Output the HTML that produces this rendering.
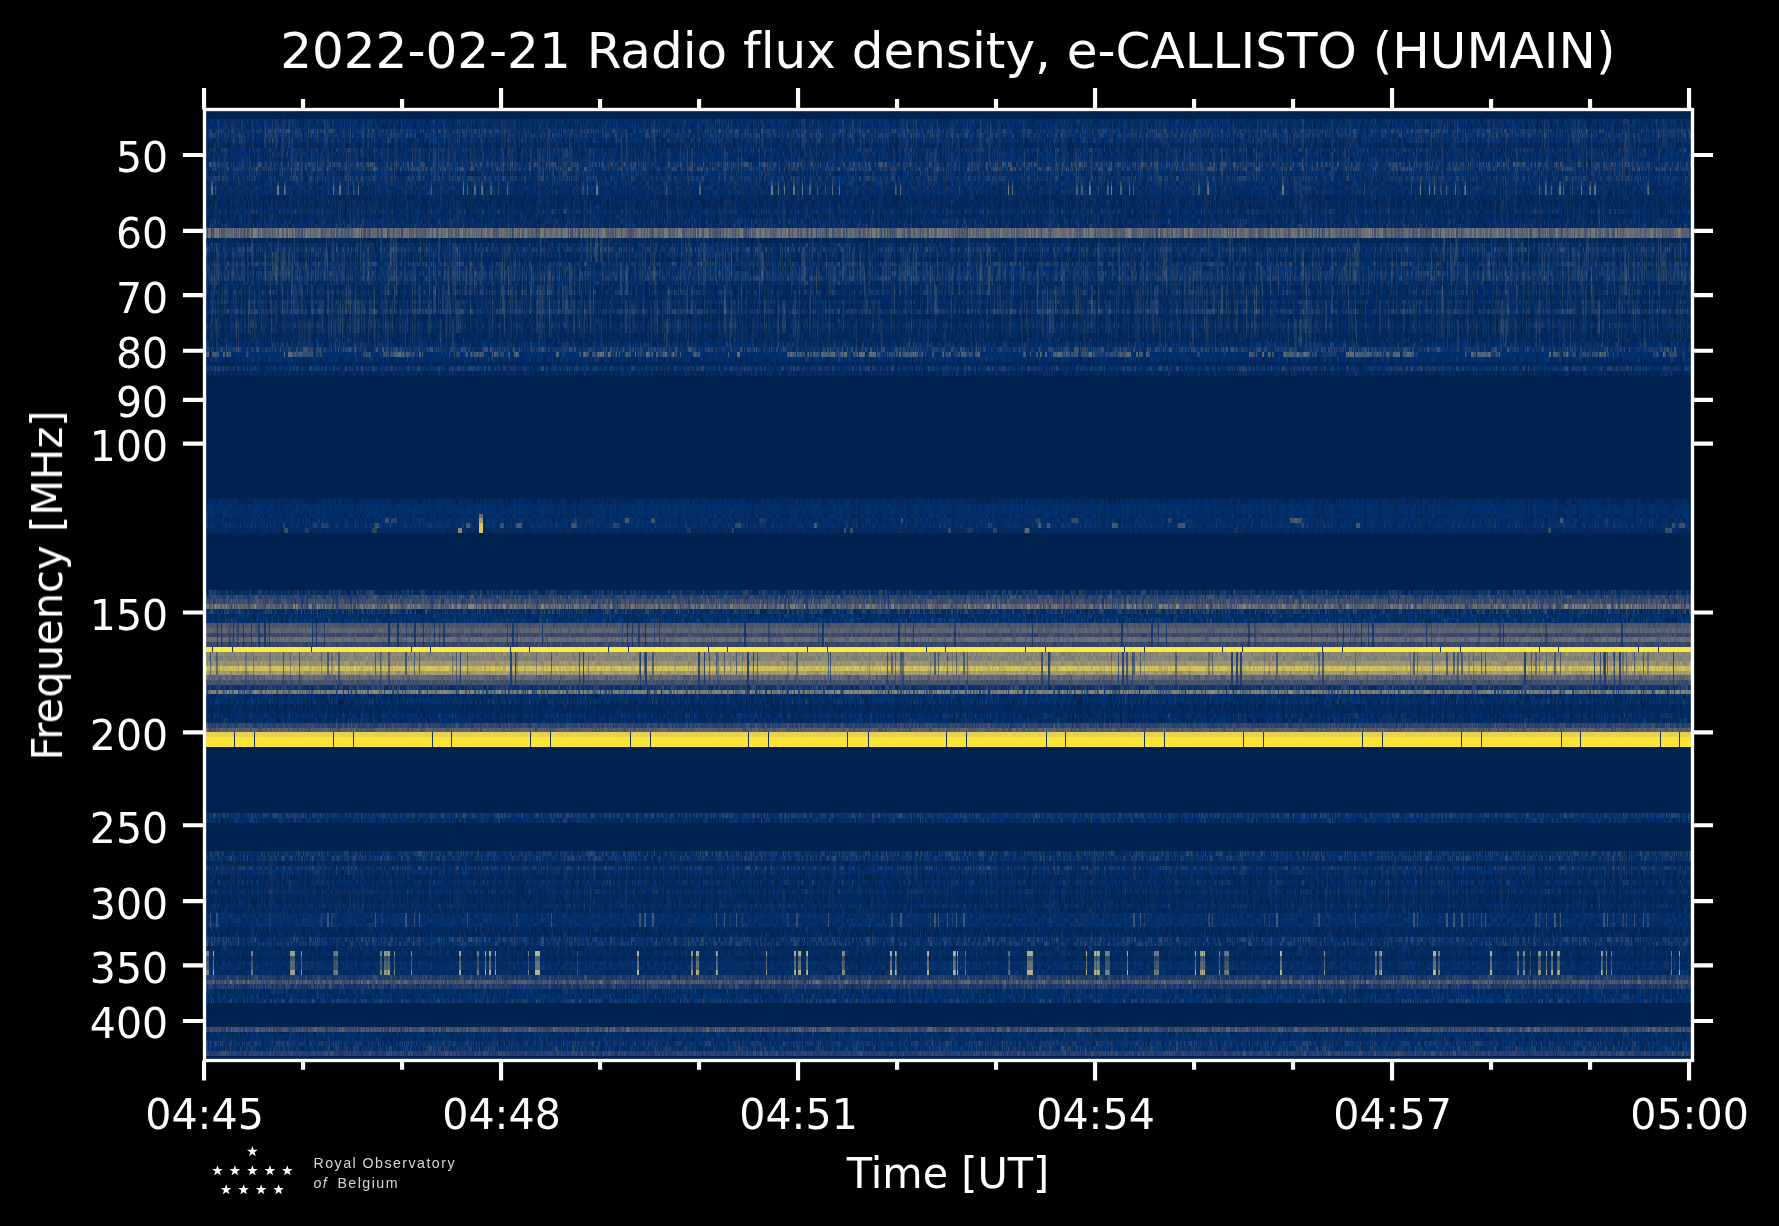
<!DOCTYPE html>
<html lang="en"><head><meta charset="utf-8"><title>2022-02-21 Radio flux density, e-CALLISTO (HUMAIN)</title><style>html,body{margin:0;padding:0;background:#000;overflow:hidden}svg{display:block}</style></head><body>
<svg width="1779" height="1226" viewBox="0 0 1779 1226">
<defs><clipPath id="ax"><rect x="204.5" y="109.5" width="1488.0" height="951.0"/></clipPath>
<filter id="gs" x="0" y="0" width="100%" height="100%" filterUnits="userSpaceOnUse" color-interpolation-filters="sRGB"><feColorMatrix type="saturate" values="0"/></filter>
<g id="n0" stroke="currentColor" transform="translate(.5)"><path opacity="0.22" d="M0 0v1m3-1v1m6-1v1m1-1v1m1-1v1m2-1v1m13-1v1m5-1v1m5-1v1m1-1v1m3-1v1m5-1v1m4-1v1m4-1v1m8-1v1m1-1v1m1-1v1m5-1v1m3-1v1m1-1v1m1-1v1m2-1v1m4-1v1m7-1v1m6-1v1m1-1v1m8-1v1m1-1v1m2-1v1m3-1v1m1-1v1m1-1v1m4-1v1m3-1v1m1-1v1m1-1v1m3-1v1m10-1v1m16-1v1m4-1v1m1-1v1m2-1v1m14-1v1m1-1v1m1-1v1m7-1v1m2-1v1m1-1v1m1-1v1m1-1v1m8-1v1m4-1v1m1-1v1m1-1v1m6-1v1m10-1v1m4-1v1m11-1v1m7-1v1m2-1v1m18-1v1m3-1v1m1-1v1m1-1v1m4-1v1m3-1v1m4-1v1m1-1v1m6-1v1m6-1v1m3-1v1m18-1v1m6-1v1m3-1v1m1-1v1m5-1v1m1-1v1m1-1v1m13-1v1m4-1v1m22-1v1m1-1v1m6-1v1m9-1v1m1-1v1m10-1v1m38-1v1m2-1v1m1-1v1m1-1v1m3-1v1m15-1v1m3-1v1m3-1v1m12-1v1m2-1v1m2-1v1m7-1v1m3-1v1m1-1v1m16-1v1m1-1v1m12-1v1m1-1v1m6-1v1m5-1v1m1-1v1m1-1v1m4-1v1m2-1v1m26-1v1m1-1v1m3-1v1m10-1v1m1-1v1m1-1v1m8-1v1m1-1v1m5-1v1m7-1v1m5-1v1m1-1v1m1-1v1m4-1v1m1-1v1m1-1v1m2-1v1m8-1v1m5-1v1m1-1v1m2-1v1m3-1v1m1-1v1m2-1v1m3-1v1m7-1v1m5-1v1m3-1v1m13-1v1m2-1v1m3-1v1m4-1v1m1-1v1m4-1v1m4-1v1m5-1v1m5-1v1m4-1v1m2-1v1m3-1v1m9-1v1m3-1v1m16-1v1m14-1v1m2-1v1m20-1v1m6-1v1m3-1v1m10-1v1m16-1v1m2-1v1m1-1v1m1-1v1m1-1v1m1-1v1m14-1v1m23-1v1m4-1v1m1-1v1m1-1v1m1-1v1m1-1v1m1-1v1m7-1v1m1-1v1m8-1v1m8-1v1m2-1v1m9-1v1m1-1v1m10-1v1m1-1v1m16-1v1m11-1v1m2-1v1m4-1v1m14-1v1m1-1v1m1-1v1m2-1v1m2-1v1m4-1v1m4-1v1m1-1v1m2-1v1m14-1v1m11-1v1m8-1v1m13-1v1m1-1v1m9-1v1m1-1v1m4-1v1m7-1v1m6-1v1m1-1v1m34-1v1m9-1v1m4-1v1m1-1v1m3-1v1m5-1v1m1-1v1m25-1v1m1-1v1m14-1v1m12-1v1m1-1v1m5-1v1m12-1v1m4-1v1m1-1v1m8-1v1m1-1v1m2-1v1m28-1v1m1-1v1m1-1v1m1-1v1m1-1v1m1-1v1m1-1v1m5-1v1m7-1v1m3-1v1m1-1v1m40-1v1m2-1v1m1-1v1m1-1v1m4-1v1m12-1v1m1-1v1m2-1v1m11-1v1m3-1v1m12-1v1m1-1v1m1-1v1m1-1v1m9-1v1m1-1v1m10-1v1m7-1v1m3-1v1m5-1v1m2-1v1m1-1v1m7-1v1m1-1v1m10-1v1m9-1v1m10-1v1m21-1v1m29-1v1m1-1v1m1-1v1m1-1v1m8-1v1m1-1v1m1-1v1m1-1v1m1-1v1m2-1v1"/><path opacity="0.42" d="M1 0v1m24-1v1m17-1v1m4-1v1m2-1v1m4-1v1m2-1v1m3-1v1m2-1v1m10-1v1m5-1v1m3-1v1m1-1v1m2-1v1m2-1v1m1-1v1m2-1v1m3-1v1m1-1v1m1-1v1m5-1v1m8-1v1m7-1v1m5-1v1m28-1v1m3-1v1m7-1v1m2-1v1m1-1v1m6-1v1m2-1v1m7-1v1m5-1v1m2-1v1m35-1v1m9-1v1m3-1v1m16-1v1m19-1v1m2-1v1m5-1v1m8-1v1m5-1v1m8-1v1m11-1v1m1-1v1m23-1v1m5-1v1m5-1v1m9-1v1m11-1v1m12-1v1m1-1v1m5-1v1m15-1v1m6-1v1m17-1v1m21-1v1m5-1v1m4-1v1m1-1v1m1-1v1m4-1v1m9-1v1m1-1v1m22-1v1m9-1v1m1-1v1m8-1v1m11-1v1m2-1v1m3-1v1m4-1v1m10-1v1m14-1v1m47-1v1m1-1v1m1-1v1m2-1v1m3-1v1m1-1v1m6-1v1m1-1v1m5-1v1m6-1v1m1-1v1m5-1v1m1-1v1m3-1v1m6-1v1m6-1v1m1-1v1m5-1v1m3-1v1m2-1v1m1-1v1m4-1v1m1-1v1m8-1v1m4-1v1m10-1v1m4-1v1m3-1v1m9-1v1m38-1v1m3-1v1m10-1v1m8-1v1m3-1v1m2-1v1m1-1v1m6-1v1m3-1v1m12-1v1m4-1v1m4-1v1m2-1v1m2-1v1m20-1v1m23-1v1m8-1v1m13-1v1m16-1v1m6-1v1m19-1v1m1-1v1m3-1v1m4-1v1m34-1v1m2-1v1m5-1v1m6-1v1m2-1v1m11-1v1m3-1v1m6-1v1m5-1v1m5-1v1m7-1v1m1-1v1m9-1v1m7-1v1m8-1v1m3-1v1m17-1v1m15-1v1m9-1v1m3-1v1m2-1v1m3-1v1m1-1v1m10-1v1m13-1v1m2-1v1m4-1v1m5-1v1m1-1v1m1-1v1m7-1v1m2-1v1m1-1v1m2-1v1m20-1v1m6-1v1m7-1v1m3-1v1m3-1v1m8-1v1m17-1v1m22-1v1m19-1v1m3-1v1m13-1v1m3-1v1m4-1v1m17-1v1m3-1v1m1-1v1m1-1v1m2-1v1m19-1v1m9-1v1m1-1v1m4-1v1m1-1v1m2-1v1m3-1v1m3-1v1m2-1v1m4-1v1m3-1v1m17-1v1m3-1v1m1-1v1m2-1v1m10-1v1m4-1v1m6-1v1m2-1v1m6-1v1m12-1v1m3-1v1m11-1v1m1-1v1m6-1v1m2-1v1m1-1v1m1-1v1m11-1v1m11-1v1m3-1v1m26-1v1m11-1v1m1-1v1m1-1v1m5-1v1m3-1v1m3-1v1m5-1v1m1-1v1m3-1v1"/><path opacity="0.62" d="M2 0v1m2-1v1m1-1v1m9-1v1m2-1v1m2-1v1m12-1v1m2-1v1m2-1v1m7-1v1m6-1v1m3-1v1m1-1v1m7-1v1m8-1v1m45-1v1m12-1v1m1-1v1m6-1v1m3-1v1m17-1v1m15-1v1m18-1v1m1-1v1m13-1v1m3-1v1m9-1v1m17-1v1m14-1v1m12-1v1m9-1v1m15-1v1m20-1v1m1-1v1m1-1v1m17-1v1m31-1v1m22-1v1m1-1v1m1-1v1m2-1v1m10-1v1m24-1v1m4-1v1m12-1v1m34-1v1m14-1v1m8-1v1m10-1v1m3-1v1m3-1v1m26-1v1m4-1v1m14-1v1m5-1v1m1-1v1m2-1v1m4-1v1m4-1v1m8-1v1m1-1v1m1-1v1m3-1v1m5-1v1m12-1v1m7-1v1m26-1v1m25-1v1m24-1v1m10-1v1m42-1v1m6-1v1m4-1v1m4-1v1m3-1v1m1-1v1m8-1v1m18-1v1m3-1v1m9-1v1m15-1v1m8-1v1m12-1v1m10-1v1m1-1v1m7-1v1m9-1v1m24-1v1m9-1v1m1-1v1m1-1v1m30-1v1m1-1v1m5-1v1m2-1v1m3-1v1m2-1v1m21-1v1m4-1v1m6-1v1m5-1v1m11-1v1m1-1v1m5-1v1m11-1v1m10-1v1m3-1v1m3-1v1m6-1v1m7-1v1m1-1v1m13-1v1m1-1v1m1-1v1m7-1v1m2-1v1m3-1v1m1-1v1m11-1v1m9-1v1m19-1v1m5-1v1m8-1v1m26-1v1m1-1v1m3-1v1m21-1v1m13-1v1m3-1v1m28-1v1m1-1v1m2-1v1m6-1v1m1-1v1m1-1v1m2-1v1m1-1v1m2-1v1m20-1v1m19-1v1m6-1v1m3-1v1m12-1v1m4-1v1m17-1v1m1-1v1m4-1v1m24-1v1m1-1v1m1-1v1m2-1v1m7-1v1m41-1v1m9-1v1m2-1v1m5-1v1m20-1v1m3-1v1m5-1v1m1-1v1m14-1v1m1-1v1m5-1v1m1-1v1m2-1v1m9-1v1m4-1v1"/><path opacity="0.82" d="M17 0v1m2-1v1m1-1v1m47-1v1m3-1v1m17-1v1m10-1v1m23-1v1m2-1v1m6-1v1m57-1v1m1-1v1m6-1v1m6-1v1m7-1v1m1-1v1m2-1v1m15-1v1m15-1v1m4-1v1m1-1v1m4-1v1m1-1v1m34-1v1m2-1v1m11-1v1m6-1v1m4-1v1m39-1v1m3-1v1m11-1v1m57-1v1m1-1v1m3-1v1m2-1v1m31-1v1m7-1v1m4-1v1m11-1v1m1-1v1m15-1v1m2-1v1m9-1v1m50-1v1m22-1v1m1-1v1m28-1v1m6-1v1m48-1v1m31-1v1m27-1v1m2-1v1m1-1v1m4-1v1m8-1v1m4-1v1m5-1v1m18-1v1m15-1v1m2-1v1m3-1v1m6-1v1m12-1v1m10-1v1m10-1v1m20-1v1m27-1v1m1-1v1m28-1v1m7-1v1m2-1v1m9-1v1m5-1v1m13-1v1m38-1v1m4-1v1m2-1v1m1-1v1m9-1v1m2-1v1m15-1v1m60-1v1m8-1v1m11-1v1m7-1v1m1-1v1m37-1v1m12-1v1m2-1v1m21-1v1m1-1v1m1-1v1m13-1v1m17-1v1m1-1v1m23-1v1m19-1v1m48-1v1m7-1v1m45-1v1m42-1v1m17-1v1m1-1v1m7-1v1m9-1v1m6-1v1m3-1v1m1-1v1m1-1v1m12-1v1m11-1v1m29-1v1"/><path opacity="1.00" d="M21 0v1m1-1v1m2-1v1m3-1v1m100-1v1m2-1v1m37-1v1m1-1v1m21-1v1m43-1v1m13-1v1m7-1v1m4-1v1m17-1v1m9-1v1m41-1v1m33-1v1m18-1v1m5-1v1m1-1v1m10-1v1m1-1v1m10-1v1m5-1v1m2-1v1m75-1v1m51-1v1m19-1v1m5-1v1m1-1v1m96-1v1m3-1v1m1-1v1m42-1v1m91-1v1m1-1v1m1-1v1m2-1v1m20-1v1m6-1v1m12-1v1m7-1v1m1-1v1m41-1v1m6-1v1m1-1v1m16-1v1m24-1v1m11-1v1m26-1v1m74-1v1m1-1v1m1-1v1m6-1v1m18-1v1m35-1v1m1-1v1m21-1v1m2-1v1m1-1v1m1-1v1m9-1v1m6-1v1m30-1v1m19-1v1m4-1v1m26-1v1m7-1v1m1-1v1m1-1v1m7-1v1m13-1v1m1-1v1m1-1v1m21-1v1m70-1v1m37-1v1m8-1v1m31-1v1m50-1v1m10-1v1m1-1v1"/></g>
<g id="n1" stroke="currentColor" transform="translate(.5)"><path opacity="0.22" d="M4 0v1m25-1v1m4-1v1m1-1v1m3-1v1m13-1v1m3-1v1m1-1v1m2-1v1m17-1v1m2-1v1m1-1v1m10-1v1m4-1v1m9-1v1m1-1v1m1-1v1m10-1v1m5-1v1m1-1v1m1-1v1m4-1v1m7-1v1m2-1v1m4-1v1m14-1v1m52-1v1m10-1v1m8-1v1m3-1v1m5-1v1m4-1v1m3-1v1m11-1v1m8-1v1m18-1v1m1-1v1m1-1v1m16-1v1m13-1v1m3-1v1m1-1v1m2-1v1m1-1v1m1-1v1m14-1v1m2-1v1m20-1v1m1-1v1m5-1v1m10-1v1m11-1v1m11-1v1m2-1v1m1-1v1m3-1v1m6-1v1m6-1v1m12-1v1m3-1v1m1-1v1m4-1v1m2-1v1m9-1v1m14-1v1m1-1v1m4-1v1m4-1v1m1-1v1m6-1v1m3-1v1m11-1v1m7-1v1m1-1v1m3-1v1m1-1v1m1-1v1m4-1v1m2-1v1m1-1v1m5-1v1m3-1v1m2-1v1m3-1v1m4-1v1m1-1v1m5-1v1m11-1v1m4-1v1m6-1v1m4-1v1m11-1v1m10-1v1m3-1v1m1-1v1m1-1v1m18-1v1m4-1v1m1-1v1m4-1v1m1-1v1m9-1v1m2-1v1m5-1v1m5-1v1m6-1v1m3-1v1m7-1v1m8-1v1m12-1v1m5-1v1m2-1v1m2-1v1m2-1v1m22-1v1m6-1v1m6-1v1m11-1v1m1-1v1m4-1v1m2-1v1m6-1v1m5-1v1m9-1v1m1-1v1m3-1v1m29-1v1m1-1v1m6-1v1m26-1v1m17-1v1m9-1v1m6-1v1m1-1v1m4-1v1m6-1v1m3-1v1m2-1v1m10-1v1m1-1v1m3-1v1m16-1v1m2-1v1m5-1v1m8-1v1m3-1v1m13-1v1m8-1v1m2-1v1m4-1v1m15-1v1m12-1v1m1-1v1m8-1v1m1-1v1m2-1v1m6-1v1m1-1v1m2-1v1m1-1v1m2-1v1m2-1v1m7-1v1m6-1v1m4-1v1m6-1v1m1-1v1m1-1v1m1-1v1m3-1v1m6-1v1m1-1v1m4-1v1m7-1v1m8-1v1m2-1v1m1-1v1m3-1v1m3-1v1m6-1v1m16-1v1m8-1v1m1-1v1m1-1v1m20-1v1m6-1v1m14-1v1m16-1v1m2-1v1m14-1v1m6-1v1m10-1v1m8-1v1m1-1v1m5-1v1m7-1v1m17-1v1m12-1v1m16-1v1m1-1v1m2-1v1m3-1v1m10-1v1m5-1v1m1-1v1m2-1v1m3-1v1m15-1v1m15-1v1m3-1v1m1-1v1m6-1v1m1-1v1m4-1v1m1-1v1m3-1v1m9-1v1m13-1v1m12-1v1m6-1v1m2-1v1m1-1v1m8-1v1m7-1v1m9-1v1m6-1v1m17-1v1m1-1v1m3-1v1m15-1v1m1-1v1m1-1v1m2-1v1m3-1v1m8-1v1m13-1v1m2-1v1m3-1v1m1-1v1m2-1v1m1-1v1m1-1v1m11-1v1m1-1v1m4-1v1m11-1v1m4-1v1"/><path opacity="0.42" d="M1 0v1m17-1v1m3-1v1m5-1v1m2-1v1m3-1v1m8-1v1m6-1v1m7-1v1m3-1v1m5-1v1m1-1v1m1-1v1m4-1v1m3-1v1m10-1v1m1-1v1m3-1v1m2-1v1m2-1v1m8-1v1m3-1v1m4-1v1m28-1v1m8-1v1m4-1v1m8-1v1m2-1v1m4-1v1m3-1v1m9-1v1m4-1v1m1-1v1m12-1v1m1-1v1m12-1v1m14-1v1m1-1v1m10-1v1m6-1v1m4-1v1m8-1v1m13-1v1m3-1v1m7-1v1m10-1v1m2-1v1m1-1v1m13-1v1m2-1v1m4-1v1m20-1v1m2-1v1m4-1v1m12-1v1m1-1v1m1-1v1m1-1v1m1-1v1m3-1v1m8-1v1m1-1v1m10-1v1m3-1v1m18-1v1m11-1v1m3-1v1m8-1v1m4-1v1m3-1v1m1-1v1m8-1v1m7-1v1m5-1v1m1-1v1m8-1v1m5-1v1m1-1v1m5-1v1m13-1v1m3-1v1m13-1v1m6-1v1m7-1v1m2-1v1m5-1v1m4-1v1m14-1v1m1-1v1m2-1v1m5-1v1m6-1v1m6-1v1m16-1v1m5-1v1m1-1v1m8-1v1m15-1v1m20-1v1m31-1v1m1-1v1m10-1v1m21-1v1m5-1v1m5-1v1m20-1v1m1-1v1m3-1v1m15-1v1m1-1v1m2-1v1m2-1v1m1-1v1m1-1v1m22-1v1m1-1v1m33-1v1m3-1v1m1-1v1m7-1v1m1-1v1m6-1v1m4-1v1m9-1v1m16-1v1m18-1v1m17-1v1m1-1v1m11-1v1m3-1v1m3-1v1m1-1v1m10-1v1m13-1v1m5-1v1m8-1v1m8-1v1m3-1v1m6-1v1m19-1v1m3-1v1m4-1v1m4-1v1m16-1v1m40-1v1m1-1v1m1-1v1m30-1v1m2-1v1m2-1v1m1-1v1m13-1v1m10-1v1m8-1v1m4-1v1m25-1v1m5-1v1m2-1v1m1-1v1m5-1v1m1-1v1m10-1v1m5-1v1m1-1v1m15-1v1m1-1v1m17-1v1m7-1v1m7-1v1m1-1v1m5-1v1m7-1v1m13-1v1m1-1v1m6-1v1m29-1v1m28-1v1m13-1v1m7-1v1m18-1v1m8-1v1m3-1v1m1-1v1m8-1v1m8-1v1m9-1v1m4-1v1m12-1v1m5-1v1m1-1v1m2-1v1m2-1v1m4-1v1m5-1v1m7-1v1m20-1v1m3-1v1m14-1v1m15-1v1m9-1v1m2-1v1m10-1v1m2-1v1m1-1v1"/><path opacity="0.62" d="M6 0v1m1-1v1m6-1v1m2-1v1m12-1v1m30-1v1m7-1v1m1-1v1m2-1v1m4-1v1m1-1v1m22-1v1m3-1v1m9-1v1m1-1v1m7-1v1m22-1v1m11-1v1m1-1v1m5-1v1m18-1v1m4-1v1m3-1v1m9-1v1m5-1v1m24-1v1m14-1v1m2-1v1m8-1v1m4-1v1m49-1v1m1-1v1m3-1v1m1-1v1m2-1v1m1-1v1m16-1v1m13-1v1m25-1v1m9-1v1m4-1v1m9-1v1m11-1v1m5-1v1m1-1v1m27-1v1m18-1v1m4-1v1m7-1v1m3-1v1m2-1v1m18-1v1m26-1v1m2-1v1m35-1v1m6-1v1m1-1v1m4-1v1m1-1v1m13-1v1m26-1v1m4-1v1m1-1v1m4-1v1m1-1v1m10-1v1m4-1v1m1-1v1m6-1v1m3-1v1m9-1v1m7-1v1m14-1v1m7-1v1m12-1v1m7-1v1m5-1v1m2-1v1m19-1v1m1-1v1m30-1v1m4-1v1m8-1v1m9-1v1m7-1v1m1-1v1m24-1v1m7-1v1m1-1v1m2-1v1m7-1v1m14-1v1m16-1v1m10-1v1m60-1v1m1-1v1m12-1v1m1-1v1m1-1v1m1-1v1m7-1v1m4-1v1m11-1v1m10-1v1m16-1v1m2-1v1m13-1v1m16-1v1m4-1v1m9-1v1m3-1v1m10-1v1m16-1v1m7-1v1m11-1v1m1-1v1m2-1v1m1-1v1m19-1v1m1-1v1m2-1v1m7-1v1m9-1v1m17-1v1m1-1v1m2-1v1m22-1v1m13-1v1m1-1v1m2-1v1m4-1v1m1-1v1m19-1v1m13-1v1m5-1v1m1-1v1m20-1v1m14-1v1m9-1v1m1-1v1m23-1v1m1-1v1m36-1v1m13-1v1m8-1v1m6-1v1m3-1v1m1-1v1m5-1v1m11-1v1m2-1v1m1-1v1m3-1v1m1-1v1m4-1v1m7-1v1m5-1v1m8-1v1m12-1v1m31-1v1m1-1v1m4-1v1m1-1v1m2-1v1m41-1v1m2-1v1m1-1v1"/><path opacity="0.82" d="M3 0v1m13-1v1m28-1v1m2-1v1m22-1v1m14-1v1m7-1v1m7-1v1m17-1v1m19-1v1m5-1v1m2-1v1m7-1v1m8-1v1m1-1v1m3-1v1m12-1v1m4-1v1m15-1v1m5-1v1m1-1v1m1-1v1m18-1v1m11-1v1m12-1v1m24-1v1m5-1v1m2-1v1m11-1v1m20-1v1m4-1v1m1-1v1m38-1v1m24-1v1m5-1v1m1-1v1m4-1v1m44-1v1m7-1v1m7-1v1m24-1v1m10-1v1m1-1v1m3-1v1m7-1v1m13-1v1m11-1v1m13-1v1m8-1v1m3-1v1m10-1v1m2-1v1m19-1v1m15-1v1m1-1v1m1-1v1m1-1v1m2-1v1m6-1v1m25-1v1m10-1v1m12-1v1m26-1v1m7-1v1m24-1v1m10-1v1m8-1v1m18-1v1m40-1v1m19-1v1m24-1v1m7-1v1m1-1v1m13-1v1m4-1v1m3-1v1m4-1v1m10-1v1m1-1v1m23-1v1m8-1v1m11-1v1m1-1v1m41-1v1m11-1v1m1-1v1m3-1v1m1-1v1m108-1v1m13-1v1m10-1v1m13-1v1m19-1v1m3-1v1m24-1v1m1-1v1m1-1v1m16-1v1m18-1v1m5-1v1m1-1v1m7-1v1m1-1v1m16-1v1m11-1v1m4-1v1m21-1v1m18-1v1m11-1v1m1-1v1m13-1v1m1-1v1m4-1v1m34-1v1m1-1v1m1-1v1m9-1v1m19-1v1m9-1v1m25-1v1m7-1v1m10-1v1m7-1v1m22-1v1m46-1v1m2-1v1m2-1v1m4-1v1m2-1v1"/><path opacity="1.00" d="M78 0v1m3-1v1m34-1v1m18-1v1m29-1v1m7-1v1m7-1v1m3-1v1m1-1v1m10-1v1m14-1v1m1-1v1m2-1v1m3-1v1m74-1v1m72-1v1m11-1v1m24-1v1m9-1v1m42-1v1m17-1v1m1-1v1m10-1v1m13-1v1m28-1v1m38-1v1m1-1v1m1-1v1m1-1v1m30-1v1m31-1v1m1-1v1m8-1v1m37-1v1m3-1v1m7-1v1m14-1v1m2-1v1m5-1v1m1-1v1m16-1v1m77-1v1m24-1v1m3-1v1m1-1v1m1-1v1m11-1v1m16-1v1m26-1v1m16-1v1m13-1v1m1-1v1m3-1v1m1-1v1m29-1v1m1-1v1m17-1v1m1-1v1m12-1v1m6-1v1m9-1v1m15-1v1m11-1v1m12-1v1m11-1v1m45-1v1m22-1v1m7-1v1m40-1v1m9-1v1m65-1v1m1-1v1m68-1v1m16-1v1m24-1v1m1-1v1m1-1v1m62-1v1m58-1v1m24-1v1m16-1v1"/></g>
<g id="n2" stroke="currentColor" transform="translate(.5)"><path opacity="0.22" d="M21 0v1m1-1v1m2-1v1m2-1v1m1-1v1m7-1v1m13-1v1m8-1v1m9-1v1m1-1v1m15-1v1m1-1v1m2-1v1m12-1v1m5-1v1m10-1v1m5-1v1m3-1v1m8-1v1m8-1v1m1-1v1m2-1v1m2-1v1m2-1v1m15-1v1m4-1v1m1-1v1m14-1v1m1-1v1m6-1v1m4-1v1m7-1v1m1-1v1m1-1v1m1-1v1m1-1v1m2-1v1m14-1v1m8-1v1m1-1v1m8-1v1m1-1v1m2-1v1m7-1v1m20-1v1m15-1v1m3-1v1m9-1v1m1-1v1m5-1v1m1-1v1m1-1v1m2-1v1m8-1v1m9-1v1m4-1v1m1-1v1m5-1v1m1-1v1m10-1v1m1-1v1m1-1v1m15-1v1m1-1v1m1-1v1m16-1v1m4-1v1m3-1v1m1-1v1m1-1v1m6-1v1m1-1v1m2-1v1m1-1v1m8-1v1m12-1v1m4-1v1m6-1v1m14-1v1m3-1v1m4-1v1m3-1v1m1-1v1m8-1v1m9-1v1m1-1v1m1-1v1m3-1v1m1-1v1m8-1v1m1-1v1m8-1v1m2-1v1m1-1v1m4-1v1m16-1v1m8-1v1m2-1v1m3-1v1m4-1v1m8-1v1m3-1v1m13-1v1m1-1v1m1-1v1m1-1v1m5-1v1m2-1v1m11-1v1m6-1v1m1-1v1m6-1v1m22-1v1m8-1v1m27-1v1m1-1v1m4-1v1m1-1v1m2-1v1m1-1v1m32-1v1m1-1v1m5-1v1m10-1v1m4-1v1m1-1v1m13-1v1m6-1v1m3-1v1m10-1v1m1-1v1m3-1v1m7-1v1m6-1v1m1-1v1m1-1v1m6-1v1m16-1v1m1-1v1m4-1v1m1-1v1m2-1v1m1-1v1m8-1v1m6-1v1m8-1v1m2-1v1m4-1v1m4-1v1m1-1v1m1-1v1m6-1v1m5-1v1m4-1v1m1-1v1m3-1v1m1-1v1m1-1v1m14-1v1m7-1v1m4-1v1m20-1v1m3-1v1m8-1v1m4-1v1m2-1v1m5-1v1m3-1v1m1-1v1m1-1v1m4-1v1m1-1v1m2-1v1m19-1v1m2-1v1m1-1v1m11-1v1m4-1v1m1-1v1m4-1v1m19-1v1m1-1v1m6-1v1m3-1v1m3-1v1m14-1v1m25-1v1m1-1v1m1-1v1m11-1v1m1-1v1m1-1v1m3-1v1m8-1v1m5-1v1m3-1v1m1-1v1m1-1v1m12-1v1m6-1v1m1-1v1m2-1v1m1-1v1m1-1v1m1-1v1m2-1v1m1-1v1m14-1v1m1-1v1m2-1v1m1-1v1m6-1v1m1-1v1m6-1v1m1-1v1m1-1v1m12-1v1m2-1v1m6-1v1m6-1v1m2-1v1m8-1v1m5-1v1m1-1v1m13-1v1m1-1v1m1-1v1m1-1v1m2-1v1m6-1v1m15-1v1m3-1v1m10-1v1m1-1v1m1-1v1m1-1v1m2-1v1m17-1v1m2-1v1m1-1v1m4-1v1m1-1v1m11-1v1m1-1v1m3-1v1m6-1v1m1-1v1m6-1v1m1-1v1m1-1v1m2-1v1m2-1v1m1-1v1m2-1v1m27-1v1m27-1v1m3-1v1m8-1v1m2-1v1m35-1v1m2-1v1m2-1v1m3-1v1m7-1v1m7-1v1m1-1v1m1-1v1m14-1v1m5-1v1m14-1v1m1-1v1m1-1v1m11-1v1m8-1v1m1-1v1m2-1v1m7-1v1"/><path opacity="0.42" d="M9 0v1m4-1v1m1-1v1m5-1v1m13-1v1m7-1v1m7-1v1m20-1v1m2-1v1m9-1v1m5-1v1m5-1v1m11-1v1m1-1v1m29-1v1m5-1v1m3-1v1m9-1v1m12-1v1m6-1v1m2-1v1m2-1v1m5-1v1m1-1v1m8-1v1m22-1v1m5-1v1m6-1v1m2-1v1m8-1v1m4-1v1m6-1v1m7-1v1m6-1v1m5-1v1m10-1v1m9-1v1m14-1v1m14-1v1m13-1v1m1-1v1m3-1v1m13-1v1m14-1v1m5-1v1m1-1v1m14-1v1m9-1v1m4-1v1m4-1v1m21-1v1m1-1v1m8-1v1m1-1v1m9-1v1m5-1v1m14-1v1m3-1v1m3-1v1m2-1v1m1-1v1m6-1v1m4-1v1m25-1v1m5-1v1m1-1v1m13-1v1m4-1v1m4-1v1m1-1v1m10-1v1m12-1v1m9-1v1m1-1v1m2-1v1m25-1v1m13-1v1m6-1v1m4-1v1m2-1v1m1-1v1m3-1v1m7-1v1m4-1v1m6-1v1m5-1v1m1-1v1m2-1v1m1-1v1m38-1v1m3-1v1m1-1v1m5-1v1m12-1v1m18-1v1m1-1v1m3-1v1m2-1v1m5-1v1m2-1v1m1-1v1m10-1v1m2-1v1m2-1v1m1-1v1m11-1v1m3-1v1m10-1v1m1-1v1m6-1v1m9-1v1m19-1v1m9-1v1m3-1v1m4-1v1m4-1v1m8-1v1m11-1v1m19-1v1m7-1v1m9-1v1m3-1v1m6-1v1m1-1v1m3-1v1m2-1v1m2-1v1m6-1v1m5-1v1m4-1v1m3-1v1m7-1v1m14-1v1m17-1v1m9-1v1m21-1v1m1-1v1m18-1v1m1-1v1m2-1v1m6-1v1m16-1v1m14-1v1m1-1v1m3-1v1m18-1v1m4-1v1m2-1v1m1-1v1m15-1v1m13-1v1m20-1v1m20-1v1m1-1v1m6-1v1m1-1v1m4-1v1m14-1v1m11-1v1m10-1v1m1-1v1m3-1v1m12-1v1m6-1v1m4-1v1m4-1v1m12-1v1m13-1v1m2-1v1m7-1v1m2-1v1m2-1v1m1-1v1m8-1v1m1-1v1m11-1v1m1-1v1m7-1v1m17-1v1m15-1v1m13-1v1m1-1v1m1-1v1m6-1v1m9-1v1m2-1v1m3-1v1m1-1v1m6-1v1m3-1v1m10-1v1m6-1v1m1-1v1m5-1v1m10-1v1m19-1v1m23-1v1m5-1v1m13-1v1m17-1v1m12-1v1m9-1v1m1-1v1m1-1v1m2-1v1m6-1v1m2-1v1m2-1v1"/><path opacity="0.62" d="M5 0v1m3-1v1m7-1v1m5-1v1m5-1v1m5-1v1m11-1v1m3-1v1m5-1v1m2-1v1m57-1v1m8-1v1m3-1v1m11-1v1m1-1v1m12-1v1m6-1v1m4-1v1m9-1v1m4-1v1m5-1v1m7-1v1m26-1v1m13-1v1m3-1v1m15-1v1m3-1v1m8-1v1m2-1v1m9-1v1m15-1v1m1-1v1m3-1v1m1-1v1m15-1v1m15-1v1m2-1v1m35-1v1m12-1v1m1-1v1m3-1v1m8-1v1m7-1v1m8-1v1m1-1v1m6-1v1m8-1v1m20-1v1m12-1v1m1-1v1m18-1v1m10-1v1m13-1v1m1-1v1m8-1v1m9-1v1m3-1v1m1-1v1m1-1v1m27-1v1m7-1v1m2-1v1m6-1v1m7-1v1m2-1v1m7-1v1m4-1v1m5-1v1m12-1v1m5-1v1m8-1v1m28-1v1m2-1v1m12-1v1m1-1v1m1-1v1m5-1v1m6-1v1m8-1v1m3-1v1m17-1v1m1-1v1m3-1v1m3-1v1m6-1v1m44-1v1m13-1v1m1-1v1m2-1v1m3-1v1m8-1v1m9-1v1m9-1v1m4-1v1m5-1v1m11-1v1m8-1v1m24-1v1m7-1v1m4-1v1m4-1v1m10-1v1m5-1v1m34-1v1m1-1v1m23-1v1m7-1v1m2-1v1m4-1v1m20-1v1m16-1v1m1-1v1m1-1v1m20-1v1m27-1v1m14-1v1m3-1v1m10-1v1m1-1v1m12-1v1m21-1v1m3-1v1m2-1v1m5-1v1m14-1v1m8-1v1m6-1v1m19-1v1m15-1v1m7-1v1m15-1v1m11-1v1m11-1v1m2-1v1m4-1v1m4-1v1m1-1v1m5-1v1m11-1v1m1-1v1m12-1v1m2-1v1m1-1v1m6-1v1m12-1v1m12-1v1m26-1v1m5-1v1m8-1v1m8-1v1m3-1v1m5-1v1m16-1v1m5-1v1m15-1v1m27-1v1m19-1v1m17-1v1m1-1v1m3-1v1m37-1v1m6-1v1m1-1v1m8-1v1m14-1v1m4-1v1"/><path opacity="0.82" d="M4 0v1m7-1v1m5-1v1m55-1v1m19-1v1m3-1v1m1-1v1m12-1v1m6-1v1m10-1v1m32-1v1m4-1v1m11-1v1m14-1v1m4-1v1m5-1v1m13-1v1m5-1v1m26-1v1m19-1v1m14-1v1m5-1v1m22-1v1m4-1v1m1-1v1m7-1v1m3-1v1m10-1v1m1-1v1m29-1v1m22-1v1m19-1v1m1-1v1m14-1v1m22-1v1m24-1v1m12-1v1m35-1v1m27-1v1m12-1v1m2-1v1m20-1v1m17-1v1m2-1v1m8-1v1m2-1v1m4-1v1m14-1v1m3-1v1m7-1v1m5-1v1m11-1v1m15-1v1m7-1v1m6-1v1m2-1v1m5-1v1m19-1v1m7-1v1m14-1v1m52-1v1m4-1v1m1-1v1m30-1v1m5-1v1m18-1v1m6-1v1m18-1v1m8-1v1m24-1v1m26-1v1m23-1v1m2-1v1m38-1v1m39-1v1m31-1v1m5-1v1m2-1v1m1-1v1m38-1v1m11-1v1m15-1v1m6-1v1m1-1v1m32-1v1m43-1v1m8-1v1m6-1v1m2-1v1m27-1v1m22-1v1m1-1v1m1-1v1m15-1v1m3-1v1m20-1v1m7-1v1m20-1v1m41-1v1m8-1v1m1-1v1m2-1v1m1-1v1m3-1v1m4-1v1m18-1v1m8-1v1m1-1v1m1-1v1m11-1v1m4-1v1m1-1v1m1-1v1m9-1v1m3-1v1m3-1v1m20-1v1m5-1v1m7-1v1m18-1v1"/><path opacity="1.00" d="M12 0v1m11-1v1m12-1v1m17-1v1m39-1v1m16-1v1m7-1v1m28-1v1m5-1v1m12-1v1m11-1v1m18-1v1m1-1v1m17-1v1m9-1v1m34-1v1m1-1v1m4-1v1m2-1v1m3-1v1m6-1v1m1-1v1m1-1v1m1-1v1m2-1v1m11-1v1m1-1v1m4-1v1m16-1v1m36-1v1m1-1v1m1-1v1m24-1v1m2-1v1m5-1v1m37-1v1m20-1v1m43-1v1m14-1v1m13-1v1m1-1v1m17-1v1m12-1v1m63-1v1m10-1v1m56-1v1m8-1v1m24-1v1m1-1v1m35-1v1m59-1v1m1-1v1m1-1v1m3-1v1m9-1v1m28-1v1m8-1v1m19-1v1m44-1v1m31-1v1m3-1v1m1-1v1m16-1v1m8-1v1m1-1v1m1-1v1m15-1v1m1-1v1m1-1v1m29-1v1m11-1v1m21-1v1m4-1v1m6-1v1m13-1v1m9-1v1m11-1v1m18-1v1m3-1v1m5-1v1m16-1v1m23-1v1m64-1v1m1-1v1m8-1v1m1-1v1m1-1v1m21-1v1m62-1v1m19-1v1m4-1v1m25-1v1m12-1v1m1-1v1m1-1v1m17-1v1m1-1v1m3-1v1m19-1v1m1-1v1m8-1v1m15-1v1m4-1v1m11-1v1m39-1v1m7-1v1"/></g>
<g id="n3" stroke="currentColor" transform="translate(.5)"><path opacity="0.22" d="M11 0v1m11-1v1m4-1v1m21-1v1m10-1v1m1-1v1m1-1v1m14-1v1m1-1v1m1-1v1m1-1v1m1-1v1m1-1v1m24-1v1m1-1v1m4-1v1m1-1v1m9-1v1m2-1v1m2-1v1m2-1v1m5-1v1m3-1v1m18-1v1m6-1v1m1-1v1m12-1v1m2-1v1m13-1v1m4-1v1m14-1v1m1-1v1m5-1v1m6-1v1m1-1v1m1-1v1m1-1v1m8-1v1m1-1v1m1-1v1m1-1v1m2-1v1m16-1v1m7-1v1m9-1v1m3-1v1m3-1v1m1-1v1m3-1v1m1-1v1m15-1v1m8-1v1m1-1v1m2-1v1m14-1v1m1-1v1m2-1v1m1-1v1m2-1v1m2-1v1m4-1v1m3-1v1m17-1v1m13-1v1m1-1v1m1-1v1m1-1v1m15-1v1m4-1v1m3-1v1m8-1v1m1-1v1m13-1v1m1-1v1m3-1v1m8-1v1m1-1v1m12-1v1m2-1v1m17-1v1m7-1v1m2-1v1m6-1v1m5-1v1m5-1v1m6-1v1m8-1v1m9-1v1m7-1v1m2-1v1m1-1v1m4-1v1m1-1v1m1-1v1m8-1v1m5-1v1m1-1v1m1-1v1m1-1v1m3-1v1m2-1v1m2-1v1m1-1v1m1-1v1m2-1v1m10-1v1m1-1v1m2-1v1m2-1v1m1-1v1m4-1v1m4-1v1m4-1v1m1-1v1m2-1v1m2-1v1m5-1v1m2-1v1m30-1v1m12-1v1m1-1v1m5-1v1m6-1v1m5-1v1m1-1v1m2-1v1m5-1v1m17-1v1m3-1v1m1-1v1m2-1v1m3-1v1m1-1v1m3-1v1m20-1v1m1-1v1m1-1v1m2-1v1m2-1v1m14-1v1m5-1v1m9-1v1m6-1v1m5-1v1m2-1v1m1-1v1m2-1v1m1-1v1m14-1v1m2-1v1m9-1v1m1-1v1m3-1v1m21-1v1m3-1v1m1-1v1m11-1v1m4-1v1m5-1v1m2-1v1m1-1v1m3-1v1m4-1v1m1-1v1m11-1v1m7-1v1m5-1v1m3-1v1m7-1v1m5-1v1m2-1v1m1-1v1m1-1v1m4-1v1m1-1v1m4-1v1m3-1v1m3-1v1m1-1v1m4-1v1m5-1v1m1-1v1m2-1v1m1-1v1m3-1v1m3-1v1m5-1v1m23-1v1m7-1v1m4-1v1m8-1v1m6-1v1m9-1v1m17-1v1m1-1v1m1-1v1m6-1v1m2-1v1m2-1v1m6-1v1m5-1v1m3-1v1m1-1v1m10-1v1m5-1v1m2-1v1m3-1v1m2-1v1m3-1v1m8-1v1m3-1v1m2-1v1m1-1v1m1-1v1m5-1v1m1-1v1m2-1v1m7-1v1m10-1v1m1-1v1m1-1v1m1-1v1m19-1v1m28-1v1m4-1v1m1-1v1m4-1v1m8-1v1m1-1v1m8-1v1m7-1v1m4-1v1m6-1v1m1-1v1m2-1v1m2-1v1m7-1v1m2-1v1m9-1v1m8-1v1m5-1v1m4-1v1m8-1v1m15-1v1m3-1v1m1-1v1m16-1v1m1-1v1m23-1v1m9-1v1m1-1v1m7-1v1m1-1v1m1-1v1m1-1v1m8-1v1m3-1v1m1-1v1m5-1v1m1-1v1m1-1v1m11-1v1m20-1v1m1-1v1m1-1v1m14-1v1m2-1v1m1-1v1m12-1v1m1-1v1m1-1v1m1-1v1m2-1v1m3-1v1m12-1v1m19-1v1m2-1v1m6-1v1m1-1v1m2-1v1m1-1v1m7-1v1m22-1v1m5-1v1m6-1v1m5-1v1m1-1v1m1-1v1m4-1v1"/><path opacity="0.42" d="M4 0v1m2-1v1m9-1v1m1-1v1m2-1v1m6-1v1m1-1v1m8-1v1m1-1v1m6-1v1m20-1v1m2-1v1m19-1v1m6-1v1m2-1v1m3-1v1m19-1v1m7-1v1m2-1v1m2-1v1m14-1v1m1-1v1m4-1v1m2-1v1m1-1v1m4-1v1m12-1v1m3-1v1m3-1v1m1-1v1m4-1v1m4-1v1m10-1v1m1-1v1m4-1v1m13-1v1m2-1v1m1-1v1m11-1v1m2-1v1m2-1v1m1-1v1m1-1v1m5-1v1m13-1v1m7-1v1m1-1v1m4-1v1m5-1v1m17-1v1m1-1v1m14-1v1m4-1v1m8-1v1m1-1v1m1-1v1m6-1v1m4-1v1m5-1v1m3-1v1m8-1v1m10-1v1m7-1v1m2-1v1m12-1v1m1-1v1m4-1v1m19-1v1m4-1v1m9-1v1m8-1v1m1-1v1m2-1v1m1-1v1m3-1v1m5-1v1m12-1v1m32-1v1m5-1v1m2-1v1m1-1v1m10-1v1m1-1v1m3-1v1m2-1v1m6-1v1m2-1v1m1-1v1m2-1v1m4-1v1m1-1v1m5-1v1m2-1v1m12-1v1m11-1v1m6-1v1m9-1v1m4-1v1m11-1v1m9-1v1m7-1v1m2-1v1m8-1v1m4-1v1m2-1v1m2-1v1m2-1v1m12-1v1m6-1v1m10-1v1m2-1v1m12-1v1m7-1v1m1-1v1m3-1v1m5-1v1m2-1v1m2-1v1m5-1v1m12-1v1m3-1v1m19-1v1m2-1v1m5-1v1m1-1v1m8-1v1m9-1v1m1-1v1m6-1v1m7-1v1m4-1v1m10-1v1m7-1v1m1-1v1m17-1v1m2-1v1m8-1v1m4-1v1m2-1v1m5-1v1m12-1v1m10-1v1m14-1v1m2-1v1m5-1v1m7-1v1m6-1v1m2-1v1m4-1v1m6-1v1m10-1v1m1-1v1m14-1v1m7-1v1m9-1v1m6-1v1m9-1v1m10-1v1m6-1v1m5-1v1m6-1v1m6-1v1m2-1v1m6-1v1m1-1v1m5-1v1m3-1v1m6-1v1m2-1v1m5-1v1m17-1v1m18-1v1m9-1v1m2-1v1m13-1v1m2-1v1m1-1v1m11-1v1m4-1v1m2-1v1m20-1v1m1-1v1m2-1v1m1-1v1m8-1v1m5-1v1m2-1v1m8-1v1m3-1v1m18-1v1m10-1v1m2-1v1m1-1v1m4-1v1m11-1v1m1-1v1m1-1v1m9-1v1m1-1v1m5-1v1m2-1v1m5-1v1m2-1v1m2-1v1m32-1v1m5-1v1m1-1v1m9-1v1m33-1v1m10-1v1m35-1v1m1-1v1m1-1v1m7-1v1m1-1v1m1-1v1m7-1v1m4-1v1m13-1v1m1-1v1m10-1v1m21-1v1m7-1v1m17-1v1m3-1v1m37-1v1m2-1v1m1-1v1m17-1v1m1-1v1m6-1v1m11-1v1m2-1v1"/><path opacity="0.62" d="M0 0v1m1-1v1m1-1v1m8-1v1m17-1v1m4-1v1m10-1v1m8-1v1m6-1v1m12-1v1m1-1v1m3-1v1m30-1v1m3-1v1m29-1v1m1-1v1m8-1v1m3-1v1m5-1v1m11-1v1m1-1v1m10-1v1m2-1v1m7-1v1m7-1v1m16-1v1m26-1v1m3-1v1m3-1v1m7-1v1m7-1v1m5-1v1m29-1v1m1-1v1m6-1v1m2-1v1m15-1v1m15-1v1m13-1v1m1-1v1m14-1v1m1-1v1m15-1v1m2-1v1m2-1v1m2-1v1m23-1v1m45-1v1m1-1v1m7-1v1m22-1v1m12-1v1m2-1v1m28-1v1m2-1v1m1-1v1m3-1v1m5-1v1m24-1v1m38-1v1m9-1v1m4-1v1m1-1v1m3-1v1m5-1v1m9-1v1m1-1v1m11-1v1m13-1v1m7-1v1m3-1v1m5-1v1m21-1v1m1-1v1m2-1v1m8-1v1m2-1v1m14-1v1m3-1v1m4-1v1m10-1v1m10-1v1m1-1v1m12-1v1m4-1v1m1-1v1m6-1v1m14-1v1m10-1v1m6-1v1m25-1v1m19-1v1m31-1v1m6-1v1m4-1v1m21-1v1m4-1v1m15-1v1m1-1v1m5-1v1m14-1v1m9-1v1m6-1v1m1-1v1m3-1v1m8-1v1m7-1v1m12-1v1m22-1v1m10-1v1m8-1v1m9-1v1m2-1v1m5-1v1m6-1v1m17-1v1m17-1v1m1-1v1m23-1v1m10-1v1m2-1v1m3-1v1m29-1v1m10-1v1m3-1v1m41-1v1m5-1v1m2-1v1m1-1v1m7-1v1m18-1v1m6-1v1m11-1v1m1-1v1m8-1v1m12-1v1m1-1v1m3-1v1m51-1v1m22-1v1m15-1v1m13-1v1m5-1v1m20-1v1m1-1v1m5-1v1m3-1v1m9-1v1m9-1v1m3-1v1m33-1v1m9-1v1m18-1v1"/><path opacity="0.82" d="M61 0v1m11-1v1m14-1v1m9-1v1m3-1v1m41-1v1m12-1v1m7-1v1m1-1v1m39-1v1m22-1v1m14-1v1m1-1v1m21-1v1m22-1v1m55-1v1m32-1v1m5-1v1m17-1v1m10-1v1m15-1v1m10-1v1m4-1v1m2-1v1m28-1v1m43-1v1m1-1v1m17-1v1m24-1v1m1-1v1m1-1v1m2-1v1m13-1v1m23-1v1m1-1v1m22-1v1m3-1v1m17-1v1m19-1v1m10-1v1m1-1v1m7-1v1m9-1v1m14-1v1m1-1v1m2-1v1m30-1v1m71-1v1m50-1v1m57-1v1m25-1v1m1-1v1m12-1v1m6-1v1m12-1v1m28-1v1m25-1v1m19-1v1m1-1v1m3-1v1m9-1v1m2-1v1m57-1v1m18-1v1m8-1v1m5-1v1m26-1v1m30-1v1m10-1v1m7-1v1m15-1v1m3-1v1m5-1v1m1-1v1m8-1v1m6-1v1m10-1v1m6-1v1m2-1v1m3-1v1m6-1v1m10-1v1m9-1v1m3-1v1m21-1v1m20-1v1m1-1v1m18-1v1m11-1v1m7-1v1m46-1v1m7-1v1m2-1v1m22-1v1m1-1v1m1-1v1m10-1v1m10-1v1m24-1v1"/><path opacity="1.00" d="M8 0v1m20-1v1m16-1v1m35-1v1m1-1v1m8-1v1m11-1v1m10-1v1m1-1v1m19-1v1m1-1v1m5-1v1m17-1v1m25-1v1m1-1v1m6-1v1m15-1v1m41-1v1m33-1v1m36-1v1m12-1v1m13-1v1m30-1v1m4-1v1m8-1v1m1-1v1m9-1v1m6-1v1m1-1v1m2-1v1m19-1v1m18-1v1m45-1v1m76-1v1m60-1v1m10-1v1m2-1v1m5-1v1m1-1v1m1-1v1m12-1v1m30-1v1m74-1v1m5-1v1m1-1v1m10-1v1m55-1v1m18-1v1m3-1v1m6-1v1m1-1v1m28-1v1m53-1v1m1-1v1m24-1v1m1-1v1m53-1v1m1-1v1m108-1v1m3-1v1m1-1v1m16-1v1m1-1v1m1-1v1m37-1v1m30-1v1m2-1v1m17-1v1m25-1v1m11-1v1m2-1v1m1-1v1m2-1v1m23-1v1m14-1v1m1-1v1m1-1v1m32-1v1m2-1v1m1-1v1m8-1v1m8-1v1m1-1v1m9-1v1m44-1v1m29-1v1m29-1v1"/></g>
<g id="n4" stroke="currentColor" transform="translate(.5)"><path opacity="0.22" d="M9 0v1m1-1v1m7-1v1m9-1v1m1-1v1m1-1v1m11-1v1m7-1v1m4-1v1m10-1v1m6-1v1m14-1v1m42-1v1m16-1v1m11-1v1m6-1v1m1-1v1m1-1v1m6-1v1m9-1v1m4-1v1m9-1v1m11-1v1m5-1v1m4-1v1m1-1v1m2-1v1m3-1v1m1-1v1m1-1v1m8-1v1m10-1v1m5-1v1m7-1v1m10-1v1m2-1v1m14-1v1m8-1v1m19-1v1m4-1v1m2-1v1m7-1v1m6-1v1m31-1v1m3-1v1m4-1v1m4-1v1m1-1v1m1-1v1m1-1v1m4-1v1m5-1v1m1-1v1m5-1v1m1-1v1m1-1v1m3-1v1m1-1v1m9-1v1m5-1v1m1-1v1m2-1v1m1-1v1m3-1v1m17-1v1m7-1v1m8-1v1m2-1v1m13-1v1m5-1v1m1-1v1m8-1v1m4-1v1m3-1v1m7-1v1m2-1v1m5-1v1m5-1v1m10-1v1m3-1v1m14-1v1m5-1v1m1-1v1m2-1v1m24-1v1m1-1v1m1-1v1m4-1v1m3-1v1m5-1v1m2-1v1m6-1v1m1-1v1m13-1v1m4-1v1m7-1v1m3-1v1m9-1v1m1-1v1m3-1v1m1-1v1m7-1v1m10-1v1m4-1v1m3-1v1m2-1v1m8-1v1m11-1v1m14-1v1m5-1v1m23-1v1m11-1v1m1-1v1m7-1v1m3-1v1m3-1v1m3-1v1m10-1v1m1-1v1m7-1v1m8-1v1m15-1v1m16-1v1m4-1v1m1-1v1m4-1v1m1-1v1m1-1v1m4-1v1m1-1v1m1-1v1m1-1v1m2-1v1m1-1v1m1-1v1m1-1v1m3-1v1m2-1v1m1-1v1m9-1v1m7-1v1m1-1v1m5-1v1m2-1v1m16-1v1m1-1v1m1-1v1m12-1v1m11-1v1m8-1v1m8-1v1m10-1v1m1-1v1m5-1v1m4-1v1m23-1v1m9-1v1m12-1v1m3-1v1m3-1v1m1-1v1m6-1v1m2-1v1m11-1v1m2-1v1m1-1v1m14-1v1m5-1v1m8-1v1m1-1v1m12-1v1m4-1v1m9-1v1m1-1v1m1-1v1m1-1v1m1-1v1m10-1v1m5-1v1m14-1v1m1-1v1m7-1v1m18-1v1m2-1v1m1-1v1m4-1v1m4-1v1m2-1v1m3-1v1m5-1v1m15-1v1m1-1v1m2-1v1m18-1v1m10-1v1m2-1v1m16-1v1m3-1v1m1-1v1m1-1v1m4-1v1m1-1v1m3-1v1m1-1v1m7-1v1m22-1v1m5-1v1m18-1v1m6-1v1m4-1v1m1-1v1m1-1v1m2-1v1m3-1v1m1-1v1m2-1v1m1-1v1m4-1v1m1-1v1m4-1v1m15-1v1m11-1v1m3-1v1m17-1v1m2-1v1m5-1v1m13-1v1m1-1v1m3-1v1m5-1v1m2-1v1m11-1v1m3-1v1m14-1v1m2-1v1m1-1v1m14-1v1m7-1v1m19-1v1m5-1v1m1-1v1m1-1v1m6-1v1m1-1v1m2-1v1m3-1v1m2-1v1m3-1v1m6-1v1m4-1v1m23-1v1m1-1v1m1-1v1m2-1v1"/><path opacity="0.42" d="M2 0v1m2-1v1m1-1v1m9-1v1m2-1v1m9-1v1m5-1v1m1-1v1m5-1v1m12-1v1m14-1v1m2-1v1m3-1v1m2-1v1m18-1v1m10-1v1m1-1v1m7-1v1m13-1v1m8-1v1m18-1v1m1-1v1m3-1v1m10-1v1m3-1v1m10-1v1m16-1v1m5-1v1m8-1v1m4-1v1m3-1v1m8-1v1m4-1v1m7-1v1m9-1v1m2-1v1m1-1v1m3-1v1m6-1v1m5-1v1m13-1v1m5-1v1m19-1v1m1-1v1m2-1v1m2-1v1m1-1v1m4-1v1m5-1v1m1-1v1m13-1v1m9-1v1m4-1v1m2-1v1m8-1v1m9-1v1m1-1v1m1-1v1m3-1v1m30-1v1m1-1v1m1-1v1m1-1v1m1-1v1m2-1v1m19-1v1m1-1v1m2-1v1m5-1v1m3-1v1m8-1v1m6-1v1m4-1v1m7-1v1m4-1v1m6-1v1m1-1v1m1-1v1m3-1v1m1-1v1m12-1v1m16-1v1m2-1v1m4-1v1m7-1v1m1-1v1m15-1v1m1-1v1m11-1v1m8-1v1m8-1v1m9-1v1m4-1v1m1-1v1m5-1v1m8-1v1m4-1v1m3-1v1m12-1v1m1-1v1m16-1v1m5-1v1m19-1v1m1-1v1m28-1v1m16-1v1m11-1v1m12-1v1m2-1v1m1-1v1m3-1v1m1-1v1m4-1v1m4-1v1m12-1v1m2-1v1m1-1v1m1-1v1m1-1v1m1-1v1m4-1v1m2-1v1m9-1v1m2-1v1m9-1v1m8-1v1m3-1v1m5-1v1m3-1v1m16-1v1m23-1v1m1-1v1m8-1v1m10-1v1m11-1v1m1-1v1m6-1v1m7-1v1m2-1v1m15-1v1m3-1v1m5-1v1m5-1v1m2-1v1m1-1v1m1-1v1m18-1v1m1-1v1m5-1v1m5-1v1m10-1v1m2-1v1m17-1v1m7-1v1m14-1v1m1-1v1m1-1v1m7-1v1m4-1v1m3-1v1m2-1v1m3-1v1m5-1v1m7-1v1m4-1v1m8-1v1m1-1v1m12-1v1m4-1v1m12-1v1m1-1v1m21-1v1m6-1v1m1-1v1m1-1v1m3-1v1m6-1v1m1-1v1m2-1v1m1-1v1m14-1v1m1-1v1m6-1v1m7-1v1m6-1v1m1-1v1m1-1v1m8-1v1m2-1v1m3-1v1m5-1v1m5-1v1m18-1v1m8-1v1m2-1v1m1-1v1m1-1v1m4-1v1m6-1v1m3-1v1m1-1v1m7-1v1m12-1v1m14-1v1m2-1v1m2-1v1m4-1v1m2-1v1m14-1v1m1-1v1m1-1v1m8-1v1m2-1v1m1-1v1m15-1v1m1-1v1m9-1v1m6-1v1m1-1v1m9-1v1m3-1v1m4-1v1m11-1v1m10-1v1m3-1v1m5-1v1m16-1v1m2-1v1m1-1v1m5-1v1m14-1v1m10-1v1m3-1v1m9-1v1m9-1v1m6-1v1m18-1v1m9-1v1m1-1v1m2-1v1m2-1v1m3-1v1m14-1v1m1-1v1m20-1v1"/><path opacity="0.62" d="M6 0v1m2-1v1m11-1v1m15-1v1m3-1v1m12-1v1m4-1v1m10-1v1m22-1v1m1-1v1m20-1v1m1-1v1m1-1v1m5-1v1m1-1v1m2-1v1m5-1v1m7-1v1m14-1v1m1-1v1m10-1v1m9-1v1m26-1v1m2-1v1m1-1v1m6-1v1m19-1v1m17-1v1m16-1v1m1-1v1m9-1v1m1-1v1m1-1v1m5-1v1m13-1v1m1-1v1m1-1v1m16-1v1m19-1v1m12-1v1m1-1v1m6-1v1m1-1v1m6-1v1m19-1v1m1-1v1m5-1v1m47-1v1m18-1v1m5-1v1m1-1v1m7-1v1m6-1v1m9-1v1m6-1v1m25-1v1m14-1v1m1-1v1m2-1v1m1-1v1m4-1v1m28-1v1m4-1v1m1-1v1m36-1v1m38-1v1m1-1v1m3-1v1m6-1v1m22-1v1m1-1v1m6-1v1m15-1v1m22-1v1m1-1v1m3-1v1m1-1v1m6-1v1m5-1v1m3-1v1m15-1v1m10-1v1m25-1v1m16-1v1m1-1v1m15-1v1m1-1v1m13-1v1m10-1v1m24-1v1m1-1v1m2-1v1m10-1v1m2-1v1m1-1v1m16-1v1m7-1v1m8-1v1m6-1v1m15-1v1m7-1v1m3-1v1m22-1v1m9-1v1m2-1v1m32-1v1m10-1v1m7-1v1m27-1v1m7-1v1m8-1v1m6-1v1m8-1v1m1-1v1m13-1v1m7-1v1m5-1v1m1-1v1m3-1v1m13-1v1m9-1v1m5-1v1m4-1v1m3-1v1m1-1v1m7-1v1m7-1v1m19-1v1m1-1v1m1-1v1m8-1v1m4-1v1m3-1v1m15-1v1m9-1v1m4-1v1m5-1v1m1-1v1m7-1v1m4-1v1m53-1v1m15-1v1m1-1v1m21-1v1m1-1v1m3-1v1m7-1v1m8-1v1m10-1v1m29-1v1m3-1v1m5-1v1m1-1v1m23-1v1m7-1v1m6-1v1m45-1v1"/><path opacity="0.82" d="M18 0v1m5-1v1m10-1v1m2-1v1m9-1v1m10-1v1m18-1v1m21-1v1m1-1v1m15-1v1m6-1v1m2-1v1m15-1v1m8-1v1m11-1v1m22-1v1m10-1v1m1-1v1m10-1v1m4-1v1m26-1v1m3-1v1m1-1v1m20-1v1m14-1v1m21-1v1m18-1v1m10-1v1m27-1v1m1-1v1m6-1v1m23-1v1m3-1v1m1-1v1m28-1v1m3-1v1m4-1v1m1-1v1m40-1v1m4-1v1m21-1v1m55-1v1m10-1v1m6-1v1m9-1v1m15-1v1m5-1v1m7-1v1m45-1v1m19-1v1m5-1v1m13-1v1m5-1v1m14-1v1m11-1v1m1-1v1m1-1v1m54-1v1m1-1v1m8-1v1m3-1v1m15-1v1m72-1v1m15-1v1m2-1v1m11-1v1m7-1v1m8-1v1m10-1v1m22-1v1m8-1v1m17-1v1m5-1v1m1-1v1m7-1v1m6-1v1m1-1v1m1-1v1m22-1v1m1-1v1m12-1v1m9-1v1m6-1v1m5-1v1m1-1v1m9-1v1m24-1v1m6-1v1m23-1v1m33-1v1m12-1v1m24-1v1m7-1v1m1-1v1m2-1v1m7-1v1m29-1v1m5-1v1m29-1v1m58-1v1m31-1v1m15-1v1m25-1v1m53-1v1m4-1v1m36-1v1m8-1v1"/><path opacity="1.00" d="M55 0v1m22-1v1m23-1v1m1-1v1m1-1v1m1-1v1m1-1v1m31-1v1m11-1v1m1-1v1m5-1v1m22-1v1m5-1v1m1-1v1m13-1v1m36-1v1m29-1v1m24-1v1m2-1v1m3-1v1m1-1v1m22-1v1m30-1v1m26-1v1m54-1v1m7-1v1m3-1v1m42-1v1m13-1v1m1-1v1m1-1v1m1-1v1m49-1v1m14-1v1m76-1v1m12-1v1m9-1v1m20-1v1m10-1v1m2-1v1m78-1v1m15-1v1m43-1v1m20-1v1m35-1v1m1-1v1m1-1v1m1-1v1m5-1v1m2-1v1m18-1v1m13-1v1m5-1v1m14-1v1m13-1v1m35-1v1m3-1v1m17-1v1m21-1v1m8-1v1m1-1v1m1-1v1m25-1v1m1-1v1m90-1v1m2-1v1m2-1v1m52-1v1m22-1v1m1-1v1m9-1v1m2-1v1m56-1v1m12-1v1m1-1v1m46-1v1m53-1v1m22-1v1m35-1v1m2-1v1m1-1v1m7-1v1m1-1v1"/></g>
<g id="n5" stroke="currentColor" transform="translate(.5)"><path opacity="0.22" d="M4 0v1m3-1v1m1-1v1m4-1v1m3-1v1m5-1v1m13-1v1m3-1v1m3-1v1m11-1v1m13-1v1m2-1v1m2-1v1m4-1v1m2-1v1m4-1v1m3-1v1m4-1v1m9-1v1m1-1v1m1-1v1m2-1v1m17-1v1m1-1v1m10-1v1m5-1v1m14-1v1m3-1v1m3-1v1m2-1v1m10-1v1m7-1v1m1-1v1m3-1v1m10-1v1m1-1v1m6-1v1m5-1v1m6-1v1m11-1v1m4-1v1m8-1v1m6-1v1m3-1v1m16-1v1m1-1v1m7-1v1m12-1v1m4-1v1m5-1v1m1-1v1m26-1v1m9-1v1m2-1v1m4-1v1m1-1v1m7-1v1m10-1v1m20-1v1m3-1v1m2-1v1m1-1v1m3-1v1m4-1v1m1-1v1m7-1v1m1-1v1m1-1v1m1-1v1m11-1v1m6-1v1m7-1v1m9-1v1m1-1v1m1-1v1m1-1v1m3-1v1m5-1v1m12-1v1m5-1v1m1-1v1m15-1v1m1-1v1m3-1v1m1-1v1m1-1v1m6-1v1m2-1v1m2-1v1m2-1v1m4-1v1m1-1v1m1-1v1m5-1v1m7-1v1m15-1v1m1-1v1m6-1v1m1-1v1m3-1v1m5-1v1m2-1v1m2-1v1m13-1v1m3-1v1m16-1v1m1-1v1m13-1v1m7-1v1m4-1v1m18-1v1m11-1v1m15-1v1m5-1v1m1-1v1m3-1v1m1-1v1m1-1v1m5-1v1m6-1v1m3-1v1m3-1v1m4-1v1m5-1v1m12-1v1m2-1v1m1-1v1m3-1v1m1-1v1m6-1v1m1-1v1m4-1v1m1-1v1m2-1v1m1-1v1m2-1v1m1-1v1m33-1v1m5-1v1m5-1v1m1-1v1m1-1v1m1-1v1m21-1v1m1-1v1m3-1v1m1-1v1m30-1v1m4-1v1m10-1v1m4-1v1m5-1v1m9-1v1m21-1v1m4-1v1m1-1v1m1-1v1m3-1v1m1-1v1m1-1v1m8-1v1m4-1v1m19-1v1m3-1v1m12-1v1m8-1v1m6-1v1m16-1v1m1-1v1m9-1v1m10-1v1m1-1v1m1-1v1m2-1v1m2-1v1m11-1v1m1-1v1m1-1v1m2-1v1m4-1v1m6-1v1m3-1v1m13-1v1m7-1v1m1-1v1m6-1v1m1-1v1m1-1v1m1-1v1m3-1v1m1-1v1m4-1v1m10-1v1m1-1v1m10-1v1m1-1v1m5-1v1m3-1v1m11-1v1m5-1v1m10-1v1m4-1v1m10-1v1m2-1v1m1-1v1m4-1v1m2-1v1m1-1v1m6-1v1m1-1v1m1-1v1m7-1v1m5-1v1m24-1v1m1-1v1m6-1v1m13-1v1m3-1v1m3-1v1m2-1v1m9-1v1m10-1v1m2-1v1m1-1v1m15-1v1m1-1v1m28-1v1m1-1v1m8-1v1m17-1v1m1-1v1m1-1v1m8-1v1m10-1v1m1-1v1m1-1v1m4-1v1m6-1v1m1-1v1m3-1v1m9-1v1m12-1v1m1-1v1m3-1v1m6-1v1m4-1v1m3-1v1m5-1v1m9-1v1m2-1v1m10-1v1m12-1v1m1-1v1m16-1v1m1-1v1m1-1v1m2-1v1m1-1v1m3-1v1m2-1v1m6-1v1m8-1v1m3-1v1m2-1v1m13-1v1m10-1v1m1-1v1m6-1v1m1-1v1m7-1v1m11-1v1"/><path opacity="0.42" d="M3 0v1m6-1v1m7-1v1m14-1v1m8-1v1m8-1v1m15-1v1m7-1v1m4-1v1m9-1v1m2-1v1m7-1v1m6-1v1m9-1v1m3-1v1m1-1v1m7-1v1m2-1v1m1-1v1m1-1v1m7-1v1m1-1v1m6-1v1m2-1v1m5-1v1m2-1v1m6-1v1m2-1v1m12-1v1m1-1v1m4-1v1m3-1v1m1-1v1m2-1v1m17-1v1m1-1v1m19-1v1m6-1v1m8-1v1m1-1v1m15-1v1m5-1v1m1-1v1m9-1v1m4-1v1m1-1v1m6-1v1m1-1v1m6-1v1m6-1v1m32-1v1m1-1v1m2-1v1m14-1v1m1-1v1m2-1v1m1-1v1m6-1v1m18-1v1m2-1v1m3-1v1m3-1v1m4-1v1m14-1v1m5-1v1m2-1v1m2-1v1m35-1v1m3-1v1m3-1v1m1-1v1m7-1v1m1-1v1m3-1v1m3-1v1m1-1v1m6-1v1m11-1v1m1-1v1m5-1v1m6-1v1m2-1v1m4-1v1m1-1v1m8-1v1m8-1v1m21-1v1m2-1v1m3-1v1m4-1v1m16-1v1m3-1v1m14-1v1m1-1v1m9-1v1m1-1v1m23-1v1m1-1v1m1-1v1m3-1v1m3-1v1m13-1v1m29-1v1m10-1v1m11-1v1m3-1v1m19-1v1m15-1v1m8-1v1m4-1v1m2-1v1m13-1v1m2-1v1m7-1v1m3-1v1m12-1v1m1-1v1m1-1v1m5-1v1m2-1v1m5-1v1m4-1v1m11-1v1m4-1v1m1-1v1m8-1v1m7-1v1m7-1v1m1-1v1m6-1v1m6-1v1m8-1v1m1-1v1m2-1v1m17-1v1m3-1v1m1-1v1m16-1v1m1-1v1m5-1v1m1-1v1m14-1v1m2-1v1m7-1v1m2-1v1m2-1v1m1-1v1m3-1v1m1-1v1m1-1v1m2-1v1m13-1v1m1-1v1m2-1v1m6-1v1m4-1v1m3-1v1m6-1v1m15-1v1m8-1v1m16-1v1m1-1v1m3-1v1m8-1v1m10-1v1m1-1v1m3-1v1m3-1v1m24-1v1m22-1v1m5-1v1m7-1v1m14-1v1m3-1v1m9-1v1m4-1v1m3-1v1m7-1v1m5-1v1m21-1v1m4-1v1m1-1v1m2-1v1m12-1v1m3-1v1m4-1v1m5-1v1m1-1v1m2-1v1m3-1v1m15-1v1m9-1v1m1-1v1m3-1v1m3-1v1m8-1v1m6-1v1m1-1v1m7-1v1m1-1v1m1-1v1m11-1v1m6-1v1m1-1v1m7-1v1m10-1v1m6-1v1m2-1v1m2-1v1m17-1v1m1-1v1m14-1v1m6-1v1m4-1v1m1-1v1m1-1v1m29-1v1m3-1v1m5-1v1m4-1v1m3-1v1m1-1v1m10-1v1m5-1v1m2-1v1m3-1v1m1-1v1m2-1v1m1-1v1m6-1v1m10-1v1m10-1v1m4-1v1m17-1v1m2-1v1m1-1v1m1-1v1m5-1v1m3-1v1m5-1v1m12-1v1m5-1v1m10-1v1"/><path opacity="0.62" d="M2 0v1m11-1v1m4-1v1m6-1v1m1-1v1m7-1v1m1-1v1m2-1v1m8-1v1m1-1v1m5-1v1m4-1v1m1-1v1m5-1v1m1-1v1m20-1v1m23-1v1m4-1v1m4-1v1m7-1v1m12-1v1m11-1v1m27-1v1m9-1v1m1-1v1m12-1v1m7-1v1m10-1v1m2-1v1m1-1v1m9-1v1m1-1v1m3-1v1m7-1v1m8-1v1m8-1v1m3-1v1m4-1v1m3-1v1m15-1v1m2-1v1m11-1v1m2-1v1m1-1v1m13-1v1m3-1v1m1-1v1m1-1v1m2-1v1m1-1v1m18-1v1m11-1v1m11-1v1m8-1v1m13-1v1m6-1v1m4-1v1m6-1v1m13-1v1m22-1v1m1-1v1m3-1v1m6-1v1m10-1v1m8-1v1m5-1v1m1-1v1m1-1v1m3-1v1m5-1v1m6-1v1m32-1v1m3-1v1m16-1v1m20-1v1m1-1v1m5-1v1m4-1v1m2-1v1m10-1v1m9-1v1m47-1v1m17-1v1m5-1v1m18-1v1m5-1v1m4-1v1m1-1v1m22-1v1m6-1v1m2-1v1m16-1v1m18-1v1m49-1v1m3-1v1m13-1v1m32-1v1m8-1v1m2-1v1m2-1v1m1-1v1m1-1v1m17-1v1m14-1v1m5-1v1m8-1v1m10-1v1m5-1v1m14-1v1m8-1v1m1-1v1m11-1v1m1-1v1m1-1v1m4-1v1m11-1v1m2-1v1m11-1v1m7-1v1m6-1v1m25-1v1m7-1v1m15-1v1m11-1v1m4-1v1m1-1v1m1-1v1m4-1v1m32-1v1m4-1v1m18-1v1m2-1v1m18-1v1m9-1v1m1-1v1m2-1v1m5-1v1m7-1v1m1-1v1m15-1v1m8-1v1m3-1v1m10-1v1m3-1v1m12-1v1m2-1v1m5-1v1m6-1v1m14-1v1m1-1v1m3-1v1m3-1v1m1-1v1m6-1v1m2-1v1m17-1v1m9-1v1m14-1v1m8-1v1m1-1v1m8-1v1m10-1v1m29-1v1m17-1v1m6-1v1m6-1v1m6-1v1m8-1v1m7-1v1m2-1v1m21-1v1m10-1v1m11-1v1m5-1v1m17-1v1m4-1v1m13-1v1m7-1v1m13-1v1"/><path opacity="0.82" d="M28 0v1m26-1v1m1-1v1m27-1v1m17-1v1m12-1v1m2-1v1m8-1v1m16-1v1m17-1v1m4-1v1m2-1v1m5-1v1m15-1v1m6-1v1m1-1v1m15-1v1m2-1v1m3-1v1m13-1v1m12-1v1m4-1v1m8-1v1m19-1v1m1-1v1m7-1v1m10-1v1m19-1v1m1-1v1m21-1v1m4-1v1m44-1v1m5-1v1m19-1v1m8-1v1m1-1v1m48-1v1m7-1v1m29-1v1m27-1v1m6-1v1m12-1v1m5-1v1m1-1v1m14-1v1m3-1v1m16-1v1m18-1v1m2-1v1m16-1v1m3-1v1m10-1v1m1-1v1m2-1v1m2-1v1m1-1v1m1-1v1m22-1v1m1-1v1m1-1v1m25-1v1m1-1v1m11-1v1m2-1v1m22-1v1m14-1v1m3-1v1m3-1v1m14-1v1m17-1v1m2-1v1m9-1v1m4-1v1m17-1v1m2-1v1m20-1v1m15-1v1m11-1v1m3-1v1m1-1v1m1-1v1m1-1v1m28-1v1m67-1v1m51-1v1m14-1v1m14-1v1m21-1v1m10-1v1m3-1v1m18-1v1m4-1v1m22-1v1m13-1v1m9-1v1m10-1v1m5-1v1m34-1v1m6-1v1m28-1v1m12-1v1m2-1v1m18-1v1m25-1v1m9-1v1m17-1v1m5-1v1m16-1v1m26-1v1m6-1v1m33-1v1m13-1v1m15-1v1m3-1v1m50-1v1m6-1v1m15-1v1"/><path opacity="1.00" d="M1 0v1m65-1v1m3-1v1m43-1v1m27-1v1m104-1v1m11-1v1m43-1v1m30-1v1m23-1v1m1-1v1m2-1v1m20-1v1m12-1v1m19-1v1m3-1v1m1-1v1m2-1v1m1-1v1m13-1v1m1-1v1m79-1v1m1-1v1m7-1v1m4-1v1m13-1v1m28-1v1m1-1v1m26-1v1m8-1v1m2-1v1m2-1v1m1-1v1m12-1v1m3-1v1m6-1v1m6-1v1m30-1v1m70-1v1m1-1v1m2-1v1m1-1v1m19-1v1m42-1v1m5-1v1m10-1v1m1-1v1m19-1v1m52-1v1m8-1v1m35-1v1m78-1v1m3-1v1m15-1v1m9-1v1m2-1v1m6-1v1m1-1v1m43-1v1m16-1v1m1-1v1m31-1v1m68-1v1m29-1v1m29-1v1m36-1v1m9-1v1m12-1v1m10-1v1m8-1v1m1-1v1m5-1v1m1-1v1m2-1v1m63-1v1m24-1v1m24-1v1m1-1v1m4-1v1m13-1v1m17-1v1"/></g>
<g id="n6" stroke="currentColor" transform="translate(.5)"><path opacity="0.22" d="M3 0v1m6-1v1m1-1v1m2-1v1m7-1v1m10-1v1m1-1v1m5-1v1m15-1v1m1-1v1m1-1v1m12-1v1m1-1v1m1-1v1m4-1v1m4-1v1m4-1v1m6-1v1m1-1v1m2-1v1m2-1v1m17-1v1m2-1v1m1-1v1m4-1v1m9-1v1m4-1v1m3-1v1m2-1v1m1-1v1m2-1v1m2-1v1m2-1v1m4-1v1m7-1v1m6-1v1m6-1v1m13-1v1m7-1v1m14-1v1m3-1v1m1-1v1m12-1v1m9-1v1m10-1v1m2-1v1m2-1v1m20-1v1m22-1v1m2-1v1m1-1v1m20-1v1m1-1v1m2-1v1m5-1v1m4-1v1m4-1v1m1-1v1m4-1v1m1-1v1m4-1v1m12-1v1m12-1v1m6-1v1m5-1v1m5-1v1m1-1v1m1-1v1m4-1v1m4-1v1m1-1v1m1-1v1m1-1v1m4-1v1m9-1v1m5-1v1m4-1v1m1-1v1m4-1v1m1-1v1m26-1v1m1-1v1m4-1v1m4-1v1m7-1v1m1-1v1m4-1v1m13-1v1m1-1v1m5-1v1m6-1v1m9-1v1m7-1v1m6-1v1m14-1v1m6-1v1m1-1v1m1-1v1m4-1v1m5-1v1m7-1v1m3-1v1m1-1v1m2-1v1m9-1v1m1-1v1m1-1v1m15-1v1m6-1v1m3-1v1m10-1v1m6-1v1m8-1v1m3-1v1m1-1v1m1-1v1m1-1v1m1-1v1m2-1v1m1-1v1m4-1v1m5-1v1m2-1v1m5-1v1m2-1v1m1-1v1m6-1v1m8-1v1m9-1v1m1-1v1m2-1v1m1-1v1m1-1v1m39-1v1m3-1v1m3-1v1m16-1v1m5-1v1m9-1v1m22-1v1m1-1v1m12-1v1m2-1v1m14-1v1m4-1v1m16-1v1m1-1v1m1-1v1m1-1v1m2-1v1m2-1v1m5-1v1m11-1v1m1-1v1m1-1v1m7-1v1m2-1v1m6-1v1m1-1v1m16-1v1m3-1v1m11-1v1m2-1v1m19-1v1m4-1v1m1-1v1m8-1v1m4-1v1m1-1v1m14-1v1m1-1v1m1-1v1m12-1v1m1-1v1m3-1v1m1-1v1m7-1v1m1-1v1m13-1v1m4-1v1m2-1v1m1-1v1m3-1v1m6-1v1m4-1v1m2-1v1m1-1v1m12-1v1m1-1v1m2-1v1m4-1v1m12-1v1m1-1v1m3-1v1m11-1v1m1-1v1m1-1v1m7-1v1m27-1v1m3-1v1m4-1v1m1-1v1m1-1v1m9-1v1m19-1v1m4-1v1m1-1v1m6-1v1m2-1v1m11-1v1m4-1v1m1-1v1m5-1v1m4-1v1m1-1v1m2-1v1m17-1v1m2-1v1m4-1v1m4-1v1m7-1v1m12-1v1m1-1v1m3-1v1m24-1v1m9-1v1m5-1v1m14-1v1m3-1v1m1-1v1m6-1v1m1-1v1m1-1v1m11-1v1m8-1v1m6-1v1m12-1v1m7-1v1m5-1v1m4-1v1m4-1v1m6-1v1m1-1v1m4-1v1m7-1v1m8-1v1m6-1v1m5-1v1m8-1v1m1-1v1m8-1v1m1-1v1m1-1v1m8-1v1m14-1v1m1-1v1m6-1v1m4-1v1m13-1v1m1-1v1m15-1v1m14-1v1m10-1v1m1-1v1m1-1v1m6-1v1m1-1v1m6-1v1m1-1v1"/><path opacity="0.42" d="M11 0v1m2-1v1m5-1v1m19-1v1m7-1v1m1-1v1m2-1v1m24-1v1m10-1v1m2-1v1m8-1v1m14-1v1m7-1v1m2-1v1m1-1v1m3-1v1m41-1v1m8-1v1m4-1v1m8-1v1m1-1v1m3-1v1m1-1v1m2-1v1m4-1v1m6-1v1m1-1v1m4-1v1m1-1v1m1-1v1m1-1v1m4-1v1m2-1v1m9-1v1m5-1v1m1-1v1m8-1v1m3-1v1m4-1v1m4-1v1m1-1v1m8-1v1m2-1v1m7-1v1m4-1v1m20-1v1m3-1v1m2-1v1m1-1v1m9-1v1m5-1v1m12-1v1m8-1v1m1-1v1m2-1v1m6-1v1m1-1v1m2-1v1m14-1v1m1-1v1m5-1v1m5-1v1m1-1v1m10-1v1m18-1v1m6-1v1m6-1v1m8-1v1m1-1v1m1-1v1m11-1v1m2-1v1m2-1v1m6-1v1m3-1v1m1-1v1m18-1v1m20-1v1m12-1v1m26-1v1m13-1v1m8-1v1m22-1v1m1-1v1m1-1v1m1-1v1m1-1v1m1-1v1m5-1v1m1-1v1m2-1v1m1-1v1m18-1v1m1-1v1m1-1v1m1-1v1m9-1v1m2-1v1m10-1v1m9-1v1m3-1v1m1-1v1m6-1v1m8-1v1m1-1v1m1-1v1m1-1v1m1-1v1m7-1v1m26-1v1m1-1v1m7-1v1m3-1v1m1-1v1m2-1v1m11-1v1m1-1v1m4-1v1m14-1v1m16-1v1m1-1v1m10-1v1m2-1v1m41-1v1m1-1v1m1-1v1m3-1v1m8-1v1m7-1v1m10-1v1m1-1v1m1-1v1m8-1v1m1-1v1m6-1v1m2-1v1m12-1v1m7-1v1m2-1v1m3-1v1m2-1v1m7-1v1m11-1v1m9-1v1m11-1v1m21-1v1m1-1v1m12-1v1m8-1v1m4-1v1m4-1v1m8-1v1m1-1v1m1-1v1m2-1v1m6-1v1m16-1v1m5-1v1m4-1v1m9-1v1m12-1v1m7-1v1m1-1v1m5-1v1m2-1v1m2-1v1m2-1v1m19-1v1m4-1v1m16-1v1m3-1v1m15-1v1m14-1v1m1-1v1m3-1v1m8-1v1m3-1v1m2-1v1m6-1v1m15-1v1m21-1v1m1-1v1m8-1v1m1-1v1m19-1v1m4-1v1m1-1v1m4-1v1m8-1v1m7-1v1m1-1v1m3-1v1m8-1v1m10-1v1m1-1v1m1-1v1m1-1v1m3-1v1m1-1v1m3-1v1m3-1v1m1-1v1m3-1v1m9-1v1m1-1v1m1-1v1m6-1v1m23-1v1m10-1v1m8-1v1m7-1v1m9-1v1m6-1v1m9-1v1m3-1v1m1-1v1m1-1v1m12-1v1m1-1v1m26-1v1m1-1v1m6-1v1m10-1v1m13-1v1m8-1v1m2-1v1m3-1v1m3-1v1m7-1v1m1-1v1m4-1v1m1-1v1m3-1v1m2-1v1m1-1v1m11-1v1m19-1v1"/><path opacity="0.62" d="M1 0v1m6-1v1m1-1v1m6-1v1m26-1v1m53-1v1m3-1v1m15-1v1m29-1v1m4-1v1m8-1v1m1-1v1m59-1v1m1-1v1m8-1v1m7-1v1m9-1v1m9-1v1m1-1v1m10-1v1m1-1v1m5-1v1m1-1v1m4-1v1m16-1v1m1-1v1m2-1v1m1-1v1m2-1v1m3-1v1m24-1v1m2-1v1m4-1v1m17-1v1m1-1v1m1-1v1m2-1v1m3-1v1m1-1v1m9-1v1m4-1v1m7-1v1m1-1v1m57-1v1m10-1v1m26-1v1m1-1v1m5-1v1m1-1v1m22-1v1m2-1v1m31-1v1m11-1v1m13-1v1m3-1v1m15-1v1m7-1v1m9-1v1m3-1v1m1-1v1m8-1v1m11-1v1m14-1v1m29-1v1m2-1v1m3-1v1m27-1v1m7-1v1m4-1v1m20-1v1m4-1v1m2-1v1m2-1v1m8-1v1m9-1v1m6-1v1m1-1v1m5-1v1m5-1v1m1-1v1m12-1v1m3-1v1m6-1v1m1-1v1m2-1v1m1-1v1m2-1v1m1-1v1m20-1v1m1-1v1m1-1v1m6-1v1m11-1v1m5-1v1m1-1v1m1-1v1m7-1v1m1-1v1m1-1v1m17-1v1m1-1v1m2-1v1m16-1v1m8-1v1m3-1v1m4-1v1m3-1v1m2-1v1m3-1v1m1-1v1m2-1v1m1-1v1m6-1v1m17-1v1m11-1v1m1-1v1m3-1v1m2-1v1m10-1v1m4-1v1m4-1v1m2-1v1m40-1v1m15-1v1m1-1v1m1-1v1m27-1v1m5-1v1m1-1v1m1-1v1m12-1v1m5-1v1m3-1v1m2-1v1m1-1v1m5-1v1m7-1v1m1-1v1m7-1v1m8-1v1m2-1v1m1-1v1m6-1v1m9-1v1m38-1v1m1-1v1m1-1v1m6-1v1m1-1v1m8-1v1m6-1v1m1-1v1m14-1v1m2-1v1m13-1v1m4-1v1m2-1v1m1-1v1m2-1v1m18-1v1m1-1v1m3-1v1m9-1v1m13-1v1m9-1v1m3-1v1m13-1v1m2-1v1m2-1v1m1-1v1m2-1v1m7-1v1m10-1v1m8-1v1m27-1v1m7-1v1m2-1v1m1-1v1m4-1v1m2-1v1m11-1v1m8-1v1m1-1v1m5-1v1m2-1v1m1-1v1m12-1v1m1-1v1m6-1v1m1-1v1m2-1v1m1-1v1m6-1v1m13-1v1m9-1v1m1-1v1m15-1v1m4-1v1m2-1v1m14-1v1m4-1v1m1-1v1"/><path opacity="0.82" d="M2 0v1m13-1v1m5-1v1m41-1v1m34-1v1m8-1v1m16-1v1m22-1v1m2-1v1m19-1v1m53-1v1m8-1v1m6-1v1m19-1v1m12-1v1m9-1v1m6-1v1m33-1v1m25-1v1m12-1v1m1-1v1m37-1v1m1-1v1m1-1v1m1-1v1m13-1v1m10-1v1m1-1v1m18-1v1m2-1v1m52-1v1m1-1v1m14-1v1m2-1v1m4-1v1m10-1v1m3-1v1m7-1v1m10-1v1m10-1v1m4-1v1m3-1v1m6-1v1m27-1v1m13-1v1m1-1v1m21-1v1m2-1v1m1-1v1m15-1v1m11-1v1m2-1v1m2-1v1m11-1v1m1-1v1m2-1v1m30-1v1m11-1v1m7-1v1m5-1v1m26-1v1m18-1v1m5-1v1m10-1v1m3-1v1m9-1v1m12-1v1m24-1v1m50-1v1m7-1v1m4-1v1m50-1v1m6-1v1m29-1v1m12-1v1m4-1v1m15-1v1m11-1v1m1-1v1m4-1v1m27-1v1m13-1v1m12-1v1m30-1v1m1-1v1m13-1v1m1-1v1m15-1v1m12-1v1m2-1v1m40-1v1m5-1v1m37-1v1m14-1v1m47-1v1m50-1v1m23-1v1m11-1v1m1-1v1m1-1v1m1-1v1m8-1v1m8-1v1m9-1v1m18-1v1m28-1v1m4-1v1m13-1v1m2-1v1m13-1v1m1-1v1m8-1v1m3-1v1"/><path opacity="1.00" d="M58 0v1m1-1v1m16-1v1m25-1v1m4-1v1m12-1v1m8-1v1m33-1v1m57-1v1m2-1v1m1-1v1m1-1v1m56-1v1m105-1v1m8-1v1m1-1v1m1-1v1m1-1v1m13-1v1m17-1v1m1-1v1m23-1v1m7-1v1m51-1v1m2-1v1m5-1v1m8-1v1m40-1v1m23-1v1m60-1v1m26-1v1m7-1v1m1-1v1m9-1v1m31-1v1m10-1v1m21-1v1m1-1v1m1-1v1m14-1v1m95-1v1m52-1v1m1-1v1m1-1v1m23-1v1m8-1v1m18-1v1m25-1v1m1-1v1m3-1v1m49-1v1m5-1v1m17-1v1m59-1v1m34-1v1m10-1v1m66-1v1m54-1v1m3-1v1m30-1v1m18-1v1m73-1v1m10-1v1m21-1v1m1-1v1m33-1v1m2-1v1m14-1v1"/></g>
<g id="n7" stroke="currentColor" transform="translate(.5)"><path opacity="0.22" d="M6 0v1m5-1v1m11-1v1m7-1v1m1-1v1m4-1v1m1-1v1m8-1v1m17-1v1m1-1v1m2-1v1m2-1v1m2-1v1m16-1v1m4-1v1m6-1v1m1-1v1m3-1v1m9-1v1m10-1v1m1-1v1m1-1v1m1-1v1m5-1v1m3-1v1m18-1v1m8-1v1m1-1v1m1-1v1m1-1v1m7-1v1m13-1v1m3-1v1m3-1v1m5-1v1m15-1v1m3-1v1m3-1v1m1-1v1m4-1v1m5-1v1m2-1v1m5-1v1m1-1v1m3-1v1m2-1v1m1-1v1m2-1v1m2-1v1m3-1v1m4-1v1m1-1v1m1-1v1m14-1v1m11-1v1m4-1v1m3-1v1m4-1v1m3-1v1m16-1v1m2-1v1m12-1v1m1-1v1m9-1v1m23-1v1m1-1v1m1-1v1m27-1v1m6-1v1m2-1v1m3-1v1m1-1v1m5-1v1m1-1v1m4-1v1m1-1v1m1-1v1m11-1v1m2-1v1m6-1v1m1-1v1m1-1v1m4-1v1m4-1v1m6-1v1m11-1v1m18-1v1m1-1v1m6-1v1m1-1v1m2-1v1m2-1v1m8-1v1m1-1v1m1-1v1m1-1v1m7-1v1m11-1v1m2-1v1m2-1v1m13-1v1m4-1v1m6-1v1m2-1v1m2-1v1m4-1v1m10-1v1m5-1v1m1-1v1m6-1v1m5-1v1m1-1v1m3-1v1m11-1v1m6-1v1m44-1v1m15-1v1m1-1v1m1-1v1m5-1v1m1-1v1m1-1v1m1-1v1m6-1v1m8-1v1m19-1v1m1-1v1m1-1v1m1-1v1m4-1v1m10-1v1m8-1v1m11-1v1m26-1v1m9-1v1m12-1v1m2-1v1m2-1v1m8-1v1m21-1v1m1-1v1m12-1v1m3-1v1m13-1v1m8-1v1m1-1v1m13-1v1m3-1v1m3-1v1m3-1v1m1-1v1m4-1v1m1-1v1m1-1v1m2-1v1m6-1v1m5-1v1m17-1v1m4-1v1m3-1v1m6-1v1m1-1v1m1-1v1m1-1v1m1-1v1m3-1v1m9-1v1m1-1v1m7-1v1m12-1v1m13-1v1m6-1v1m10-1v1m3-1v1m26-1v1m7-1v1m12-1v1m1-1v1m1-1v1m12-1v1m4-1v1m19-1v1m4-1v1m3-1v1m10-1v1m21-1v1m1-1v1m3-1v1m11-1v1m1-1v1m1-1v1m12-1v1m4-1v1m5-1v1m1-1v1m34-1v1m1-1v1m2-1v1m10-1v1m10-1v1m9-1v1m4-1v1m9-1v1m1-1v1m7-1v1m1-1v1m1-1v1m7-1v1m2-1v1m17-1v1m1-1v1m12-1v1m1-1v1m9-1v1m2-1v1m1-1v1m2-1v1m1-1v1m2-1v1m3-1v1m7-1v1m3-1v1m11-1v1m7-1v1m1-1v1m1-1v1m6-1v1m3-1v1m2-1v1m3-1v1m4-1v1m1-1v1m6-1v1m1-1v1m14-1v1m1-1v1m3-1v1m1-1v1m3-1v1m4-1v1m1-1v1m3-1v1m1-1v1m6-1v1m3-1v1m1-1v1m3-1v1m1-1v1m4-1v1m10-1v1m1-1v1m5-1v1m4-1v1m7-1v1m5-1v1m6-1v1m2-1v1m10-1v1m1-1v1m9-1v1m23-1v1m5-1v1"/><path opacity="0.42" d="M1 0v1m2-1v1m2-1v1m3-1v1m10-1v1m20-1v1m1-1v1m3-1v1m3-1v1m4-1v1m7-1v1m16-1v1m1-1v1m15-1v1m2-1v1m1-1v1m1-1v1m4-1v1m11-1v1m8-1v1m19-1v1m8-1v1m8-1v1m10-1v1m4-1v1m10-1v1m1-1v1m2-1v1m6-1v1m1-1v1m4-1v1m1-1v1m1-1v1m6-1v1m16-1v1m2-1v1m14-1v1m7-1v1m2-1v1m1-1v1m8-1v1m3-1v1m4-1v1m3-1v1m5-1v1m1-1v1m1-1v1m8-1v1m1-1v1m1-1v1m2-1v1m3-1v1m1-1v1m1-1v1m2-1v1m1-1v1m4-1v1m4-1v1m3-1v1m7-1v1m2-1v1m10-1v1m9-1v1m5-1v1m6-1v1m17-1v1m2-1v1m3-1v1m5-1v1m4-1v1m3-1v1m4-1v1m3-1v1m1-1v1m3-1v1m5-1v1m8-1v1m5-1v1m1-1v1m11-1v1m4-1v1m12-1v1m2-1v1m7-1v1m1-1v1m10-1v1m14-1v1m3-1v1m5-1v1m3-1v1m6-1v1m8-1v1m8-1v1m9-1v1m11-1v1m3-1v1m10-1v1m1-1v1m6-1v1m6-1v1m5-1v1m11-1v1m22-1v1m1-1v1m23-1v1m19-1v1m5-1v1m1-1v1m3-1v1m1-1v1m1-1v1m17-1v1m12-1v1m1-1v1m1-1v1m5-1v1m8-1v1m2-1v1m1-1v1m2-1v1m9-1v1m9-1v1m4-1v1m1-1v1m2-1v1m5-1v1m1-1v1m2-1v1m5-1v1m1-1v1m2-1v1m15-1v1m7-1v1m1-1v1m7-1v1m2-1v1m12-1v1m20-1v1m13-1v1m4-1v1m4-1v1m7-1v1m21-1v1m9-1v1m12-1v1m12-1v1m3-1v1m9-1v1m25-1v1m6-1v1m1-1v1m4-1v1m28-1v1m6-1v1m7-1v1m1-1v1m1-1v1m1-1v1m1-1v1m14-1v1m8-1v1m2-1v1m1-1v1m2-1v1m6-1v1m1-1v1m1-1v1m3-1v1m12-1v1m8-1v1m8-1v1m14-1v1m11-1v1m13-1v1m2-1v1m11-1v1m4-1v1m11-1v1m6-1v1m1-1v1m1-1v1m2-1v1m1-1v1m5-1v1m1-1v1m2-1v1m13-1v1m8-1v1m4-1v1m2-1v1m4-1v1m4-1v1m5-1v1m9-1v1m13-1v1m1-1v1m9-1v1m8-1v1m3-1v1m5-1v1m1-1v1m1-1v1m2-1v1m1-1v1m1-1v1m2-1v1m9-1v1m5-1v1m1-1v1m7-1v1m11-1v1m4-1v1m15-1v1m4-1v1m17-1v1m7-1v1m8-1v1m4-1v1m1-1v1m14-1v1m2-1v1m37-1v1m5-1v1m20-1v1m10-1v1m8-1v1m8-1v1m1-1v1m2-1v1m5-1v1m1-1v1m11-1v1m5-1v1m1-1v1m3-1v1m1-1v1m4-1v1m5-1v1m5-1v1m14-1v1m1-1v1m6-1v1m2-1v1m15-1v1m5-1v1"/><path opacity="0.62" d="M25 0v1m22-1v1m1-1v1m3-1v1m6-1v1m2-1v1m11-1v1m7-1v1m4-1v1m8-1v1m11-1v1m3-1v1m1-1v1m28-1v1m3-1v1m12-1v1m1-1v1m19-1v1m4-1v1m20-1v1m1-1v1m1-1v1m26-1v1m3-1v1m2-1v1m26-1v1m1-1v1m6-1v1m31-1v1m5-1v1m12-1v1m29-1v1m12-1v1m5-1v1m5-1v1m2-1v1m1-1v1m6-1v1m24-1v1m1-1v1m5-1v1m11-1v1m31-1v1m6-1v1m4-1v1m2-1v1m2-1v1m2-1v1m4-1v1m2-1v1m11-1v1m20-1v1m8-1v1m1-1v1m11-1v1m2-1v1m5-1v1m6-1v1m4-1v1m1-1v1m7-1v1m10-1v1m13-1v1m1-1v1m6-1v1m12-1v1m1-1v1m1-1v1m1-1v1m1-1v1m17-1v1m7-1v1m2-1v1m2-1v1m3-1v1m7-1v1m3-1v1m3-1v1m11-1v1m9-1v1m6-1v1m13-1v1m34-1v1m1-1v1m11-1v1m10-1v1m7-1v1m1-1v1m29-1v1m2-1v1m10-1v1m10-1v1m5-1v1m3-1v1m8-1v1m13-1v1m4-1v1m1-1v1m37-1v1m28-1v1m1-1v1m1-1v1m4-1v1m5-1v1m2-1v1m9-1v1m11-1v1m23-1v1m26-1v1m6-1v1m21-1v1m7-1v1m12-1v1m1-1v1m15-1v1m1-1v1m14-1v1m8-1v1m24-1v1m12-1v1m4-1v1m4-1v1m21-1v1m7-1v1m6-1v1m4-1v1m8-1v1m15-1v1m7-1v1m2-1v1m7-1v1m3-1v1m1-1v1m5-1v1m1-1v1m8-1v1m12-1v1m14-1v1m1-1v1m13-1v1m4-1v1m7-1v1m27-1v1m5-1v1m1-1v1m23-1v1m4-1v1m1-1v1m7-1v1m23-1v1m42-1v1m14-1v1m2-1v1m7-1v1m13-1v1m29-1v1m11-1v1m1-1v1m4-1v1m1-1v1m4-1v1m10-1v1m6-1v1m17-1v1"/><path opacity="0.82" d="M13 0v1m6-1v1m5-1v1m16-1v1m10-1v1m2-1v1m17-1v1m10-1v1m1-1v1m30-1v1m19-1v1m2-1v1m2-1v1m10-1v1m29-1v1m8-1v1m15-1v1m26-1v1m9-1v1m10-1v1m18-1v1m37-1v1m4-1v1m13-1v1m49-1v1m9-1v1m39-1v1m6-1v1m8-1v1m25-1v1m2-1v1m10-1v1m28-1v1m86-1v1m9-1v1m12-1v1m1-1v1m10-1v1m20-1v1m8-1v1m1-1v1m5-1v1m30-1v1m15-1v1m28-1v1m1-1v1m9-1v1m12-1v1m4-1v1m23-1v1m2-1v1m12-1v1m4-1v1m10-1v1m2-1v1m1-1v1m9-1v1m38-1v1m11-1v1m1-1v1m7-1v1m10-1v1m1-1v1m24-1v1m1-1v1m4-1v1m37-1v1m9-1v1m3-1v1m47-1v1m3-1v1m4-1v1m1-1v1m16-1v1m1-1v1m19-1v1m5-1v1m23-1v1m5-1v1m2-1v1m8-1v1m2-1v1m3-1v1m6-1v1m6-1v1m15-1v1m10-1v1m1-1v1m1-1v1m20-1v1m14-1v1m1-1v1m7-1v1m15-1v1m2-1v1m3-1v1m3-1v1m15-1v1m9-1v1m3-1v1m48-1v1m7-1v1m1-1v1m14-1v1m12-1v1m1-1v1m24-1v1m12-1v1m1-1v1m12-1v1m23-1v1m7-1v1m1-1v1m6-1v1m9-1v1m13-1v1m7-1v1m26-1v1m1-1v1m10-1v1m2-1v1m21-1v1m1-1v1m9-1v1"/><path opacity="1.00" d="M26 0v1m2-1v1m13-1v1m34-1v1m45-1v1m1-1v1m9-1v1m38-1v1m1-1v1m29-1v1m1-1v1m17-1v1m70-1v1m32-1v1m20-1v1m1-1v1m5-1v1m18-1v1m45-1v1m60-1v1m25-1v1m16-1v1m22-1v1m3-1v1m21-1v1m16-1v1m14-1v1m5-1v1m22-1v1m28-1v1m30-1v1m35-1v1m1-1v1m1-1v1m19-1v1m18-1v1m23-1v1m1-1v1m38-1v1m10-1v1m75-1v1m15-1v1m1-1v1m16-1v1m5-1v1m1-1v1m9-1v1m1-1v1m6-1v1m2-1v1m86-1v1m14-1v1m15-1v1m27-1v1m27-1v1m37-1v1m55-1v1m29-1v1m1-1v1m38-1v1m34-1v1m33-1v1m3-1v1m12-1v1m94-1v1"/></g>
<g id="n8" stroke="currentColor" transform="translate(.5)"><path opacity="0.22" d="M3 0v1m3-1v1m8-1v1m2-1v1m10-1v1m16-1v1m5-1v1m2-1v1m1-1v1m7-1v1m11-1v1m4-1v1m5-1v1m1-1v1m12-1v1m6-1v1m3-1v1m10-1v1m9-1v1m1-1v1m6-1v1m1-1v1m7-1v1m10-1v1m6-1v1m2-1v1m1-1v1m1-1v1m1-1v1m1-1v1m2-1v1m1-1v1m7-1v1m15-1v1m1-1v1m1-1v1m1-1v1m20-1v1m4-1v1m9-1v1m8-1v1m2-1v1m1-1v1m8-1v1m9-1v1m9-1v1m9-1v1m19-1v1m16-1v1m2-1v1m1-1v1m4-1v1m1-1v1m13-1v1m10-1v1m2-1v1m8-1v1m1-1v1m1-1v1m8-1v1m6-1v1m7-1v1m11-1v1m14-1v1m2-1v1m1-1v1m14-1v1m8-1v1m21-1v1m1-1v1m14-1v1m6-1v1m4-1v1m3-1v1m1-1v1m2-1v1m14-1v1m4-1v1m1-1v1m1-1v1m1-1v1m5-1v1m3-1v1m19-1v1m2-1v1m11-1v1m5-1v1m5-1v1m1-1v1m4-1v1m14-1v1m2-1v1m5-1v1m5-1v1m5-1v1m1-1v1m17-1v1m3-1v1m1-1v1m9-1v1m6-1v1m6-1v1m6-1v1m14-1v1m7-1v1m1-1v1m1-1v1m1-1v1m15-1v1m7-1v1m19-1v1m4-1v1m7-1v1m1-1v1m8-1v1m13-1v1m3-1v1m9-1v1m4-1v1m6-1v1m2-1v1m1-1v1m4-1v1m1-1v1m3-1v1m23-1v1m1-1v1m15-1v1m8-1v1m3-1v1m13-1v1m1-1v1m16-1v1m11-1v1m8-1v1m8-1v1m4-1v1m9-1v1m6-1v1m1-1v1m1-1v1m12-1v1m19-1v1m1-1v1m1-1v1m2-1v1m1-1v1m1-1v1m3-1v1m24-1v1m4-1v1m1-1v1m3-1v1m1-1v1m1-1v1m1-1v1m4-1v1m1-1v1m4-1v1m1-1v1m11-1v1m1-1v1m1-1v1m1-1v1m1-1v1m1-1v1m13-1v1m1-1v1m6-1v1m19-1v1m4-1v1m15-1v1m10-1v1m4-1v1m11-1v1m14-1v1m6-1v1m7-1v1m16-1v1m5-1v1m1-1v1m7-1v1m1-1v1m9-1v1m1-1v1m19-1v1m27-1v1m4-1v1m5-1v1m2-1v1m8-1v1m36-1v1m7-1v1m2-1v1m14-1v1m5-1v1m1-1v1m5-1v1m1-1v1m1-1v1m2-1v1m23-1v1m1-1v1m1-1v1m12-1v1m12-1v1m3-1v1m2-1v1m4-1v1m1-1v1m5-1v1m10-1v1m3-1v1m2-1v1m5-1v1m1-1v1m37-1v1m19-1v1m1-1v1m2-1v1m6-1v1m62-1v1m2-1v1m1-1v1"/><path opacity="0.42" d="M1 0v1m8-1v1m4-1v1m18-1v1m5-1v1m1-1v1m1-1v1m1-1v1m1-1v1m19-1v1m2-1v1m6-1v1m2-1v1m2-1v1m11-1v1m6-1v1m5-1v1m2-1v1m3-1v1m29-1v1m8-1v1m1-1v1m20-1v1m5-1v1m1-1v1m6-1v1m16-1v1m18-1v1m9-1v1m1-1v1m1-1v1m4-1v1m14-1v1m8-1v1m8-1v1m1-1v1m1-1v1m3-1v1m49-1v1m10-1v1m4-1v1m2-1v1m10-1v1m15-1v1m16-1v1m15-1v1m26-1v1m1-1v1m1-1v1m1-1v1m3-1v1m1-1v1m4-1v1m5-1v1m2-1v1m6-1v1m17-1v1m2-1v1m1-1v1m5-1v1m8-1v1m6-1v1m6-1v1m5-1v1m6-1v1m28-1v1m3-1v1m2-1v1m8-1v1m1-1v1m4-1v1m16-1v1m6-1v1m4-1v1m13-1v1m2-1v1m1-1v1m8-1v1m10-1v1m2-1v1m6-1v1m7-1v1m12-1v1m41-1v1m7-1v1m15-1v1m8-1v1m7-1v1m10-1v1m2-1v1m5-1v1m5-1v1m2-1v1m8-1v1m1-1v1m8-1v1m12-1v1m2-1v1m6-1v1m1-1v1m3-1v1m5-1v1m19-1v1m9-1v1m7-1v1m1-1v1m2-1v1m1-1v1m3-1v1m21-1v1m2-1v1m9-1v1m4-1v1m4-1v1m5-1v1m1-1v1m2-1v1m2-1v1m10-1v1m6-1v1m11-1v1m8-1v1m1-1v1m4-1v1m28-1v1m6-1v1m1-1v1m5-1v1m12-1v1m16-1v1m7-1v1m1-1v1m3-1v1m12-1v1m1-1v1m3-1v1m1-1v1m1-1v1m5-1v1m2-1v1m1-1v1m14-1v1m2-1v1m7-1v1m1-1v1m5-1v1m1-1v1m12-1v1m1-1v1m8-1v1m19-1v1m1-1v1m5-1v1m6-1v1m18-1v1m1-1v1m8-1v1m2-1v1m4-1v1m1-1v1m1-1v1m6-1v1m10-1v1m10-1v1m14-1v1m5-1v1m22-1v1m6-1v1m4-1v1m7-1v1m18-1v1m1-1v1m4-1v1m5-1v1m9-1v1m8-1v1m1-1v1m1-1v1m5-1v1m2-1v1m2-1v1m1-1v1m1-1v1m1-1v1m3-1v1m2-1v1m15-1v1m1-1v1m3-1v1m6-1v1m14-1v1m3-1v1m2-1v1m8-1v1m4-1v1m3-1v1m2-1v1m13-1v1m15-1v1m10-1v1m1-1v1m1-1v1m6-1v1m2-1v1m34-1v1m2-1v1m1-1v1m11-1v1m8-1v1m7-1v1m7-1v1m1-1v1m4-1v1m8-1v1m8-1v1m4-1v1m9-1v1m2-1v1m1-1v1m1-1v1m2-1v1m4-1v1m2-1v1m2-1v1"/><path opacity="0.62" d="M0 0v1m10-1v1m35-1v1m3-1v1m3-1v1m9-1v1m3-1v1m2-1v1m16-1v1m6-1v1m5-1v1m2-1v1m20-1v1m1-1v1m2-1v1m52-1v1m4-1v1m1-1v1m17-1v1m2-1v1m5-1v1m10-1v1m7-1v1m5-1v1m9-1v1m13-1v1m14-1v1m19-1v1m14-1v1m9-1v1m14-1v1m4-1v1m5-1v1m26-1v1m6-1v1m21-1v1m1-1v1m39-1v1m2-1v1m8-1v1m2-1v1m2-1v1m1-1v1m10-1v1m2-1v1m13-1v1m1-1v1m23-1v1m7-1v1m1-1v1m17-1v1m19-1v1m1-1v1m8-1v1m15-1v1m2-1v1m1-1v1m5-1v1m7-1v1m8-1v1m25-1v1m5-1v1m26-1v1m1-1v1m2-1v1m1-1v1m1-1v1m4-1v1m10-1v1m1-1v1m3-1v1m2-1v1m2-1v1m4-1v1m1-1v1m2-1v1m4-1v1m14-1v1m1-1v1m11-1v1m3-1v1m1-1v1m8-1v1m8-1v1m6-1v1m9-1v1m13-1v1m3-1v1m16-1v1m13-1v1m3-1v1m22-1v1m30-1v1m13-1v1m2-1v1m4-1v1m3-1v1m29-1v1m5-1v1m5-1v1m6-1v1m4-1v1m2-1v1m22-1v1m6-1v1m6-1v1m4-1v1m2-1v1m1-1v1m42-1v1m11-1v1m7-1v1m5-1v1m1-1v1m4-1v1m11-1v1m12-1v1m1-1v1m9-1v1m1-1v1m10-1v1m2-1v1m23-1v1m1-1v1m3-1v1m18-1v1m17-1v1m26-1v1m11-1v1m35-1v1m1-1v1m8-1v1m10-1v1m3-1v1m23-1v1m1-1v1m13-1v1m37-1v1m2-1v1m11-1v1m3-1v1m25-1v1m15-1v1m4-1v1m14-1v1m2-1v1m5-1v1m1-1v1m14-1v1m5-1v1m11-1v1m7-1v1m8-1v1m10-1v1m22-1v1m2-1v1m3-1v1m4-1v1m3-1v1m3-1v1m1-1v1m1-1v1m12-1v1m1-1v1m11-1v1"/><path opacity="0.82" d="M12 0v1m13-1v1m8-1v1m19-1v1m27-1v1m23-1v1m1-1v1m7-1v1m1-1v1m5-1v1m44-1v1m28-1v1m9-1v1m8-1v1m5-1v1m4-1v1m5-1v1m9-1v1m13-1v1m13-1v1m3-1v1m2-1v1m1-1v1m17-1v1m16-1v1m43-1v1m10-1v1m9-1v1m11-1v1m17-1v1m47-1v1m40-1v1m1-1v1m1-1v1m15-1v1m7-1v1m3-1v1m1-1v1m1-1v1m5-1v1m5-1v1m19-1v1m61-1v1m1-1v1m57-1v1m2-1v1m17-1v1m15-1v1m6-1v1m29-1v1m18-1v1m1-1v1m30-1v1m1-1v1m17-1v1m7-1v1m1-1v1m1-1v1m1-1v1m11-1v1m8-1v1m4-1v1m19-1v1m1-1v1m8-1v1m10-1v1m42-1v1m2-1v1m1-1v1m8-1v1m98-1v1m1-1v1m4-1v1m7-1v1m26-1v1m10-1v1m2-1v1m1-1v1m18-1v1m12-1v1m2-1v1m62-1v1m5-1v1m15-1v1m20-1v1m9-1v1m1-1v1m3-1v1m1-1v1m2-1v1m2-1v1m20-1v1m23-1v1m25-1v1m9-1v1m27-1v1m12-1v1m10-1v1m25-1v1m5-1v1m3-1v1m1-1v1m24-1v1m1-1v1m8-1v1m3-1v1m25-1v1m6-1v1m1-1v1m3-1v1m14-1v1m8-1v1m13-1v1"/><path opacity="1.00" d="M24 0v1m10-1v1m19-1v1m1-1v1m70-1v1m15-1v1m3-1v1m24-1v1m4-1v1m1-1v1m1-1v1m15-1v1m35-1v1m1-1v1m14-1v1m21-1v1m9-1v1m1-1v1m1-1v1m1-1v1m24-1v1m2-1v1m11-1v1m19-1v1m24-1v1m7-1v1m8-1v1m2-1v1m14-1v1m1-1v1m36-1v1m51-1v1m19-1v1m7-1v1m81-1v1m5-1v1m29-1v1m12-1v1m1-1v1m12-1v1m1-1v1m31-1v1m97-1v1m11-1v1m9-1v1m23-1v1m1-1v1m1-1v1m2-1v1m6-1v1m28-1v1m14-1v1m4-1v1m2-1v1m4-1v1m4-1v1m32-1v1m1-1v1m2-1v1m16-1v1m21-1v1m9-1v1m19-1v1m27-1v1m7-1v1m2-1v1m25-1v1m49-1v1m4-1v1m13-1v1m9-1v1m23-1v1m1-1v1m10-1v1m4-1v1m5-1v1m20-1v1m21-1v1m8-1v1m23-1v1m66-1v1m65-1v1m76-1v1m36-1v1"/></g>
<g id="n9" stroke="currentColor" transform="translate(.5)"><path opacity="0.22" d="M12 0v1m3-1v1m21-1v1m7-1v1m6-1v1m2-1v1m12-1v1m2-1v1m1-1v1m3-1v1m2-1v1m1-1v1m4-1v1m28-1v1m24-1v1m3-1v1m21-1v1m1-1v1m1-1v1m3-1v1m1-1v1m2-1v1m1-1v1m4-1v1m3-1v1m12-1v1m2-1v1m1-1v1m5-1v1m1-1v1m1-1v1m27-1v1m15-1v1m5-1v1m17-1v1m9-1v1m1-1v1m8-1v1m2-1v1m1-1v1m1-1v1m2-1v1m6-1v1m1-1v1m5-1v1m5-1v1m6-1v1m1-1v1m5-1v1m6-1v1m14-1v1m1-1v1m1-1v1m4-1v1m2-1v1m8-1v1m1-1v1m3-1v1m11-1v1m1-1v1m13-1v1m7-1v1m2-1v1m11-1v1m8-1v1m1-1v1m4-1v1m7-1v1m1-1v1m1-1v1m9-1v1m10-1v1m2-1v1m5-1v1m3-1v1m23-1v1m4-1v1m10-1v1m4-1v1m14-1v1m3-1v1m8-1v1m1-1v1m10-1v1m1-1v1m17-1v1m1-1v1m5-1v1m5-1v1m14-1v1m4-1v1m4-1v1m1-1v1m9-1v1m3-1v1m25-1v1m1-1v1m12-1v1m2-1v1m5-1v1m5-1v1m7-1v1m6-1v1m8-1v1m2-1v1m11-1v1m19-1v1m16-1v1m11-1v1m7-1v1m3-1v1m6-1v1m7-1v1m1-1v1m5-1v1m1-1v1m2-1v1m16-1v1m4-1v1m1-1v1m5-1v1m12-1v1m6-1v1m9-1v1m1-1v1m1-1v1m2-1v1m16-1v1m2-1v1m5-1v1m1-1v1m6-1v1m3-1v1m15-1v1m5-1v1m7-1v1m7-1v1m23-1v1m22-1v1m5-1v1m1-1v1m10-1v1m18-1v1m1-1v1m10-1v1m4-1v1m1-1v1m1-1v1m8-1v1m1-1v1m1-1v1m7-1v1m1-1v1m3-1v1m4-1v1m5-1v1m1-1v1m9-1v1m7-1v1m8-1v1m3-1v1m13-1v1m6-1v1m10-1v1m1-1v1m3-1v1m1-1v1m6-1v1m1-1v1m7-1v1m1-1v1m9-1v1m1-1v1m12-1v1m4-1v1m2-1v1m7-1v1m1-1v1m6-1v1m3-1v1m1-1v1m7-1v1m1-1v1m1-1v1m11-1v1m4-1v1m5-1v1m2-1v1m6-1v1m6-1v1m9-1v1m8-1v1m19-1v1m9-1v1m25-1v1m4-1v1m2-1v1m4-1v1m8-1v1m1-1v1m2-1v1m2-1v1m4-1v1m1-1v1m4-1v1m15-1v1m14-1v1m13-1v1m1-1v1m3-1v1m1-1v1m9-1v1m7-1v1m35-1v1m4-1v1m1-1v1m1-1v1m5-1v1m4-1v1m16-1v1m1-1v1m32-1v1m3-1v1m1-1v1m1-1v1m1-1v1m3-1v1m6-1v1m5-1v1m15-1v1m14-1v1m3-1v1m6-1v1m1-1v1m3-1v1"/><path opacity="0.42" d="M13 0v1m1-1v1m2-1v1m7-1v1m2-1v1m2-1v1m1-1v1m2-1v1m2-1v1m7-1v1m1-1v1m5-1v1m2-1v1m17-1v1m13-1v1m1-1v1m1-1v1m27-1v1m3-1v1m3-1v1m4-1v1m2-1v1m3-1v1m1-1v1m1-1v1m1-1v1m9-1v1m1-1v1m2-1v1m3-1v1m42-1v1m10-1v1m1-1v1m12-1v1m9-1v1m1-1v1m9-1v1m2-1v1m4-1v1m11-1v1m1-1v1m19-1v1m8-1v1m1-1v1m1-1v1m12-1v1m5-1v1m24-1v1m1-1v1m10-1v1m8-1v1m15-1v1m1-1v1m4-1v1m1-1v1m1-1v1m1-1v1m10-1v1m13-1v1m2-1v1m9-1v1m6-1v1m2-1v1m2-1v1m1-1v1m5-1v1m1-1v1m6-1v1m5-1v1m11-1v1m18-1v1m10-1v1m5-1v1m8-1v1m7-1v1m1-1v1m19-1v1m13-1v1m10-1v1m1-1v1m4-1v1m1-1v1m2-1v1m3-1v1m13-1v1m2-1v1m17-1v1m1-1v1m1-1v1m2-1v1m2-1v1m2-1v1m14-1v1m13-1v1m10-1v1m20-1v1m1-1v1m10-1v1m4-1v1m3-1v1m2-1v1m9-1v1m6-1v1m10-1v1m14-1v1m4-1v1m1-1v1m18-1v1m5-1v1m1-1v1m3-1v1m4-1v1m2-1v1m1-1v1m6-1v1m3-1v1m22-1v1m1-1v1m5-1v1m4-1v1m13-1v1m19-1v1m15-1v1m9-1v1m2-1v1m23-1v1m5-1v1m10-1v1m1-1v1m10-1v1m7-1v1m6-1v1m8-1v1m2-1v1m7-1v1m9-1v1m1-1v1m6-1v1m1-1v1m1-1v1m3-1v1m3-1v1m1-1v1m18-1v1m2-1v1m5-1v1m5-1v1m24-1v1m14-1v1m14-1v1m2-1v1m2-1v1m7-1v1m8-1v1m3-1v1m12-1v1m9-1v1m11-1v1m1-1v1m16-1v1m5-1v1m7-1v1m7-1v1m4-1v1m4-1v1m1-1v1m6-1v1m1-1v1m10-1v1m6-1v1m24-1v1m3-1v1m1-1v1m1-1v1m8-1v1m8-1v1m8-1v1m1-1v1m4-1v1m1-1v1m6-1v1m7-1v1m1-1v1m1-1v1m9-1v1m9-1v1m6-1v1m6-1v1m9-1v1m14-1v1m6-1v1m21-1v1m4-1v1m6-1v1m15-1v1m4-1v1m1-1v1m1-1v1m4-1v1m2-1v1m14-1v1m12-1v1m9-1v1m3-1v1m4-1v1m1-1v1m1-1v1m5-1v1m8-1v1m8-1v1m11-1v1m1-1v1m1-1v1m25-1v1m26-1v1m1-1v1m4-1v1m1-1v1m6-1v1m17-1v1m1-1v1"/><path opacity="0.62" d="M11 0v1m10-1v1m1-1v1m33-1v1m1-1v1m3-1v1m15-1v1m8-1v1m18-1v1m10-1v1m1-1v1m4-1v1m5-1v1m20-1v1m10-1v1m16-1v1m4-1v1m6-1v1m2-1v1m25-1v1m6-1v1m13-1v1m6-1v1m2-1v1m6-1v1m21-1v1m4-1v1m12-1v1m36-1v1m1-1v1m13-1v1m32-1v1m10-1v1m9-1v1m6-1v1m4-1v1m4-1v1m6-1v1m2-1v1m10-1v1m2-1v1m9-1v1m2-1v1m5-1v1m1-1v1m7-1v1m18-1v1m1-1v1m1-1v1m16-1v1m3-1v1m1-1v1m6-1v1m3-1v1m1-1v1m7-1v1m3-1v1m8-1v1m12-1v1m15-1v1m5-1v1m1-1v1m3-1v1m18-1v1m3-1v1m8-1v1m10-1v1m1-1v1m14-1v1m4-1v1m10-1v1m14-1v1m10-1v1m9-1v1m5-1v1m4-1v1m13-1v1m4-1v1m1-1v1m1-1v1m4-1v1m2-1v1m19-1v1m6-1v1m1-1v1m13-1v1m5-1v1m18-1v1m24-1v1m2-1v1m10-1v1m5-1v1m2-1v1m3-1v1m12-1v1m13-1v1m1-1v1m1-1v1m1-1v1m3-1v1m4-1v1m1-1v1m3-1v1m10-1v1m1-1v1m2-1v1m13-1v1m10-1v1m5-1v1m15-1v1m9-1v1m4-1v1m3-1v1m1-1v1m4-1v1m1-1v1m1-1v1m3-1v1m14-1v1m2-1v1m7-1v1m1-1v1m11-1v1m3-1v1m4-1v1m10-1v1m3-1v1m2-1v1m2-1v1m11-1v1m7-1v1m4-1v1m1-1v1m58-1v1m27-1v1m3-1v1m6-1v1m14-1v1m32-1v1m10-1v1m19-1v1m1-1v1m1-1v1m7-1v1m16-1v1m5-1v1m4-1v1m36-1v1m6-1v1m2-1v1m17-1v1m2-1v1m18-1v1m17-1v1m14-1v1m1-1v1m1-1v1m25-1v1m7-1v1m19-1v1m7-1v1m23-1v1m3-1v1m6-1v1m18-1v1m1-1v1m19-1v1m18-1v1m13-1v1m11-1v1m7-1v1m14-1v1"/><path opacity="0.82" d="M2 0v1m18-1v1m14-1v1m1-1v1m25-1v1m15-1v1m10-1v1m3-1v1m19-1v1m6-1v1m36-1v1m20-1v1m3-1v1m15-1v1m14-1v1m9-1v1m1-1v1m4-1v1m1-1v1m35-1v1m8-1v1m3-1v1m31-1v1m44-1v1m1-1v1m1-1v1m15-1v1m14-1v1m7-1v1m10-1v1m33-1v1m2-1v1m1-1v1m32-1v1m33-1v1m1-1v1m3-1v1m9-1v1m4-1v1m1-1v1m7-1v1m2-1v1m13-1v1m8-1v1m1-1v1m2-1v1m16-1v1m5-1v1m16-1v1m18-1v1m1-1v1m7-1v1m13-1v1m10-1v1m15-1v1m20-1v1m22-1v1m1-1v1m17-1v1m3-1v1m25-1v1m21-1v1m6-1v1m22-1v1m7-1v1m1-1v1m11-1v1m1-1v1m13-1v1m4-1v1m1-1v1m3-1v1m14-1v1m16-1v1m12-1v1m14-1v1m1-1v1m4-1v1m4-1v1m1-1v1m57-1v1m4-1v1m5-1v1m10-1v1m9-1v1m38-1v1m9-1v1m2-1v1m13-1v1m2-1v1m16-1v1m1-1v1m20-1v1m9-1v1m8-1v1m2-1v1m30-1v1m23-1v1m4-1v1m1-1v1m16-1v1m48-1v1m5-1v1m2-1v1m14-1v1m52-1v1m5-1v1m8-1v1m5-1v1m1-1v1m21-1v1m4-1v1m4-1v1m2-1v1m11-1v1m2-1v1m6-1v1m31-1v1m36-1v1m7-1v1m3-1v1m25-1v1m12-1v1m1-1v1m2-1v1m4-1v1m10-1v1m7-1v1"/><path opacity="1.00" d="M3 0v1m1-1v1m4-1v1m1-1v1m58-1v1m17-1v1m13-1v1m5-1v1m45-1v1m1-1v1m8-1v1m7-1v1m1-1v1m21-1v1m1-1v1m10-1v1m1-1v1m95-1v1m2-1v1m46-1v1m27-1v1m32-1v1m29-1v1m10-1v1m18-1v1m8-1v1m21-1v1m12-1v1m22-1v1m27-1v1m1-1v1m26-1v1m18-1v1m29-1v1m11-1v1m1-1v1m34-1v1m36-1v1m25-1v1m1-1v1m8-1v1m5-1v1m1-1v1m19-1v1m2-1v1m7-1v1m10-1v1m9-1v1m52-1v1m1-1v1m1-1v1m36-1v1m26-1v1m1-1v1m28-1v1m2-1v1m1-1v1m63-1v1m17-1v1m28-1v1m1-1v1m32-1v1m8-1v1m2-1v1m23-1v1m23-1v1m2-1v1m5-1v1m8-1v1m19-1v1m99-1v1m1-1v1m10-1v1m8-1v1m16-1v1m1-1v1m38-1v1m35-1v1m16-1v1m4-1v1m26-1v1m32-1v1m27-1v1m2-1v1"/></g>
<g id="k0" stroke="currentColor" transform="translate(.5)"><path opacity="0.22" d="M1 0v1m1-1v1m5-1v1m35-1v1m2-1v1m1-1v1m2-1v1m10-1v1m1-1v1m2-1v1m73-1v1m10-1v1m7-1v1m17-1v1m19-1v1m1-1v1m28-1v1m5-1v1m42-1v1m45-1v1m15-1v1m11-1v1m13-1v1m8-1v1m25-1v1m1-1v1m15-1v1m1-1v1m5-1v1m18-1v1m46-1v1m1-1v1m6-1v1m8-1v1m30-1v1m1-1v1m3-1v1m31-1v1m12-1v1m25-1v1m2-1v1m11-1v1m5-1v1m19-1v1m9-1v1m1-1v1m1-1v1m6-1v1m38-1v1m8-1v1m1-1v1m1-1v1m12-1v1m20-1v1m3-1v1m39-1v1m30-1v1m41-1v1m9-1v1m9-1v1m3-1v1m1-1v1m1-1v1m5-1v1m4-1v1m17-1v1m43-1v1m12-1v1m16-1v1m73-1v1m1-1v1m11-1v1m22-1v1m1-1v1m1-1v1m1-1v1m45-1v1m2-1v1m1-1v1m10-1v1m8-1v1m4-1v1m9-1v1m1-1v1m3-1v1m30-1v1m2-1v1m43-1v1m1-1v1m36-1v1m1-1v1m33-1v1m37-1v1m12-1v1m4-1v1m14-1v1m10-1v1m30-1v1m5-1v1m32-1v1m2-1v1m1-1v1m2-1v1m4-1v1m2-1v1m10-1v1m25-1v1m2-1v1m1-1v1"/><path opacity="0.42" d="M40 0v1m16-1v1m12-1v1m5-1v1m43-1v1m35-1v1m1-1v1m1-1v1m5-1v1m11-1v1m7-1v1m38-1v1m16-1v1m1-1v1m16-1v1m11-1v1m19-1v1m38-1v1m3-1v1m2-1v1m17-1v1m11-1v1m2-1v1m39-1v1m59-1v1m8-1v1m53-1v1m25-1v1m15-1v1m34-1v1m22-1v1m11-1v1m2-1v1m29-1v1m12-1v1m3-1v1m14-1v1m5-1v1m13-1v1m1-1v1m20-1v1m3-1v1m41-1v1m4-1v1m7-1v1m16-1v1m12-1v1m47-1v1m17-1v1m6-1v1m27-1v1m28-1v1m12-1v1m7-1v1m9-1v1m21-1v1m30-1v1m6-1v1m8-1v1m14-1v1m14-1v1m8-1v1m33-1v1m14-1v1m6-1v1m27-1v1m2-1v1m1-1v1m14-1v1m6-1v1m18-1v1m14-1v1m10-1v1m11-1v1m3-1v1m25-1v1m14-1v1m22-1v1m17-1v1m1-1v1m4-1v1m10-1v1m3-1v1m11-1v1m12-1v1m17-1v1m1-1v1m18-1v1m8-1v1m12-1v1m12-1v1m1-1v1m3-1v1m44-1v1m21-1v1m8-1v1m1-1v1m1-1v1m2-1v1m8-1v1m1-1v1"/><path opacity="0.62" d="M10 0v1m21-1v1m2-1v1m1-1v1m30-1v1m8-1v1m21-1v1m2-1v1m10-1v1m1-1v1m12-1v1m20-1v1m4-1v1m3-1v1m3-1v1m13-1v1m4-1v1m27-1v1m37-1v1m7-1v1m8-1v1m1-1v1m3-1v1m15-1v1m1-1v1m8-1v1m2-1v1m1-1v1m4-1v1m13-1v1m1-1v1m1-1v1m1-1v1m3-1v1m3-1v1m23-1v1m1-1v1m10-1v1m9-1v1m1-1v1m16-1v1m3-1v1m6-1v1m5-1v1m2-1v1m27-1v1m9-1v1m5-1v1m18-1v1m3-1v1m1-1v1m4-1v1m2-1v1m7-1v1m5-1v1m4-1v1m25-1v1m4-1v1m2-1v1m1-1v1m2-1v1m1-1v1m11-1v1m4-1v1m1-1v1m5-1v1m26-1v1m20-1v1m1-1v1m2-1v1m5-1v1m9-1v1m7-1v1m2-1v1m1-1v1m1-1v1m1-1v1m8-1v1m1-1v1m1-1v1m12-1v1m2-1v1m5-1v1m10-1v1m5-1v1m19-1v1m1-1v1m4-1v1m5-1v1m1-1v1m2-1v1m2-1v1m14-1v1m7-1v1m5-1v1m5-1v1m19-1v1m6-1v1m6-1v1m7-1v1m1-1v1m23-1v1m1-1v1m1-1v1m7-1v1m9-1v1m7-1v1m30-1v1m1-1v1m60-1v1m13-1v1m1-1v1m2-1v1m4-1v1m18-1v1m1-1v1m1-1v1m11-1v1m3-1v1m7-1v1m17-1v1m2-1v1m5-1v1m1-1v1m1-1v1m3-1v1m1-1v1m10-1v1m5-1v1m6-1v1m4-1v1m14-1v1m14-1v1m7-1v1m4-1v1m6-1v1m4-1v1m15-1v1m20-1v1m4-1v1m8-1v1m4-1v1m2-1v1m11-1v1m7-1v1m7-1v1m29-1v1m1-1v1m9-1v1m1-1v1m22-1v1m5-1v1m5-1v1m1-1v1m4-1v1m3-1v1m7-1v1m18-1v1m18-1v1m10-1v1m10-1v1m1-1v1m2-1v1m23-1v1m7-1v1m13-1v1m17-1v1m17-1v1m11-1v1m7-1v1m6-1v1m5-1v1m4-1v1m5-1v1m1-1v1m22-1v1m8-1v1m8-1v1m7-1v1m10-1v1m11-1v1m22-1v1m11-1v1"/><path opacity="0.82" d="M8 0v1m4-1v1m24-1v1m12-1v1m1-1v1m1-1v1m2-1v1m9-1v1m10-1v1m12-1v1m8-1v1m3-1v1m8-1v1m9-1v1m15-1v1m11-1v1m23-1v1m3-1v1m3-1v1m7-1v1m25-1v1m6-1v1m7-1v1m13-1v1m1-1v1m1-1v1m11-1v1m28-1v1m1-1v1m2-1v1m31-1v1m1-1v1m5-1v1m48-1v1m10-1v1m24-1v1m30-1v1m14-1v1m30-1v1m12-1v1m19-1v1m44-1v1m3-1v1m14-1v1m51-1v1m2-1v1m5-1v1m9-1v1m1-1v1m10-1v1m4-1v1m3-1v1m13-1v1m19-1v1m7-1v1m10-1v1m21-1v1m24-1v1m7-1v1m23-1v1m6-1v1m1-1v1m2-1v1m8-1v1m4-1v1m11-1v1m1-1v1m4-1v1m1-1v1m7-1v1m1-1v1m3-1v1m16-1v1m3-1v1m6-1v1m3-1v1m7-1v1m7-1v1m28-1v1m8-1v1m12-1v1m25-1v1m1-1v1m3-1v1m18-1v1m16-1v1m9-1v1m3-1v1m8-1v1m1-1v1m4-1v1m14-1v1m10-1v1m1-1v1m1-1v1m10-1v1m3-1v1m12-1v1m53-1v1m1-1v1m56-1v1m42-1v1m30-1v1m5-1v1m16-1v1m19-1v1m8-1v1m5-1v1m25-1v1m3-1v1m10-1v1m3-1v1m18-1v1m1-1v1m7-1v1m3-1v1m18-1v1m13-1v1m17-1v1m13-1v1m21-1v1m17-1v1m8-1v1m6-1v1m2-1v1m6-1v1m2-1v1m15-1v1m6-1v1"/><path opacity="1.00" d="M6 0v1m7-1v1m4-1v1m2-1v1m48-1v1m8-1v1m9-1v1m2-1v1m1-1v1m13-1v1m1-1v1m11-1v1m8-1v1m1-1v1m1-1v1m1-1v1m2-1v1m14-1v1m1-1v1m24-1v1m30-1v1m1-1v1m1-1v1m4-1v1m1-1v1m2-1v1m5-1v1m1-1v1m46-1v1m14-1v1m16-1v1m1-1v1m18-1v1m8-1v1m1-1v1m4-1v1m35-1v1m15-1v1m1-1v1m18-1v1m2-1v1m14-1v1m1-1v1m7-1v1m40-1v1m1-1v1m1-1v1m7-1v1m1-1v1m3-1v1m4-1v1m9-1v1m5-1v1m1-1v1m18-1v1m22-1v1m9-1v1m1-1v1m29-1v1m12-1v1m52-1v1m8-1v1m30-1v1m1-1v1m4-1v1m31-1v1m27-1v1m3-1v1m1-1v1m18-1v1m4-1v1m1-1v1m1-1v1m6-1v1m18-1v1m78-1v1m3-1v1m20-1v1m12-1v1m1-1v1m16-1v1m1-1v1m1-1v1m64-1v1m14-1v1m3-1v1m14-1v1m6-1v1m10-1v1m5-1v1m10-1v1m37-1v1m13-1v1m2-1v1m1-1v1m70-1v1m12-1v1m22-1v1m11-1v1m38-1v1m26-1v1m55-1v1m13-1v1m18-1v1m4-1v1m51-1v1m10-1v1m1-1v1m1-1v1m3-1v1m40-1v1m1-1v1"/></g>
<g id="k1" stroke="currentColor" transform="translate(.5)"><path opacity="0.22" d="M9 0v1m1-1v1m2-1v1m28-1v1m13-1v1m5-1v1m1-1v1m35-1v1m21-1v1m7-1v1m17-1v1m7-1v1m3-1v1m11-1v1m22-1v1m41-1v1m32-1v1m1-1v1m1-1v1m9-1v1m6-1v1m27-1v1m7-1v1m3-1v1m54-1v1m43-1v1m8-1v1m23-1v1m4-1v1m3-1v1m1-1v1m4-1v1m7-1v1m23-1v1m1-1v1m4-1v1m2-1v1m15-1v1m19-1v1m17-1v1m1-1v1m1-1v1m6-1v1m8-1v1m1-1v1m3-1v1m89-1v1m2-1v1m5-1v1m38-1v1m10-1v1m14-1v1m15-1v1m7-1v1m4-1v1m16-1v1m16-1v1m3-1v1m1-1v1m42-1v1m15-1v1m1-1v1m4-1v1m23-1v1m1-1v1m7-1v1m9-1v1m1-1v1m13-1v1m1-1v1m52-1v1m44-1v1m18-1v1m28-1v1m28-1v1m10-1v1m24-1v1m23-1v1m19-1v1m32-1v1m5-1v1m21-1v1m70-1v1m10-1v1m11-1v1m6-1v1m9-1v1m22-1v1m1-1v1m14-1v1m5-1v1m28-1v1m23-1v1m23-1v1m1-1v1m60-1v1m5-1v1"/><path opacity="0.42" d="M11 0v1m4-1v1m1-1v1m21-1v1m1-1v1m22-1v1m1-1v1m12-1v1m36-1v1m4-1v1m1-1v1m10-1v1m19-1v1m8-1v1m10-1v1m15-1v1m1-1v1m6-1v1m27-1v1m29-1v1m14-1v1m1-1v1m4-1v1m52-1v1m14-1v1m26-1v1m10-1v1m6-1v1m21-1v1m17-1v1m1-1v1m2-1v1m1-1v1m16-1v1m12-1v1m2-1v1m31-1v1m13-1v1m33-1v1m2-1v1m55-1v1m7-1v1m10-1v1m1-1v1m15-1v1m81-1v1m4-1v1m39-1v1m19-1v1m2-1v1m6-1v1m18-1v1m17-1v1m1-1v1m14-1v1m4-1v1m10-1v1m13-1v1m3-1v1m1-1v1m11-1v1m7-1v1m2-1v1m2-1v1m10-1v1m13-1v1m1-1v1m13-1v1m5-1v1m4-1v1m4-1v1m1-1v1m18-1v1m1-1v1m12-1v1m26-1v1m6-1v1m2-1v1m1-1v1m33-1v1m11-1v1m11-1v1m2-1v1m4-1v1m13-1v1m12-1v1m18-1v1m5-1v1m6-1v1m15-1v1m19-1v1m11-1v1m26-1v1m2-1v1m5-1v1m6-1v1m19-1v1m3-1v1m11-1v1m4-1v1m14-1v1m8-1v1m1-1v1m13-1v1m4-1v1m2-1v1m4-1v1m15-1v1m18-1v1m2-1v1m7-1v1m13-1v1m12-1v1m8-1v1m6-1v1m6-1v1m5-1v1m40-1v1m5-1v1m1-1v1m2-1v1m30-1v1m2-1v1m10-1v1m12-1v1m6-1v1m4-1v1m12-1v1m11-1v1m4-1v1"/><path opacity="0.62" d="M22 0v1m13-1v1m4-1v1m28-1v1m18-1v1m3-1v1m22-1v1m13-1v1m6-1v1m21-1v1m3-1v1m4-1v1m6-1v1m11-1v1m16-1v1m23-1v1m4-1v1m1-1v1m24-1v1m21-1v1m2-1v1m28-1v1m1-1v1m36-1v1m16-1v1m7-1v1m11-1v1m1-1v1m10-1v1m6-1v1m17-1v1m14-1v1m7-1v1m9-1v1m5-1v1m9-1v1m1-1v1m9-1v1m5-1v1m3-1v1m27-1v1m4-1v1m13-1v1m1-1v1m5-1v1m1-1v1m14-1v1m1-1v1m25-1v1m74-1v1m12-1v1m1-1v1m7-1v1m21-1v1m6-1v1m5-1v1m21-1v1m8-1v1m4-1v1m1-1v1m1-1v1m14-1v1m5-1v1m12-1v1m15-1v1m10-1v1m11-1v1m7-1v1m14-1v1m7-1v1m14-1v1m17-1v1m39-1v1m25-1v1m14-1v1m1-1v1m13-1v1m4-1v1m6-1v1m13-1v1m2-1v1m3-1v1m1-1v1m13-1v1m2-1v1m27-1v1m17-1v1m3-1v1m1-1v1m2-1v1m5-1v1m6-1v1m9-1v1m19-1v1m18-1v1m1-1v1m8-1v1m2-1v1m22-1v1m40-1v1m3-1v1m2-1v1m4-1v1m5-1v1m13-1v1m10-1v1m22-1v1m1-1v1m14-1v1m10-1v1m8-1v1m55-1v1m6-1v1m7-1v1m1-1v1m19-1v1m6-1v1m2-1v1m7-1v1m4-1v1m4-1v1m1-1v1m1-1v1m10-1v1m17-1v1m6-1v1m8-1v1m8-1v1m5-1v1m4-1v1m12-1v1m9-1v1m7-1v1m2-1v1m21-1v1m12-1v1"/><path opacity="0.82" d="M17 0v1m1-1v1m7-1v1m7-1v1m2-1v1m29-1v1m24-1v1m19-1v1m12-1v1m2-1v1m42-1v1m6-1v1m4-1v1m1-1v1m16-1v1m15-1v1m27-1v1m10-1v1m39-1v1m10-1v1m11-1v1m19-1v1m14-1v1m1-1v1m12-1v1m2-1v1m18-1v1m1-1v1m17-1v1m8-1v1m8-1v1m17-1v1m40-1v1m70-1v1m1-1v1m23-1v1m10-1v1m22-1v1m44-1v1m4-1v1m15-1v1m26-1v1m1-1v1m2-1v1m21-1v1m21-1v1m2-1v1m13-1v1m1-1v1m29-1v1m18-1v1m1-1v1m2-1v1m3-1v1m8-1v1m2-1v1m1-1v1m10-1v1m1-1v1m8-1v1m5-1v1m1-1v1m20-1v1m9-1v1m1-1v1m1-1v1m4-1v1m7-1v1m6-1v1m13-1v1m1-1v1m3-1v1m1-1v1m25-1v1m4-1v1m33-1v1m9-1v1m1-1v1m9-1v1m21-1v1m7-1v1m25-1v1m4-1v1m3-1v1m2-1v1m13-1v1m4-1v1m17-1v1m56-1v1m4-1v1m32-1v1m20-1v1m4-1v1m1-1v1m9-1v1m10-1v1m5-1v1m25-1v1m7-1v1m32-1v1m9-1v1m2-1v1m1-1v1m14-1v1m21-1v1m5-1v1m1-1v1m28-1v1m13-1v1m22-1v1m22-1v1m1-1v1m4-1v1m8-1v1m2-1v1m1-1v1m23-1v1m17-1v1m14-1v1"/><path opacity="1.00" d="M20 0v1m1-1v1m30-1v1m25-1v1m28-1v1m36-1v1m51-1v1m1-1v1m6-1v1m63-1v1m9-1v1m18-1v1m1-1v1m28-1v1m15-1v1m1-1v1m4-1v1m6-1v1m1-1v1m1-1v1m3-1v1m8-1v1m21-1v1m1-1v1m5-1v1m56-1v1m15-1v1m1-1v1m10-1v1m11-1v1m1-1v1m21-1v1m23-1v1m38-1v1m17-1v1m10-1v1m23-1v1m5-1v1m2-1v1m6-1v1m1-1v1m17-1v1m10-1v1m15-1v1m2-1v1m1-1v1m41-1v1m7-1v1m1-1v1m52-1v1m1-1v1m10-1v1m21-1v1m13-1v1m36-1v1m65-1v1m4-1v1m2-1v1m5-1v1m21-1v1m15-1v1m26-1v1m4-1v1m4-1v1m8-1v1m1-1v1m36-1v1m28-1v1m2-1v1m7-1v1m24-1v1m1-1v1m10-1v1m7-1v1m10-1v1m1-1v1m12-1v1m9-1v1m49-1v1m30-1v1m38-1v1m1-1v1m11-1v1m4-1v1m1-1v1m76-1v1m21-1v1m2-1v1m8-1v1m26-1v1m4-1v1m8-1v1m1-1v1m2-1v1m43-1v1m1-1v1"/></g>
<g id="k2" stroke="currentColor" transform="translate(.5)"><path opacity="0.22" d="M12 0v1m10-1v1m17-1v1m1-1v1m1-1v1m1-1v1m36-1v1m5-1v1m3-1v1m26-1v1m16-1v1m1-1v1m4-1v1m1-1v1m1-1v1m27-1v1m32-1v1m18-1v1m7-1v1m1-1v1m1-1v1m25-1v1m25-1v1m1-1v1m20-1v1m20-1v1m2-1v1m1-1v1m1-1v1m6-1v1m16-1v1m8-1v1m1-1v1m14-1v1m49-1v1m1-1v1m5-1v1m2-1v1m11-1v1m5-1v1m11-1v1m6-1v1m13-1v1m15-1v1m2-1v1m1-1v1m21-1v1m11-1v1m14-1v1m19-1v1m107-1v1m17-1v1m69-1v1m1-1v1m1-1v1m21-1v1m4-1v1m6-1v1m21-1v1m10-1v1m20-1v1m73-1v1m16-1v1m5-1v1m1-1v1m47-1v1m1-1v1m1-1v1m22-1v1m35-1v1m39-1v1m1-1v1m2-1v1m4-1v1m24-1v1m56-1v1m12-1v1m1-1v1m39-1v1m1-1v1m11-1v1m1-1v1m30-1v1m5-1v1m6-1v1m40-1v1m10-1v1m2-1v1m7-1v1m24-1v1m25-1v1m40-1v1m1-1v1m13-1v1m24-1v1m2-1v1m11-1v1m17-1v1"/><path opacity="0.42" d="M13 0v1m30-1v1m14-1v1m16-1v1m8-1v1m1-1v1m9-1v1m1-1v1m40-1v1m6-1v1m1-1v1m8-1v1m6-1v1m2-1v1m40-1v1m3-1v1m6-1v1m31-1v1m1-1v1m1-1v1m18-1v1m24-1v1m15-1v1m13-1v1m1-1v1m5-1v1m29-1v1m49-1v1m9-1v1m3-1v1m1-1v1m4-1v1m4-1v1m2-1v1m3-1v1m4-1v1m3-1v1m12-1v1m14-1v1m4-1v1m2-1v1m1-1v1m21-1v1m16-1v1m42-1v1m12-1v1m19-1v1m68-1v1m5-1v1m23-1v1m1-1v1m11-1v1m3-1v1m2-1v1m1-1v1m7-1v1m4-1v1m1-1v1m10-1v1m1-1v1m28-1v1m7-1v1m19-1v1m8-1v1m8-1v1m5-1v1m8-1v1m3-1v1m6-1v1m5-1v1m2-1v1m17-1v1m5-1v1m5-1v1m1-1v1m15-1v1m22-1v1m39-1v1m1-1v1m1-1v1m84-1v1m3-1v1m2-1v1m14-1v1m15-1v1m1-1v1m16-1v1m6-1v1m24-1v1m11-1v1m1-1v1m1-1v1m7-1v1m13-1v1m11-1v1m13-1v1m2-1v1m5-1v1m21-1v1m1-1v1m15-1v1m2-1v1m9-1v1m41-1v1m16-1v1m12-1v1m35-1v1m6-1v1m12-1v1m12-1v1m32-1v1m3-1v1m4-1v1m4-1v1m12-1v1m3-1v1m3-1v1m21-1v1m6-1v1m17-1v1m2-1v1m4-1v1m13-1v1m11-1v1m3-1v1m32-1v1"/><path opacity="0.62" d="M14 0v1m6-1v1m7-1v1m2-1v1m23-1v1m1-1v1m31-1v1m21-1v1m4-1v1m16-1v1m6-1v1m13-1v1m31-1v1m3-1v1m7-1v1m4-1v1m13-1v1m7-1v1m24-1v1m15-1v1m10-1v1m8-1v1m1-1v1m8-1v1m5-1v1m23-1v1m3-1v1m5-1v1m21-1v1m3-1v1m1-1v1m5-1v1m13-1v1m3-1v1m2-1v1m12-1v1m4-1v1m5-1v1m13-1v1m1-1v1m7-1v1m1-1v1m5-1v1m6-1v1m2-1v1m7-1v1m1-1v1m12-1v1m37-1v1m3-1v1m2-1v1m12-1v1m1-1v1m3-1v1m2-1v1m4-1v1m5-1v1m8-1v1m3-1v1m11-1v1m11-1v1m23-1v1m8-1v1m1-1v1m4-1v1m7-1v1m11-1v1m1-1v1m5-1v1m6-1v1m10-1v1m10-1v1m1-1v1m1-1v1m6-1v1m7-1v1m12-1v1m24-1v1m10-1v1m3-1v1m13-1v1m5-1v1m9-1v1m2-1v1m4-1v1m5-1v1m1-1v1m31-1v1m23-1v1m18-1v1m2-1v1m11-1v1m6-1v1m9-1v1m3-1v1m3-1v1m13-1v1m2-1v1m1-1v1m2-1v1m1-1v1m3-1v1m6-1v1m1-1v1m3-1v1m7-1v1m25-1v1m20-1v1m9-1v1m1-1v1m51-1v1m8-1v1m18-1v1m1-1v1m1-1v1m8-1v1m1-1v1m19-1v1m3-1v1m1-1v1m5-1v1m1-1v1m23-1v1m10-1v1m32-1v1m5-1v1m21-1v1m16-1v1m8-1v1m16-1v1m4-1v1m9-1v1m4-1v1m35-1v1m36-1v1m1-1v1m7-1v1m3-1v1m4-1v1m57-1v1m11-1v1m1-1v1m14-1v1m1-1v1m5-1v1m10-1v1m4-1v1m21-1v1m3-1v1m3-1v1m4-1v1m15-1v1m2-1v1m1-1v1m9-1v1m21-1v1m11-1v1m1-1v1"/><path opacity="0.82" d="M21 0v1m2-1v1m2-1v1m23-1v1m10-1v1m3-1v1m8-1v1m18-1v1m1-1v1m1-1v1m4-1v1m8-1v1m3-1v1m2-1v1m2-1v1m19-1v1m16-1v1m2-1v1m3-1v1m9-1v1m6-1v1m9-1v1m2-1v1m7-1v1m1-1v1m29-1v1m4-1v1m1-1v1m11-1v1m3-1v1m4-1v1m19-1v1m6-1v1m27-1v1m1-1v1m2-1v1m8-1v1m1-1v1m1-1v1m45-1v1m12-1v1m9-1v1m11-1v1m9-1v1m11-1v1m29-1v1m1-1v1m11-1v1m1-1v1m3-1v1m17-1v1m39-1v1m1-1v1m8-1v1m3-1v1m2-1v1m6-1v1m1-1v1m3-1v1m1-1v1m33-1v1m2-1v1m13-1v1m34-1v1m14-1v1m14-1v1m33-1v1m4-1v1m4-1v1m48-1v1m6-1v1m4-1v1m71-1v1m5-1v1m15-1v1m5-1v1m28-1v1m32-1v1m7-1v1m28-1v1m9-1v1m44-1v1m1-1v1m3-1v1m12-1v1m1-1v1m14-1v1m2-1v1m8-1v1m15-1v1m17-1v1m3-1v1m1-1v1m3-1v1m1-1v1m1-1v1m23-1v1m41-1v1m32-1v1m1-1v1m1-1v1m2-1v1m11-1v1m21-1v1m10-1v1m38-1v1m41-1v1m5-1v1m1-1v1m2-1v1m9-1v1m4-1v1m11-1v1m1-1v1m13-1v1m9-1v1m18-1v1m26-1v1m18-1v1m5-1v1m10-1v1m2-1v1m9-1v1m18-1v1m1-1v1m2-1v1m5-1v1m3-1v1m13-1v1m6-1v1m8-1v1m1-1v1m8-1v1m2-1v1"/><path opacity="1.00" d="M17 0v1m1-1v1m1-1v1m5-1v1m40-1v1m1-1v1m31-1v1m3-1v1m1-1v1m18-1v1m1-1v1m1-1v1m6-1v1m47-1v1m40-1v1m5-1v1m45-1v1m1-1v1m5-1v1m49-1v1m21-1v1m1-1v1m8-1v1m40-1v1m1-1v1m9-1v1m22-1v1m11-1v1m1-1v1m33-1v1m8-1v1m3-1v1m9-1v1m66-1v1m2-1v1m6-1v1m15-1v1m13-1v1m6-1v1m8-1v1m6-1v1m2-1v1m21-1v1m13-1v1m1-1v1m5-1v1m4-1v1m9-1v1m5-1v1m27-1v1m15-1v1m1-1v1m36-1v1m37-1v1m1-1v1m1-1v1m1-1v1m20-1v1m61-1v1m5-1v1m12-1v1m1-1v1m1-1v1m26-1v1m32-1v1m17-1v1m19-1v1m27-1v1m10-1v1m4-1v1m9-1v1m28-1v1m1-1v1m10-1v1m19-1v1m1-1v1m3-1v1m25-1v1m11-1v1m2-1v1m26-1v1m10-1v1m43-1v1m1-1v1m4-1v1m17-1v1m29-1v1m1-1v1m10-1v1m16-1v1m4-1v1m59-1v1m17-1v1m21-1v1m28-1v1m4-1v1m21-1v1m11-1v1m32-1v1"/></g>
<g id="k3" stroke="currentColor" transform="translate(.5)"><path opacity="0.22" d="M19 0v1m37-1v1m6-1v1m58-1v1m5-1v1m18-1v1m3-1v1m15-1v1m2-1v1m1-1v1m42-1v1m13-1v1m6-1v1m9-1v1m1-1v1m46-1v1m44-1v1m11-1v1m26-1v1m7-1v1m27-1v1m9-1v1m59-1v1m10-1v1m8-1v1m2-1v1m71-1v1m12-1v1m17-1v1m19-1v1m3-1v1m17-1v1m3-1v1m2-1v1m68-1v1m19-1v1m18-1v1m20-1v1m12-1v1m25-1v1m54-1v1m11-1v1m31-1v1m1-1v1m3-1v1m2-1v1m10-1v1m4-1v1m7-1v1m44-1v1m21-1v1m46-1v1m1-1v1m10-1v1m42-1v1m14-1v1m1-1v1m64-1v1m11-1v1m10-1v1m24-1v1m1-1v1m1-1v1m14-1v1m17-1v1m134-1v1m9-1v1m3-1v1m9-1v1m96-1v1m3-1v1m1-1v1m1-1v1"/><path opacity="0.42" d="M1 0v1m37-1v1m30-1v1m34-1v1m15-1v1m1-1v1m1-1v1m2-1v1m8-1v1m6-1v1m21-1v1m4-1v1m21-1v1m1-1v1m8-1v1m7-1v1m8-1v1m37-1v1m13-1v1m28-1v1m37-1v1m7-1v1m45-1v1m49-1v1m22-1v1m8-1v1m32-1v1m5-1v1m2-1v1m33-1v1m22-1v1m8-1v1m30-1v1m42-1v1m2-1v1m7-1v1m6-1v1m15-1v1m15-1v1m2-1v1m9-1v1m2-1v1m1-1v1m9-1v1m12-1v1m2-1v1m35-1v1m9-1v1m27-1v1m19-1v1m5-1v1m2-1v1m17-1v1m21-1v1m11-1v1m21-1v1m9-1v1m5-1v1m19-1v1m21-1v1m4-1v1m9-1v1m19-1v1m31-1v1m45-1v1m5-1v1m24-1v1m13-1v1m7-1v1m20-1v1m2-1v1m6-1v1m33-1v1m2-1v1m4-1v1m11-1v1m5-1v1m2-1v1m17-1v1m3-1v1m10-1v1m37-1v1m21-1v1m15-1v1m28-1v1m17-1v1m22-1v1m10-1v1m11-1v1m30-1v1m1-1v1m2-1v1m14-1v1m16-1v1m1-1v1m7-1v1m15-1v1m12-1v1m1-1v1m1-1v1m2-1v1m19-1v1m2-1v1"/><path opacity="0.62" d="M5 0v1m21-1v1m4-1v1m1-1v1m9-1v1m20-1v1m13-1v1m35-1v1m15-1v1m28-1v1m26-1v1m1-1v1m13-1v1m5-1v1m6-1v1m1-1v1m11-1v1m1-1v1m9-1v1m8-1v1m15-1v1m1-1v1m3-1v1m19-1v1m10-1v1m11-1v1m1-1v1m4-1v1m1-1v1m7-1v1m3-1v1m4-1v1m7-1v1m8-1v1m3-1v1m21-1v1m1-1v1m6-1v1m9-1v1m7-1v1m3-1v1m19-1v1m5-1v1m17-1v1m5-1v1m12-1v1m7-1v1m1-1v1m10-1v1m5-1v1m3-1v1m2-1v1m5-1v1m10-1v1m4-1v1m11-1v1m3-1v1m7-1v1m8-1v1m17-1v1m2-1v1m3-1v1m3-1v1m2-1v1m17-1v1m38-1v1m2-1v1m6-1v1m8-1v1m1-1v1m7-1v1m28-1v1m12-1v1m11-1v1m1-1v1m14-1v1m19-1v1m1-1v1m14-1v1m11-1v1m22-1v1m5-1v1m31-1v1m8-1v1m3-1v1m4-1v1m13-1v1m1-1v1m24-1v1m12-1v1m1-1v1m16-1v1m2-1v1m6-1v1m1-1v1m3-1v1m1-1v1m24-1v1m6-1v1m1-1v1m9-1v1m7-1v1m2-1v1m8-1v1m1-1v1m1-1v1m7-1v1m41-1v1m2-1v1m1-1v1m8-1v1m19-1v1m5-1v1m26-1v1m1-1v1m70-1v1m4-1v1m21-1v1m13-1v1m5-1v1m7-1v1m7-1v1m16-1v1m34-1v1m2-1v1m23-1v1m15-1v1m2-1v1m20-1v1m8-1v1m1-1v1m6-1v1m1-1v1m1-1v1m2-1v1m5-1v1m1-1v1m7-1v1m26-1v1m9-1v1m11-1v1m5-1v1m25-1v1m11-1v1m2-1v1m2-1v1m1-1v1m1-1v1m1-1v1m1-1v1m8-1v1m5-1v1m49-1v1m6-1v1"/><path opacity="0.82" d="M24 0v1m24-1v1m5-1v1m17-1v1m28-1v1m1-1v1m1-1v1m1-1v1m23-1v1m3-1v1m3-1v1m7-1v1m11-1v1m23-1v1m1-1v1m1-1v1m3-1v1m19-1v1m3-1v1m35-1v1m41-1v1m13-1v1m1-1v1m11-1v1m10-1v1m19-1v1m4-1v1m8-1v1m1-1v1m1-1v1m1-1v1m55-1v1m1-1v1m26-1v1m30-1v1m6-1v1m5-1v1m7-1v1m5-1v1m11-1v1m25-1v1m19-1v1m5-1v1m1-1v1m4-1v1m20-1v1m1-1v1m1-1v1m4-1v1m5-1v1m1-1v1m5-1v1m21-1v1m60-1v1m2-1v1m36-1v1m13-1v1m8-1v1m3-1v1m5-1v1m3-1v1m19-1v1m21-1v1m1-1v1m8-1v1m9-1v1m21-1v1m1-1v1m6-1v1m1-1v1m6-1v1m9-1v1m1-1v1m15-1v1m19-1v1m2-1v1m3-1v1m5-1v1m19-1v1m21-1v1m15-1v1m7-1v1m2-1v1m1-1v1m1-1v1m1-1v1m13-1v1m1-1v1m4-1v1m1-1v1m5-1v1m5-1v1m1-1v1m25-1v1m9-1v1m18-1v1m2-1v1m18-1v1m4-1v1m8-1v1m2-1v1m6-1v1m62-1v1m1-1v1m6-1v1m9-1v1m19-1v1m1-1v1m9-1v1m1-1v1m60-1v1m10-1v1m7-1v1m11-1v1m6-1v1m31-1v1m22-1v1m1-1v1m9-1v1m2-1v1m8-1v1m6-1v1m4-1v1m7-1v1m16-1v1m6-1v1m14-1v1m5-1v1m4-1v1m2-1v1m21-1v1m12-1v1m33-1v1m6-1v1"/><path opacity="1.00" d="M9 0v1m1-1v1m12-1v1m10-1v1m5-1v1m5-1v1m21-1v1m1-1v1m10-1v1m17-1v1m13-1v1m1-1v1m31-1v1m2-1v1m1-1v1m1-1v1m1-1v1m8-1v1m39-1v1m1-1v1m23-1v1m26-1v1m5-1v1m15-1v1m13-1v1m4-1v1m55-1v1m1-1v1m28-1v1m26-1v1m1-1v1m7-1v1m15-1v1m1-1v1m5-1v1m12-1v1m1-1v1m1-1v1m2-1v1m1-1v1m1-1v1m1-1v1m6-1v1m9-1v1m24-1v1m28-1v1m15-1v1m7-1v1m24-1v1m2-1v1m1-1v1m7-1v1m3-1v1m27-1v1m13-1v1m25-1v1m29-1v1m9-1v1m2-1v1m2-1v1m43-1v1m9-1v1m3-1v1m13-1v1m21-1v1m1-1v1m1-1v1m68-1v1m1-1v1m1-1v1m1-1v1m4-1v1m45-1v1m12-1v1m2-1v1m28-1v1m57-1v1m1-1v1m17-1v1m11-1v1m11-1v1m12-1v1m32-1v1m27-1v1m27-1v1m1-1v1m1-1v1m11-1v1m4-1v1m6-1v1m2-1v1m27-1v1m19-1v1m12-1v1m11-1v1m4-1v1m7-1v1m1-1v1m4-1v1m18-1v1m49-1v1m23-1v1m1-1v1m12-1v1m6-1v1m16-1v1m11-1v1m30-1v1m9-1v1m18-1v1m1-1v1m13-1v1m6-1v1m1-1v1m2-1v1m1-1v1m1-1v1m23-1v1m2-1v1m4-1v1"/></g>
<g id="k4" stroke="currentColor" transform="translate(.5)"><path opacity="0.22" d="M4 0v1m3-1v1m19-1v1m20-1v1m7-1v1m7-1v1m42-1v1m32-1v1m2-1v1m4-1v1m9-1v1m6-1v1m1-1v1m4-1v1m62-1v1m8-1v1m39-1v1m3-1v1m2-1v1m1-1v1m15-1v1m3-1v1m1-1v1m4-1v1m44-1v1m13-1v1m1-1v1m11-1v1m73-1v1m24-1v1m9-1v1m7-1v1m6-1v1m30-1v1m12-1v1m51-1v1m17-1v1m19-1v1m62-1v1m11-1v1m5-1v1m3-1v1m9-1v1m3-1v1m26-1v1m12-1v1m4-1v1m28-1v1m1-1v1m13-1v1m3-1v1m1-1v1m44-1v1m1-1v1m10-1v1m79-1v1m1-1v1m55-1v1m4-1v1m5-1v1m35-1v1m36-1v1m16-1v1m71-1v1m88-1v1m4-1v1m16-1v1m1-1v1m5-1v1m29-1v1m7-1v1m1-1v1m102-1v1m27-1v1"/><path opacity="0.42" d="M2 0v1m6-1v1m5-1v1m32-1v1m39-1v1m2-1v1m14-1v1m32-1v1m27-1v1m18-1v1m42-1v1m9-1v1m1-1v1m3-1v1m4-1v1m7-1v1m8-1v1m17-1v1m21-1v1m10-1v1m10-1v1m8-1v1m5-1v1m12-1v1m3-1v1m32-1v1m1-1v1m3-1v1m8-1v1m1-1v1m1-1v1m147-1v1m3-1v1m32-1v1m5-1v1m8-1v1m17-1v1m2-1v1m4-1v1m20-1v1m8-1v1m15-1v1m28-1v1m37-1v1m1-1v1m1-1v1m4-1v1m7-1v1m13-1v1m10-1v1m82-1v1m3-1v1m1-1v1m5-1v1m9-1v1m1-1v1m17-1v1m3-1v1m47-1v1m14-1v1m6-1v1m1-1v1m5-1v1m14-1v1m49-1v1m6-1v1m21-1v1m12-1v1m20-1v1m14-1v1m2-1v1m4-1v1m4-1v1m9-1v1m4-1v1m17-1v1m2-1v1m1-1v1m2-1v1m11-1v1m1-1v1m1-1v1m11-1v1m35-1v1m20-1v1m1-1v1m6-1v1m5-1v1m4-1v1m16-1v1m6-1v1m16-1v1m16-1v1m4-1v1m15-1v1m6-1v1m1-1v1m2-1v1m38-1v1m19-1v1m19-1v1m31-1v1m1-1v1m3-1v1m18-1v1m53-1v1m1-1v1"/><path opacity="0.62" d="M11 0v1m19-1v1m1-1v1m1-1v1m3-1v1m6-1v1m6-1v1m12-1v1m21-1v1m1-1v1m8-1v1m4-1v1m11-1v1m26-1v1m24-1v1m10-1v1m17-1v1m3-1v1m9-1v1m5-1v1m5-1v1m23-1v1m1-1v1m26-1v1m20-1v1m12-1v1m17-1v1m1-1v1m1-1v1m9-1v1m32-1v1m16-1v1m1-1v1m3-1v1m26-1v1m2-1v1m23-1v1m16-1v1m19-1v1m50-1v1m1-1v1m5-1v1m10-1v1m3-1v1m2-1v1m7-1v1m12-1v1m36-1v1m5-1v1m4-1v1m2-1v1m12-1v1m3-1v1m11-1v1m28-1v1m16-1v1m9-1v1m6-1v1m43-1v1m1-1v1m2-1v1m18-1v1m1-1v1m2-1v1m53-1v1m23-1v1m6-1v1m2-1v1m2-1v1m2-1v1m1-1v1m63-1v1m4-1v1m3-1v1m12-1v1m1-1v1m30-1v1m14-1v1m1-1v1m16-1v1m3-1v1m20-1v1m2-1v1m7-1v1m37-1v1m8-1v1m7-1v1m17-1v1m2-1v1m34-1v1m6-1v1m42-1v1m2-1v1m2-1v1m7-1v1m14-1v1m8-1v1m1-1v1m15-1v1m23-1v1m21-1v1m24-1v1m16-1v1m34-1v1m8-1v1m4-1v1m21-1v1m12-1v1m43-1v1m10-1v1m18-1v1m2-1v1m2-1v1m14-1v1"/><path opacity="0.82" d="M27 0v1m6-1v1m10-1v1m1-1v1m25-1v1m1-1v1m1-1v1m17-1v1m9-1v1m15-1v1m7-1v1m1-1v1m2-1v1m9-1v1m10-1v1m24-1v1m7-1v1m8-1v1m15-1v1m16-1v1m49-1v1m2-1v1m21-1v1m3-1v1m1-1v1m9-1v1m23-1v1m20-1v1m7-1v1m13-1v1m7-1v1m18-1v1m3-1v1m5-1v1m8-1v1m21-1v1m22-1v1m10-1v1m18-1v1m29-1v1m48-1v1m9-1v1m5-1v1m1-1v1m3-1v1m28-1v1m11-1v1m18-1v1m4-1v1m6-1v1m1-1v1m25-1v1m5-1v1m27-1v1m15-1v1m24-1v1m1-1v1m1-1v1m11-1v1m6-1v1m7-1v1m9-1v1m4-1v1m21-1v1m11-1v1m1-1v1m32-1v1m23-1v1m15-1v1m5-1v1m14-1v1m9-1v1m26-1v1m6-1v1m20-1v1m2-1v1m34-1v1m47-1v1m2-1v1m2-1v1m8-1v1m7-1v1m8-1v1m24-1v1m11-1v1m4-1v1m8-1v1m2-1v1m34-1v1m7-1v1m11-1v1m24-1v1m1-1v1m25-1v1m8-1v1m3-1v1m3-1v1m12-1v1m4-1v1m7-1v1m13-1v1m16-1v1m3-1v1m1-1v1m1-1v1m2-1v1m13-1v1m25-1v1m8-1v1m2-1v1m23-1v1m12-1v1m16-1v1m6-1v1m3-1v1m1-1v1m7-1v1m9-1v1m1-1v1m4-1v1m1-1v1m1-1v1m1-1v1m11-1v1m7-1v1m13-1v1m15-1v1m6-1v1m4-1v1m3-1v1"/><path opacity="1.00" d="M50 0v1m33-1v1m25-1v1m7-1v1m3-1v1m9-1v1m43-1v1m9-1v1m4-1v1m4-1v1m1-1v1m8-1v1m1-1v1m5-1v1m8-1v1m2-1v1m1-1v1m8-1v1m17-1v1m12-1v1m5-1v1m1-1v1m5-1v1m17-1v1m37-1v1m32-1v1m24-1v1m3-1v1m1-1v1m69-1v1m5-1v1m6-1v1m7-1v1m7-1v1m1-1v1m7-1v1m6-1v1m5-1v1m1-1v1m23-1v1m1-1v1m19-1v1m5-1v1m12-1v1m1-1v1m8-1v1m6-1v1m8-1v1m12-1v1m5-1v1m1-1v1m8-1v1m41-1v1m21-1v1m2-1v1m58-1v1m33-1v1m19-1v1m1-1v1m2-1v1m23-1v1m1-1v1m13-1v1m46-1v1m13-1v1m2-1v1m12-1v1m5-1v1m14-1v1m1-1v1m1-1v1m1-1v1m7-1v1m11-1v1m21-1v1m1-1v1m3-1v1m5-1v1m63-1v1m31-1v1m3-1v1m4-1v1m52-1v1m4-1v1m38-1v1m7-1v1m11-1v1m40-1v1m17-1v1m1-1v1m21-1v1m1-1v1m1-1v1m19-1v1m12-1v1m28-1v1m9-1v1m6-1v1m15-1v1m1-1v1m1-1v1m7-1v1m1-1v1m1-1v1m2-1v1m1-1v1m32-1v1m3-1v1m12-1v1m23-1v1m12-1v1m18-1v1m29-1v1m1-1v1m7-1v1"/></g>
<g id="k5" stroke="currentColor" transform="translate(.5)"><path opacity="0.22" d="M6 0v1m9-1v1m3-1v1m1-1v1m23-1v1m1-1v1m12-1v1m11-1v1m21-1v1m8-1v1m46-1v1m1-1v1m20-1v1m14-1v1m1-1v1m3-1v1m63-1v1m14-1v1m6-1v1m94-1v1m18-1v1m37-1v1m37-1v1m137-1v1m26-1v1m50-1v1m48-1v1m9-1v1m1-1v1m9-1v1m23-1v1m1-1v1m1-1v1m2-1v1m1-1v1m21-1v1m61-1v1m1-1v1m24-1v1m12-1v1m1-1v1m9-1v1m28-1v1m31-1v1m6-1v1m18-1v1m37-1v1m11-1v1m33-1v1m1-1v1m21-1v1m9-1v1m1-1v1m30-1v1m33-1v1m4-1v1m1-1v1m35-1v1m10-1v1m25-1v1m41-1v1m30-1v1m1-1v1m9-1v1m2-1v1m1-1v1m34-1v1m1-1v1m6-1v1m1-1v1m7-1v1m14-1v1m5-1v1m46-1v1m26-1v1"/><path opacity="0.42" d="M12 0v1m21-1v1m5-1v1m2-1v1m1-1v1m4-1v1m20-1v1m12-1v1m4-1v1m13-1v1m30-1v1m35-1v1m29-1v1m11-1v1m6-1v1m10-1v1m3-1v1m19-1v1m10-1v1m22-1v1m12-1v1m25-1v1m21-1v1m25-1v1m9-1v1m7-1v1m23-1v1m16-1v1m1-1v1m28-1v1m15-1v1m2-1v1m37-1v1m19-1v1m19-1v1m45-1v1m15-1v1m1-1v1m1-1v1m3-1v1m11-1v1m38-1v1m43-1v1m19-1v1m2-1v1m20-1v1m11-1v1m14-1v1m33-1v1m6-1v1m35-1v1m1-1v1m12-1v1m5-1v1m6-1v1m24-1v1m9-1v1m5-1v1m26-1v1m5-1v1m3-1v1m13-1v1m16-1v1m2-1v1m11-1v1m16-1v1m6-1v1m3-1v1m22-1v1m9-1v1m3-1v1m39-1v1m4-1v1m1-1v1m38-1v1m7-1v1m9-1v1m13-1v1m22-1v1m1-1v1m7-1v1m2-1v1m13-1v1m1-1v1m4-1v1m11-1v1m13-1v1m14-1v1m8-1v1m14-1v1m1-1v1m13-1v1m2-1v1m10-1v1m3-1v1m23-1v1m5-1v1m6-1v1m8-1v1m1-1v1m41-1v1m2-1v1m22-1v1m1-1v1m1-1v1m2-1v1m1-1v1m8-1v1m4-1v1m10-1v1m1-1v1m47-1v1m18-1v1m1-1v1"/><path opacity="0.62" d="M5 0v1m22-1v1m8-1v1m4-1v1m7-1v1m6-1v1m5-1v1m5-1v1m6-1v1m1-1v1m6-1v1m1-1v1m39-1v1m2-1v1m1-1v1m5-1v1m4-1v1m56-1v1m2-1v1m1-1v1m11-1v1m3-1v1m3-1v1m1-1v1m6-1v1m2-1v1m4-1v1m1-1v1m11-1v1m18-1v1m12-1v1m1-1v1m14-1v1m1-1v1m22-1v1m27-1v1m3-1v1m13-1v1m1-1v1m27-1v1m9-1v1m1-1v1m17-1v1m1-1v1m11-1v1m25-1v1m6-1v1m5-1v1m10-1v1m10-1v1m1-1v1m22-1v1m27-1v1m17-1v1m9-1v1m3-1v1m1-1v1m20-1v1m18-1v1m2-1v1m5-1v1m4-1v1m3-1v1m13-1v1m9-1v1m9-1v1m1-1v1m67-1v1m8-1v1m4-1v1m4-1v1m26-1v1m4-1v1m3-1v1m1-1v1m1-1v1m11-1v1m7-1v1m1-1v1m25-1v1m1-1v1m25-1v1m5-1v1m8-1v1m18-1v1m5-1v1m1-1v1m9-1v1m2-1v1m6-1v1m13-1v1m4-1v1m11-1v1m5-1v1m1-1v1m3-1v1m2-1v1m13-1v1m11-1v1m1-1v1m5-1v1m9-1v1m19-1v1m1-1v1m5-1v1m1-1v1m4-1v1m10-1v1m1-1v1m14-1v1m10-1v1m3-1v1m1-1v1m33-1v1m5-1v1m17-1v1m16-1v1m5-1v1m8-1v1m11-1v1m7-1v1m5-1v1m12-1v1m1-1v1m12-1v1m11-1v1m3-1v1m9-1v1m1-1v1m25-1v1m1-1v1m3-1v1m1-1v1m1-1v1m1-1v1m1-1v1m2-1v1m2-1v1m1-1v1m18-1v1m1-1v1m12-1v1m31-1v1m9-1v1m8-1v1m1-1v1m9-1v1m15-1v1m10-1v1m11-1v1m1-1v1m8-1v1m6-1v1m15-1v1m1-1v1m1-1v1m12-1v1m5-1v1m3-1v1m6-1v1m2-1v1m6-1v1m40-1v1m19-1v1m1-1v1m1-1v1m6-1v1m10-1v1m6-1v1"/><path opacity="0.82" d="M1 0v1m1-1v1m2-1v1m33-1v1m17-1v1m18-1v1m8-1v1m4-1v1m1-1v1m25-1v1m2-1v1m20-1v1m22-1v1m1-1v1m19-1v1m13-1v1m2-1v1m34-1v1m1-1v1m2-1v1m7-1v1m1-1v1m15-1v1m2-1v1m21-1v1m13-1v1m4-1v1m8-1v1m10-1v1m9-1v1m12-1v1m34-1v1m17-1v1m2-1v1m16-1v1m2-1v1m2-1v1m9-1v1m10-1v1m7-1v1m14-1v1m2-1v1m18-1v1m18-1v1m5-1v1m12-1v1m5-1v1m1-1v1m4-1v1m4-1v1m1-1v1m13-1v1m8-1v1m1-1v1m2-1v1m5-1v1m4-1v1m10-1v1m2-1v1m5-1v1m2-1v1m8-1v1m1-1v1m9-1v1m18-1v1m1-1v1m6-1v1m7-1v1m5-1v1m2-1v1m4-1v1m10-1v1m4-1v1m1-1v1m14-1v1m18-1v1m16-1v1m7-1v1m8-1v1m6-1v1m10-1v1m12-1v1m6-1v1m4-1v1m1-1v1m57-1v1m4-1v1m50-1v1m1-1v1m5-1v1m31-1v1m3-1v1m1-1v1m1-1v1m33-1v1m6-1v1m5-1v1m10-1v1m11-1v1m8-1v1m22-1v1m1-1v1m1-1v1m37-1v1m1-1v1m2-1v1m3-1v1m9-1v1m3-1v1m10-1v1m20-1v1m9-1v1m2-1v1m18-1v1m13-1v1m22-1v1m1-1v1m2-1v1m17-1v1m6-1v1m8-1v1m10-1v1m3-1v1m30-1v1m61-1v1m1-1v1m20-1v1m8-1v1m4-1v1m48-1v1m15-1v1m2-1v1m11-1v1m2-1v1m25-1v1m1-1v1m2-1v1m13-1v1m9-1v1m3-1v1m4-1v1m1-1v1m33-1v1m1-1v1"/><path opacity="1.00" d="M17 0v1m12-1v1m1-1v1m34-1v1m14-1v1m19-1v1m3-1v1m3-1v1m8-1v1m26-1v1m19-1v1m15-1v1m4-1v1m16-1v1m1-1v1m3-1v1m1-1v1m75-1v1m7-1v1m39-1v1m7-1v1m22-1v1m4-1v1m13-1v1m37-1v1m9-1v1m14-1v1m7-1v1m2-1v1m2-1v1m1-1v1m9-1v1m1-1v1m86-1v1m18-1v1m10-1v1m1-1v1m25-1v1m26-1v1m10-1v1m23-1v1m1-1v1m18-1v1m25-1v1m109-1v1m9-1v1m23-1v1m1-1v1m29-1v1m67-1v1m35-1v1m16-1v1m4-1v1m13-1v1m4-1v1m10-1v1m19-1v1m30-1v1m1-1v1m5-1v1m11-1v1m1-1v1m38-1v1m39-1v1m2-1v1m19-1v1m2-1v1m1-1v1m12-1v1m77-1v1m1-1v1m11-1v1m16-1v1m54-1v1m13-1v1m13-1v1m15-1v1m39-1v1m1-1v1m47-1v1m10-1v1m2-1v1"/></g>
<g id="l0" stroke="currentColor" transform="translate(.5)"><path opacity="0.22" d="M24 0v1m6-1v1m16-1v1m7-1v1m14-1v1m8-1v1m13-1v1m3-1v1m1-1v1m1-1v1m25-1v1m7-1v1m13-1v1m37-1v1m23-1v1m28-1v1m8-1v1m11-1v1m7-1v1m37-1v1m1-1v1m1-1v1m8-1v1m8-1v1m1-1v1m20-1v1m2-1v1m1-1v1m2-1v1m20-1v1m11-1v1m1-1v1m1-1v1m8-1v1m2-1v1m3-1v1m1-1v1m18-1v1m29-1v1m4-1v1m7-1v1m16-1v1m3-1v1m8-1v1m45-1v1m2-1v1m8-1v1m2-1v1m16-1v1m46-1v1m23-1v1m4-1v1m1-1v1m3-1v1m15-1v1m21-1v1m1-1v1m8-1v1m5-1v1m13-1v1m19-1v1m3-1v1m1-1v1m1-1v1m30-1v1m14-1v1m1-1v1m1-1v1m9-1v1m1-1v1m2-1v1m7-1v1m1-1v1m4-1v1m9-1v1m21-1v1m2-1v1m1-1v1m6-1v1m21-1v1m15-1v1m18-1v1m1-1v1m1-1v1m23-1v1m1-1v1m6-1v1m4-1v1m10-1v1m2-1v1m33-1v1m4-1v1m1-1v1m13-1v1m20-1v1m1-1v1m8-1v1m39-1v1m7-1v1m5-1v1m42-1v1m52-1v1m1-1v1m66-1v1m41-1v1m16-1v1m9-1v1m19-1v1m20-1v1m23-1v1m18-1v1m1-1v1m1-1v1m16-1v1m18-1v1m22-1v1m1-1v1m1-1v1m6-1v1m15-1v1m16-1v1m1-1v1m36-1v1"/><path opacity="0.42" d="M8 0v1m27-1v1m14-1v1m15-1v1m60-1v1m24-1v1m9-1v1m64-1v1m14-1v1m16-1v1m8-1v1m4-1v1m4-1v1m5-1v1m7-1v1m2-1v1m46-1v1m5-1v1m4-1v1m10-1v1m10-1v1m37-1v1m10-1v1m26-1v1m11-1v1m22-1v1m6-1v1m7-1v1m8-1v1m4-1v1m2-1v1m13-1v1m2-1v1m29-1v1m22-1v1m2-1v1m28-1v1m1-1v1m58-1v1m18-1v1m1-1v1m21-1v1m46-1v1m5-1v1m6-1v1m11-1v1m1-1v1m2-1v1m31-1v1m23-1v1m24-1v1m6-1v1m10-1v1m11-1v1m3-1v1m49-1v1m4-1v1m7-1v1m11-1v1m3-1v1m2-1v1m13-1v1m11-1v1m11-1v1m13-1v1m9-1v1m1-1v1m15-1v1m5-1v1m5-1v1m1-1v1m18-1v1m21-1v1m2-1v1m3-1v1m5-1v1m4-1v1m11-1v1m29-1v1m36-1v1m4-1v1m7-1v1m14-1v1m7-1v1m1-1v1m13-1v1m2-1v1m4-1v1m27-1v1m13-1v1m16-1v1m26-1v1m10-1v1m33-1v1m2-1v1m35-1v1m59-1v1m43-1v1m18-1v1"/><path opacity="0.62" d="M15 0v1m1-1v1m5-1v1m23-1v1m4-1v1m11-1v1m31-1v1m25-1v1m2-1v1m12-1v1m25-1v1m40-1v1m22-1v1m14-1v1m8-1v1m39-1v1m3-1v1m17-1v1m6-1v1m21-1v1m14-1v1m1-1v1m2-1v1m18-1v1m1-1v1m12-1v1m3-1v1m9-1v1m20-1v1m2-1v1m16-1v1m19-1v1m2-1v1m2-1v1m35-1v1m1-1v1m19-1v1m1-1v1m2-1v1m13-1v1m35-1v1m25-1v1m5-1v1m17-1v1m23-1v1m15-1v1m2-1v1m72-1v1m12-1v1m27-1v1m5-1v1m45-1v1m7-1v1m9-1v1m1-1v1m1-1v1m3-1v1m1-1v1m1-1v1m12-1v1m8-1v1m15-1v1m16-1v1m1-1v1m1-1v1m10-1v1m14-1v1m22-1v1m17-1v1m7-1v1m27-1v1m3-1v1m5-1v1m21-1v1m23-1v1m32-1v1m12-1v1m6-1v1m24-1v1m2-1v1m19-1v1m27-1v1m11-1v1m5-1v1m7-1v1m17-1v1m43-1v1m9-1v1m30-1v1m35-1v1m1-1v1m1-1v1m55-1v1m2-1v1m5-1v1m24-1v1m1-1v1m61-1v1m7-1v1m7-1v1m20-1v1"/><path opacity="0.82" d="M39 0v1m48-1v1m27-1v1m6-1v1m136-1v1m14-1v1m1-1v1m13-1v1m61-1v1m65-1v1m25-1v1m17-1v1m30-1v1m57-1v1m30-1v1m26-1v1m5-1v1m39-1v1m1-1v1m36-1v1m31-1v1m62-1v1m1-1v1m106-1v1m5-1v1m92-1v1m29-1v1m9-1v1m14-1v1m1-1v1m49-1v1m2-1v1m1-1v1m21-1v1m69-1v1m3-1v1m41-1v1m1-1v1m21-1v1m5-1v1m30-1v1m7-1v1m22-1v1m8-1v1m13-1v1m24-1v1m12-1v1m20-1v1m1-1v1m25-1v1m19-1v1m32-1v1m2-1v1m5-1v1m18-1v1m13-1v1"/><path opacity="1.00" d="M54 0v1m133-1v1m44-1v1m169-1v1m7-1v1m107-1v1m68-1v1m1-1v1m16-1v1m10-1v1m1-1v1m39-1v1m57-1v1m155-1v1m26-1v1m1-1v1m106-1v1m25-1v1m123-1v1m3-1v1m27-1v1m11-1v1m53-1v1m22-1v1m86-1v1m77-1v1m2-1v1m1-1v1m5-1v1m2-1v1"/></g>
<g id="l1" stroke="currentColor" transform="translate(.5)"><path opacity="0.22" d="M3 0v1m37-1v1m5-1v1m51-1v1m8-1v1m22-1v1m3-1v1m9-1v1m18-1v1m6-1v1m20-1v1m4-1v1m23-1v1m2-1v1m1-1v1m14-1v1m3-1v1m15-1v1m4-1v1m12-1v1m1-1v1m8-1v1m31-1v1m13-1v1m7-1v1m2-1v1m60-1v1m10-1v1m10-1v1m5-1v1m2-1v1m10-1v1m6-1v1m9-1v1m23-1v1m1-1v1m14-1v1m4-1v1m1-1v1m10-1v1m1-1v1m5-1v1m9-1v1m4-1v1m2-1v1m3-1v1m39-1v1m20-1v1m3-1v1m4-1v1m5-1v1m4-1v1m15-1v1m20-1v1m13-1v1m3-1v1m9-1v1m33-1v1m2-1v1m2-1v1m1-1v1m5-1v1m8-1v1m5-1v1m1-1v1m21-1v1m6-1v1m31-1v1m9-1v1m1-1v1m14-1v1m38-1v1m1-1v1m3-1v1m1-1v1m1-1v1m20-1v1m12-1v1m6-1v1m1-1v1m37-1v1m14-1v1m33-1v1m6-1v1m60-1v1m1-1v1m5-1v1m39-1v1m19-1v1m1-1v1m4-1v1m1-1v1m4-1v1m6-1v1m4-1v1m10-1v1m34-1v1m44-1v1m8-1v1m1-1v1m8-1v1m5-1v1m1-1v1m43-1v1m2-1v1m2-1v1m7-1v1m7-1v1m36-1v1m1-1v1m3-1v1m11-1v1m13-1v1m1-1v1m12-1v1m15-1v1m24-1v1m14-1v1m1-1v1m5-1v1m71-1v1m9-1v1"/><path opacity="0.42" d="M4 0v1m50-1v1m2-1v1m17-1v1m2-1v1m14-1v1m6-1v1m37-1v1m21-1v1m1-1v1m23-1v1m1-1v1m10-1v1m35-1v1m9-1v1m10-1v1m5-1v1m4-1v1m1-1v1m12-1v1m18-1v1m10-1v1m13-1v1m1-1v1m2-1v1m13-1v1m3-1v1m15-1v1m26-1v1m1-1v1m2-1v1m2-1v1m1-1v1m16-1v1m2-1v1m1-1v1m1-1v1m9-1v1m3-1v1m8-1v1m4-1v1m11-1v1m14-1v1m4-1v1m15-1v1m4-1v1m72-1v1m39-1v1m46-1v1m3-1v1m13-1v1m55-1v1m1-1v1m25-1v1m6-1v1m5-1v1m1-1v1m5-1v1m46-1v1m6-1v1m4-1v1m6-1v1m5-1v1m2-1v1m6-1v1m44-1v1m12-1v1m9-1v1m6-1v1m10-1v1m8-1v1m4-1v1m7-1v1m8-1v1m14-1v1m19-1v1m9-1v1m3-1v1m1-1v1m1-1v1m6-1v1m3-1v1m1-1v1m12-1v1m23-1v1m6-1v1m21-1v1m30-1v1m42-1v1m7-1v1m1-1v1m63-1v1m49-1v1m12-1v1m4-1v1m5-1v1m6-1v1m46-1v1m17-1v1m28-1v1m18-1v1m7-1v1m1-1v1m2-1v1m1-1v1m8-1v1m1-1v1m2-1v1m1-1v1m5-1v1m1-1v1m9-1v1m10-1v1m67-1v1m9-1v1"/><path opacity="0.62" d="M2 0v1m7-1v1m5-1v1m56-1v1m4-1v1m20-1v1m25-1v1m31-1v1m2-1v1m12-1v1m3-1v1m12-1v1m39-1v1m69-1v1m9-1v1m22-1v1m41-1v1m14-1v1m32-1v1m9-1v1m23-1v1m8-1v1m1-1v1m25-1v1m52-1v1m26-1v1m30-1v1m10-1v1m1-1v1m1-1v1m1-1v1m50-1v1m1-1v1m26-1v1m2-1v1m40-1v1m2-1v1m30-1v1m2-1v1m5-1v1m10-1v1m22-1v1m17-1v1m1-1v1m2-1v1m44-1v1m18-1v1m31-1v1m13-1v1m49-1v1m30-1v1m36-1v1m30-1v1m3-1v1m16-1v1m31-1v1m3-1v1m4-1v1m7-1v1m10-1v1m7-1v1m17-1v1m3-1v1m56-1v1m71-1v1m21-1v1m30-1v1m4-1v1m49-1v1m10-1v1m18-1v1m1-1v1m26-1v1m2-1v1m16-1v1m10-1v1m18-1v1"/><path opacity="0.82" d="M5 0v1m66-1v1m7-1v1m5-1v1m1-1v1m16-1v1m2-1v1m12-1v1m26-1v1m1-1v1m10-1v1m7-1v1m1-1v1m1-1v1m144-1v1m23-1v1m1-1v1m113-1v1m25-1v1m18-1v1m8-1v1m32-1v1m37-1v1m1-1v1m18-1v1m23-1v1m2-1v1m27-1v1m8-1v1m20-1v1m4-1v1m46-1v1m17-1v1m20-1v1m21-1v1m70-1v1m25-1v1m9-1v1m14-1v1m26-1v1m13-1v1m63-1v1m39-1v1m30-1v1m14-1v1m58-1v1m11-1v1m2-1v1m8-1v1m44-1v1m1-1v1m16-1v1m18-1v1m4-1v1m42-1v1m33-1v1m14-1v1m54-1v1m65-1v1m15-1v1"/><path opacity="1.00" d="M23 0v1m46-1v1m10-1v1m57-1v1m21-1v1m110-1v1m13-1v1m19-1v1m62-1v1m2-1v1m1-1v1m78-1v1m47-1v1m86-1v1m9-1v1m18-1v1m17-1v1m12-1v1m28-1v1m46-1v1m1-1v1m67-1v1m47-1v1m1-1v1m56-1v1m50-1v1m5-1v1m8-1v1m174-1v1m14-1v1m2-1v1m11-1v1m121-1v1m136-1v1m1-1v1m38-1v1m6-1v1m31-1v1"/></g>
<g id="l2" stroke="currentColor" transform="translate(.5)"><path opacity="0.22" d="M12 0v1m56-1v1m61-1v1m21-1v1m13-1v1m19-1v1m3-1v1m3-1v1m3-1v1m1-1v1m1-1v1m1-1v1m15-1v1m5-1v1m1-1v1m16-1v1m4-1v1m13-1v1m13-1v1m2-1v1m7-1v1m1-1v1m14-1v1m40-1v1m10-1v1m2-1v1m1-1v1m2-1v1m1-1v1m1-1v1m1-1v1m5-1v1m10-1v1m1-1v1m40-1v1m32-1v1m1-1v1m19-1v1m11-1v1m1-1v1m21-1v1m29-1v1m17-1v1m26-1v1m8-1v1m10-1v1m24-1v1m1-1v1m7-1v1m13-1v1m2-1v1m1-1v1m20-1v1m2-1v1m3-1v1m18-1v1m8-1v1m1-1v1m15-1v1m13-1v1m1-1v1m1-1v1m2-1v1m16-1v1m15-1v1m5-1v1m19-1v1m4-1v1m39-1v1m15-1v1m10-1v1m7-1v1m6-1v1m6-1v1m33-1v1m4-1v1m4-1v1m2-1v1m6-1v1m1-1v1m9-1v1m8-1v1m20-1v1m4-1v1m36-1v1m1-1v1m1-1v1m3-1v1m6-1v1m1-1v1m12-1v1m26-1v1m5-1v1m30-1v1m3-1v1m10-1v1m7-1v1m9-1v1m1-1v1m24-1v1m9-1v1m12-1v1m7-1v1m48-1v1m3-1v1m4-1v1m1-1v1m1-1v1m29-1v1m15-1v1m3-1v1m24-1v1m12-1v1m5-1v1m6-1v1m7-1v1m18-1v1m16-1v1m52-1v1m1-1v1m18-1v1m7-1v1m13-1v1m21-1v1m3-1v1m18-1v1m7-1v1m1-1v1m1-1v1"/><path opacity="0.42" d="M0 0v1m18-1v1m5-1v1m33-1v1m4-1v1m24-1v1m5-1v1m1-1v1m11-1v1m3-1v1m2-1v1m31-1v1m22-1v1m3-1v1m11-1v1m11-1v1m27-1v1m2-1v1m4-1v1m3-1v1m20-1v1m22-1v1m10-1v1m6-1v1m4-1v1m5-1v1m32-1v1m1-1v1m14-1v1m16-1v1m14-1v1m23-1v1m11-1v1m28-1v1m15-1v1m1-1v1m18-1v1m23-1v1m20-1v1m4-1v1m5-1v1m3-1v1m3-1v1m23-1v1m1-1v1m16-1v1m2-1v1m3-1v1m24-1v1m6-1v1m9-1v1m15-1v1m6-1v1m18-1v1m14-1v1m1-1v1m6-1v1m1-1v1m27-1v1m18-1v1m12-1v1m26-1v1m25-1v1m1-1v1m1-1v1m2-1v1m2-1v1m1-1v1m2-1v1m12-1v1m9-1v1m27-1v1m2-1v1m2-1v1m11-1v1m2-1v1m2-1v1m9-1v1m7-1v1m29-1v1m21-1v1m7-1v1m14-1v1m9-1v1m9-1v1m20-1v1m17-1v1m16-1v1m11-1v1m5-1v1m6-1v1m4-1v1m31-1v1m2-1v1m21-1v1m2-1v1m19-1v1m7-1v1m3-1v1m3-1v1m13-1v1m1-1v1m44-1v1m2-1v1m10-1v1m44-1v1m20-1v1m3-1v1m39-1v1m1-1v1m16-1v1m4-1v1m1-1v1m28-1v1m40-1v1m4-1v1m2-1v1m1-1v1m25-1v1m4-1v1m5-1v1m2-1v1m22-1v1m3-1v1m4-1v1"/><path opacity="0.62" d="M7 0v1m2-1v1m1-1v1m9-1v1m47-1v1m46-1v1m1-1v1m1-1v1m27-1v1m3-1v1m10-1v1m3-1v1m22-1v1m33-1v1m10-1v1m6-1v1m21-1v1m40-1v1m8-1v1m9-1v1m22-1v1m23-1v1m5-1v1m7-1v1m23-1v1m6-1v1m22-1v1m91-1v1m43-1v1m23-1v1m39-1v1m21-1v1m23-1v1m3-1v1m3-1v1m4-1v1m3-1v1m1-1v1m111-1v1m3-1v1m43-1v1m50-1v1m117-1v1m26-1v1m18-1v1m119-1v1m8-1v1m28-1v1m10-1v1m18-1v1m4-1v1m16-1v1m18-1v1m67-1v1m3-1v1m2-1v1m20-1v1m8-1v1m45-1v1m13-1v1m1-1v1m19-1v1m6-1v1m49-1v1"/><path opacity="0.82" d="M21 0v1m3-1v1m30-1v1m26-1v1m53-1v1m12-1v1m6-1v1m7-1v1m147-1v1m6-1v1m44-1v1m13-1v1m38-1v1m83-1v1m42-1v1m5-1v1m19-1v1m7-1v1m139-1v1m52-1v1m6-1v1m65-1v1m9-1v1m19-1v1m115-1v1m70-1v1m1-1v1m12-1v1m18-1v1m28-1v1m7-1v1m23-1v1m15-1v1m4-1v1m15-1v1m23-1v1m17-1v1m2-1v1m11-1v1m4-1v1m1-1v1m105-1v1m14-1v1m25-1v1m61-1v1m1-1v1m16-1v1m2-1v1m35-1v1m1-1v1"/><path opacity="1.00" d="M22 0v1m28-1v1m13-1v1m71-1v1m12-1v1m2-1v1m23-1v1m66-1v1m23-1v1m290-1v1m18-1v1m71-1v1m68-1v1m4-1v1m52-1v1m91-1v1m1-1v1m31-1v1m1-1v1m1-1v1m13-1v1m107-1v1m33-1v1m54-1v1m2-1v1m1-1v1m33-1v1m33-1v1m20-1v1m21-1v1m81-1v1m35-1v1m58-1v1m102-1v1m1-1v1m7-1v1"/></g>
<g id="l3" stroke="currentColor" transform="translate(.5)"><path opacity="0.22" d="M2 0v1m18-1v1m3-1v1m11-1v1m7-1v1m19-1v1m47-1v1m1-1v1m1-1v1m1-1v1m6-1v1m1-1v1m14-1v1m4-1v1m7-1v1m2-1v1m1-1v1m17-1v1m1-1v1m13-1v1m15-1v1m13-1v1m1-1v1m8-1v1m1-1v1m31-1v1m20-1v1m36-1v1m10-1v1m9-1v1m1-1v1m33-1v1m8-1v1m56-1v1m21-1v1m5-1v1m7-1v1m1-1v1m41-1v1m10-1v1m3-1v1m2-1v1m22-1v1m12-1v1m3-1v1m9-1v1m1-1v1m5-1v1m1-1v1m16-1v1m7-1v1m31-1v1m28-1v1m2-1v1m13-1v1m1-1v1m6-1v1m7-1v1m1-1v1m6-1v1m1-1v1m10-1v1m16-1v1m19-1v1m9-1v1m1-1v1m17-1v1m11-1v1m48-1v1m9-1v1m7-1v1m12-1v1m10-1v1m8-1v1m40-1v1m35-1v1m8-1v1m5-1v1m9-1v1m3-1v1m40-1v1m15-1v1m2-1v1m32-1v1m6-1v1m5-1v1m6-1v1m31-1v1m1-1v1m35-1v1m5-1v1m5-1v1m27-1v1m13-1v1m13-1v1m3-1v1m6-1v1m1-1v1m6-1v1m3-1v1m18-1v1m10-1v1m53-1v1m5-1v1m8-1v1m36-1v1m7-1v1m14-1v1m1-1v1m10-1v1m7-1v1m1-1v1m4-1v1m5-1v1m1-1v1m52-1v1m8-1v1m14-1v1m1-1v1m5-1v1"/><path opacity="0.42" d="M25 0v1m5-1v1m1-1v1m2-1v1m15-1v1m1-1v1m5-1v1m9-1v1m29-1v1m10-1v1m27-1v1m35-1v1m34-1v1m45-1v1m1-1v1m7-1v1m1-1v1m9-1v1m7-1v1m25-1v1m4-1v1m8-1v1m4-1v1m13-1v1m18-1v1m6-1v1m1-1v1m14-1v1m22-1v1m49-1v1m9-1v1m6-1v1m11-1v1m6-1v1m21-1v1m10-1v1m1-1v1m9-1v1m4-1v1m31-1v1m10-1v1m14-1v1m6-1v1m10-1v1m15-1v1m1-1v1m20-1v1m11-1v1m12-1v1m2-1v1m3-1v1m6-1v1m59-1v1m13-1v1m23-1v1m1-1v1m1-1v1m9-1v1m8-1v1m7-1v1m1-1v1m15-1v1m7-1v1m11-1v1m1-1v1m3-1v1m29-1v1m10-1v1m2-1v1m3-1v1m6-1v1m2-1v1m3-1v1m4-1v1m11-1v1m2-1v1m5-1v1m6-1v1m6-1v1m6-1v1m5-1v1m24-1v1m8-1v1m45-1v1m12-1v1m1-1v1m6-1v1m21-1v1m15-1v1m13-1v1m1-1v1m14-1v1m3-1v1m1-1v1m24-1v1m22-1v1m13-1v1m10-1v1m3-1v1m1-1v1m20-1v1m26-1v1m8-1v1m20-1v1m1-1v1m10-1v1m7-1v1m8-1v1m7-1v1m24-1v1m23-1v1m8-1v1m12-1v1m7-1v1m3-1v1m14-1v1m10-1v1m73-1v1m1-1v1m13-1v1m12-1v1m4-1v1"/><path opacity="0.62" d="M0 0v1m27-1v1m1-1v1m4-1v1m30-1v1m2-1v1m11-1v1m6-1v1m7-1v1m13-1v1m48-1v1m91-1v1m24-1v1m39-1v1m1-1v1m111-1v1m63-1v1m2-1v1m96-1v1m13-1v1m17-1v1m16-1v1m6-1v1m14-1v1m4-1v1m3-1v1m6-1v1m30-1v1m45-1v1m6-1v1m5-1v1m7-1v1m36-1v1m4-1v1m7-1v1m6-1v1m43-1v1m8-1v1m15-1v1m6-1v1m5-1v1m6-1v1m19-1v1m10-1v1m11-1v1m2-1v1m11-1v1m1-1v1m15-1v1m2-1v1m1-1v1m15-1v1m1-1v1m1-1v1m14-1v1m55-1v1m7-1v1m74-1v1m1-1v1m2-1v1m10-1v1m1-1v1m11-1v1m13-1v1m24-1v1m114-1v1m11-1v1m2-1v1m56-1v1m52-1v1m4-1v1m5-1v1m46-1v1m3-1v1m1-1v1m4-1v1m5-1v1"/><path opacity="0.82" d="M86 0v1m8-1v1m31-1v1m48-1v1m126-1v1m37-1v1m2-1v1m5-1v1m1-1v1m30-1v1m25-1v1m2-1v1m1-1v1m5-1v1m10-1v1m43-1v1m268-1v1m1-1v1m8-1v1m12-1v1m1-1v1m141-1v1m23-1v1m34-1v1m4-1v1m56-1v1m21-1v1m35-1v1m45-1v1m60-1v1m75-1v1m10-1v1m1-1v1m17-1v1m19-1v1m40-1v1m9-1v1"/><path opacity="1.00" d="M22 0v1m47-1v1m57-1v1m33-1v1m132-1v1m46-1v1m45-1v1m66-1v1m2-1v1m3-1v1m2-1v1m39-1v1m30-1v1m1-1v1m93-1v1m30-1v1m49-1v1m6-1v1m15-1v1m104-1v1m11-1v1m67-1v1m5-1v1m17-1v1m20-1v1m62-1v1m3-1v1m64-1v1m170-1v1m1-1v1m108-1v1m54-1v1m4-1v1m35-1v1m47-1v1"/></g>
<g id="v0" stroke="currentColor" transform="translate(.5)"><path opacity="0.22" d="M19 0v1m2-1v1m1-1v1m11-1v1m2-1v1m1-1v1m3-1v1m14-1v1m12-1v1m16-1v1m37-1v1m2-1v1m20-1v1m18-1v1m22-1v1m3-1v1m36-1v1m33-1v1m6-1v1m13-1v1m1-1v1m2-1v1m30-1v1m21-1v1m81-1v1m2-1v1m1-1v1m3-1v1m16-1v1m10-1v1m9-1v1m5-1v1m9-1v1m10-1v1m9-1v1m2-1v1m1-1v1m26-1v1m6-1v1m92-1v1m10-1v1m66-1v1m1-1v1m39-1v1m10-1v1m2-1v1m15-1v1m12-1v1m28-1v1m75-1v1m51-1v1m8-1v1m3-1v1m29-1v1m12-1v1m29-1v1m16-1v1m11-1v1m4-1v1m36-1v1m8-1v1m47-1v1m1-1v1m21-1v1m64-1v1m21-1v1m13-1v1m16-1v1m11-1v1m6-1v1m1-1v1m1-1v1m18-1v1m43-1v1m9-1v1m20-1v1m1-1v1m3-1v1m1-1v1m2-1v1m4-1v1m28-1v1m9-1v1m37-1v1m13-1v1m4-1v1"/><path opacity="0.42" d="M44 0v1m4-1v1m20-1v1m66-1v1m7-1v1m57-1v1m7-1v1m18-1v1m80-1v1m75-1v1m1-1v1m4-1v1m30-1v1m3-1v1m53-1v1m16-1v1m2-1v1m1-1v1m16-1v1m10-1v1m8-1v1m32-1v1m1-1v1m1-1v1m9-1v1m17-1v1m3-1v1m33-1v1m47-1v1m1-1v1m44-1v1m12-1v1m26-1v1m1-1v1m21-1v1m4-1v1m1-1v1m5-1v1m4-1v1m1-1v1m38-1v1m41-1v1m2-1v1m29-1v1m45-1v1m1-1v1m17-1v1m1-1v1m8-1v1m8-1v1m61-1v1m9-1v1m65-1v1m137-1v1m28-1v1m8-1v1m8-1v1m14-1v1m14-1v1m27-1v1m16-1v1m14-1v1m12-1v1m1-1v1m2-1v1m2-1v1m1-1v1m1-1v1m42-1v1m1-1v1m3-1v1m2-1v1"/><path opacity="0.62" d="M49 0v1m26-1v1m54-1v1m1-1v1m47-1v1m15-1v1m1-1v1m33-1v1m20-1v1m95-1v1m46-1v1m12-1v1m43-1v1m44-1v1m34-1v1m13-1v1m1-1v1m110-1v1m27-1v1m95-1v1m45-1v1m1-1v1m1-1v1m24-1v1m39-1v1m20-1v1m19-1v1m36-1v1m13-1v1m65-1v1m13-1v1m113-1v1m85-1v1m41-1v1m27-1v1m10-1v1m21-1v1m12-1v1m3-1v1m4-1v1m1-1v1m24-1v1m1-1v1m38-1v1"/><path opacity="0.82" d="M91 0v1m63-1v1m3-1v1m21-1v1m39-1v1m18-1v1m1-1v1m148-1v1m4-1v1m9-1v1m8-1v1m21-1v1m52-1v1m22-1v1m1-1v1m27-1v1m81-1v1m156-1v1m198-1v1m42-1v1m11-1v1m10-1v1m66-1v1m62-1v1m98-1v1m54-1v1m9-1v1m10-1v1m60-1v1m72-1v1"/><path opacity="1.00" d="M123 0v1m64-1v1m1-1v1m2-1v1m147-1v1m55-1v1m1-1v1m1-1v1m4-1v1m629-1v1m214-1v1m12-1v1m35-1v1m167-1v1m22-1v1"/></g>
<g id="v1" stroke="currentColor" transform="translate(.5)"><path opacity="0.22" d="M7 0v1m21-1v1m5-1v1m25-1v1m31-1v1m12-1v1m1-1v1m6-1v1m9-1v1m8-1v1m11-1v1m1-1v1m11-1v1m37-1v1m7-1v1m5-1v1m4-1v1m23-1v1m14-1v1m33-1v1m11-1v1m46-1v1m13-1v1m11-1v1m5-1v1m17-1v1m2-1v1m22-1v1m7-1v1m7-1v1m4-1v1m9-1v1m32-1v1m14-1v1m7-1v1m15-1v1m1-1v1m1-1v1m12-1v1m20-1v1m5-1v1m1-1v1m1-1v1m16-1v1m1-1v1m43-1v1m9-1v1m2-1v1m47-1v1m65-1v1m12-1v1m14-1v1m38-1v1m11-1v1m2-1v1m28-1v1m7-1v1m7-1v1m8-1v1m55-1v1m8-1v1m4-1v1m9-1v1m27-1v1m1-1v1m4-1v1m12-1v1m22-1v1m3-1v1m3-1v1m2-1v1m11-1v1m2-1v1m1-1v1m1-1v1m1-1v1m10-1v1m1-1v1m2-1v1m64-1v1m47-1v1m3-1v1m2-1v1m6-1v1m17-1v1m1-1v1m1-1v1m29-1v1m9-1v1m13-1v1m7-1v1m21-1v1m19-1v1m36-1v1m56-1v1m4-1v1m1-1v1m1-1v1m3-1v1m36-1v1m8-1v1m5-1v1m7-1v1m1-1v1m6-1v1m19-1v1m11-1v1m7-1v1m4-1v1m1-1v1m1-1v1"/><path opacity="0.42" d="M3 0v1m24-1v1m14-1v1m6-1v1m12-1v1m1-1v1m9-1v1m11-1v1m1-1v1m3-1v1m23-1v1m7-1v1m5-1v1m46-1v1m16-1v1m2-1v1m8-1v1m3-1v1m1-1v1m4-1v1m1-1v1m6-1v1m1-1v1m3-1v1m36-1v1m26-1v1m6-1v1m23-1v1m15-1v1m3-1v1m17-1v1m11-1v1m15-1v1m37-1v1m18-1v1m3-1v1m4-1v1m19-1v1m53-1v1m1-1v1m2-1v1m13-1v1m23-1v1m3-1v1m8-1v1m1-1v1m5-1v1m9-1v1m1-1v1m6-1v1m1-1v1m5-1v1m10-1v1m53-1v1m1-1v1m1-1v1m56-1v1m28-1v1m64-1v1m1-1v1m2-1v1m9-1v1m6-1v1m16-1v1m9-1v1m54-1v1m19-1v1m5-1v1m10-1v1m28-1v1m19-1v1m3-1v1m17-1v1m10-1v1m39-1v1m6-1v1m1-1v1m7-1v1m65-1v1m19-1v1m47-1v1m1-1v1m3-1v1m5-1v1m23-1v1m12-1v1m65-1v1m11-1v1m4-1v1m15-1v1m6-1v1m2-1v1m3-1v1m9-1v1m14-1v1m35-1v1m9-1v1m12-1v1m21-1v1m11-1v1m9-1v1m8-1v1m2-1v1m17-1v1"/><path opacity="0.62" d="M12 0v1m6-1v1m1-1v1m10-1v1m1-1v1m1-1v1m6-1v1m31-1v1m5-1v1m36-1v1m2-1v1m4-1v1m1-1v1m2-1v1m2-1v1m1-1v1m107-1v1m8-1v1m5-1v1m12-1v1m2-1v1m37-1v1m52-1v1m37-1v1m27-1v1m18-1v1m6-1v1m1-1v1m27-1v1m16-1v1m54-1v1m29-1v1m22-1v1m112-1v1m1-1v1m12-1v1m20-1v1m37-1v1m7-1v1m8-1v1m13-1v1m17-1v1m32-1v1m27-1v1m8-1v1m15-1v1m2-1v1m35-1v1m5-1v1m8-1v1m34-1v1m9-1v1m5-1v1m70-1v1m19-1v1m97-1v1m4-1v1m11-1v1m23-1v1m80-1v1m30-1v1m3-1v1m18-1v1m6-1v1m12-1v1m8-1v1m6-1v1m3-1v1m7-1v1m19-1v1m5-1v1m8-1v1m24-1v1m10-1v1m1-1v1m8-1v1m1-1v1m27-1v1"/><path opacity="0.82" d="M145 0v1m4-1v1m2-1v1m54-1v1m34-1v1m36-1v1m68-1v1m18-1v1m29-1v1m46-1v1m93-1v1m103-1v1m38-1v1m42-1v1m65-1v1m3-1v1m61-1v1m9-1v1m1-1v1m40-1v1m39-1v1m41-1v1m263-1v1m2-1v1m13-1v1m11-1v1m70-1v1m36-1v1m35-1v1m4-1v1m5-1v1m1-1v1m5-1v1m59-1v1"/><path opacity="1.00" d="M65 0v1m139-1v1m58-1v1m129-1v1m312-1v1m10-1v1m43-1v1m30-1v1m47-1v1m56-1v1m42-1v1m31-1v1m16-1v1m61-1v1m152-1v1m177-1v1m50-1v1m3-1v1m7-1v1"/></g>
<g id="v2" stroke="currentColor" transform="translate(.5)"><path opacity="0.22" d="M25 0v1m4-1v1m5-1v1m15-1v1m4-1v1m3-1v1m5-1v1m13-1v1m13-1v1m1-1v1m1-1v1m1-1v1m2-1v1m3-1v1m29-1v1m6-1v1m4-1v1m5-1v1m8-1v1m1-1v1m3-1v1m1-1v1m4-1v1m4-1v1m2-1v1m2-1v1m7-1v1m11-1v1m5-1v1m5-1v1m1-1v1m1-1v1m6-1v1m7-1v1m39-1v1m11-1v1m8-1v1m1-1v1m1-1v1m12-1v1m16-1v1m76-1v1m16-1v1m5-1v1m12-1v1m1-1v1m18-1v1m12-1v1m3-1v1m3-1v1m46-1v1m40-1v1m4-1v1m1-1v1m8-1v1m1-1v1m4-1v1m20-1v1m43-1v1m6-1v1m3-1v1m6-1v1m4-1v1m2-1v1m1-1v1m4-1v1m9-1v1m1-1v1m6-1v1m31-1v1m4-1v1m16-1v1m24-1v1m1-1v1m91-1v1m16-1v1m45-1v1m13-1v1m28-1v1m20-1v1m1-1v1m26-1v1m1-1v1m7-1v1m2-1v1m8-1v1m18-1v1m28-1v1m16-1v1m18-1v1m5-1v1m8-1v1m36-1v1m5-1v1m39-1v1m59-1v1m98-1v1m41-1v1m8-1v1m1-1v1m11-1v1m14-1v1m1-1v1m21-1v1m16-1v1m1-1v1m10-1v1m21-1v1m1-1v1m1-1v1m6-1v1m1-1v1m1-1v1m7-1v1m12-1v1"/><path opacity="0.42" d="M4 0v1m11-1v1m1-1v1m1-1v1m4-1v1m20-1v1m14-1v1m2-1v1m5-1v1m11-1v1m8-1v1m5-1v1m8-1v1m7-1v1m1-1v1m1-1v1m9-1v1m1-1v1m4-1v1m16-1v1m5-1v1m2-1v1m23-1v1m21-1v1m5-1v1m1-1v1m1-1v1m30-1v1m4-1v1m7-1v1m21-1v1m7-1v1m3-1v1m15-1v1m84-1v1m6-1v1m31-1v1m11-1v1m21-1v1m5-1v1m1-1v1m20-1v1m29-1v1m9-1v1m19-1v1m8-1v1m28-1v1m5-1v1m1-1v1m13-1v1m33-1v1m2-1v1m29-1v1m7-1v1m1-1v1m15-1v1m1-1v1m9-1v1m14-1v1m59-1v1m18-1v1m42-1v1m76-1v1m1-1v1m4-1v1m4-1v1m11-1v1m5-1v1m25-1v1m13-1v1m9-1v1m50-1v1m10-1v1m8-1v1m2-1v1m1-1v1m1-1v1m17-1v1m1-1v1m1-1v1m49-1v1m11-1v1m17-1v1m4-1v1m23-1v1m1-1v1m40-1v1m5-1v1m15-1v1m11-1v1m123-1v1m12-1v1m2-1v1m11-1v1m29-1v1m14-1v1m5-1v1m24-1v1m7-1v1m4-1v1m3-1v1m25-1v1m8-1v1"/><path opacity="0.62" d="M3 0v1m3-1v1m5-1v1m13-1v1m16-1v1m4-1v1m28-1v1m59-1v1m13-1v1m13-1v1m8-1v1m2-1v1m34-1v1m48-1v1m5-1v1m60-1v1m71-1v1m35-1v1m77-1v1m1-1v1m2-1v1m1-1v1m12-1v1m26-1v1m7-1v1m12-1v1m1-1v1m20-1v1m53-1v1m10-1v1m71-1v1m186-1v1m16-1v1m1-1v1m45-1v1m2-1v1m6-1v1m20-1v1m19-1v1m128-1v1m13-1v1m7-1v1m26-1v1m22-1v1m29-1v1m87-1v1m15-1v1m3-1v1m12-1v1m50-1v1m57-1v1"/><path opacity="0.82" d="M77 0v1m31-1v1m78-1v1m24-1v1m32-1v1m2-1v1m6-1v1m1-1v1m1-1v1m4-1v1m100-1v1m91-1v1m55-1v1m55-1v1m126-1v1m4-1v1m115-1v1m81-1v1m11-1v1m4-1v1m64-1v1m190-1v1m19-1v1m6-1v1m12-1v1m4-1v1m8-1v1m118-1v1m41-1v1m5-1v1m65-1v1m28-1v1m17-1v1"/><path opacity="1.00" d="M13 0v1m426-1v1m138-1v1m69-1v1m5-1v1m55-1v1m133-1v1m273-1v1m32-1v1m7-1v1m2-1v1m94-1v1m1-1v1m16-1v1m15-1v1m29-1v1m131-1v1m43-1v1"/></g>
<g id="v3" stroke="currentColor" transform="translate(.5)"><path opacity="0.22" d="M134 0v1m1-1v1m10-1v1m37-1v1m9-1v1m3-1v1m7-1v1m1-1v1m50-1v1m1-1v1m6-1v1m8-1v1m5-1v1m1-1v1m3-1v1m2-1v1m1-1v1m32-1v1m12-1v1m26-1v1m1-1v1m18-1v1m1-1v1m10-1v1m26-1v1m17-1v1m53-1v1m7-1v1m8-1v1m20-1v1m10-1v1m6-1v1m12-1v1m88-1v1m2-1v1m11-1v1m2-1v1m13-1v1m13-1v1m18-1v1m6-1v1m12-1v1m19-1v1m2-1v1m3-1v1m1-1v1m3-1v1m4-1v1m19-1v1m11-1v1m2-1v1m8-1v1m6-1v1m20-1v1m56-1v1m6-1v1m1-1v1m6-1v1m10-1v1m1-1v1m35-1v1m1-1v1m3-1v1m4-1v1m6-1v1m9-1v1m5-1v1m7-1v1m3-1v1m13-1v1m1-1v1m1-1v1m1-1v1m2-1v1m2-1v1m11-1v1m16-1v1m6-1v1m6-1v1m1-1v1m7-1v1m10-1v1m7-1v1m1-1v1m35-1v1m6-1v1m6-1v1m37-1v1m12-1v1m15-1v1m75-1v1m32-1v1m1-1v1m22-1v1m44-1v1m24-1v1m39-1v1m6-1v1m8-1v1m2-1v1m14-1v1m1-1v1m1-1v1m1-1v1m9-1v1m27-1v1m9-1v1m1-1v1m12-1v1m7-1v1"/><path opacity="0.42" d="M12 0v1m29-1v1m26-1v1m11-1v1m1-1v1m10-1v1m8-1v1m42-1v1m26-1v1m44-1v1m2-1v1m1-1v1m20-1v1m9-1v1m10-1v1m11-1v1m4-1v1m2-1v1m1-1v1m8-1v1m3-1v1m21-1v1m7-1v1m26-1v1m7-1v1m4-1v1m9-1v1m17-1v1m28-1v1m82-1v1m10-1v1m4-1v1m29-1v1m32-1v1m3-1v1m49-1v1m17-1v1m2-1v1m4-1v1m27-1v1m22-1v1m43-1v1m16-1v1m3-1v1m3-1v1m10-1v1m15-1v1m4-1v1m3-1v1m12-1v1m5-1v1m2-1v1m64-1v1m11-1v1m13-1v1m56-1v1m2-1v1m22-1v1m7-1v1m2-1v1m3-1v1m6-1v1m4-1v1m1-1v1m7-1v1m3-1v1m1-1v1m32-1v1m23-1v1m5-1v1m29-1v1m12-1v1m42-1v1m1-1v1m17-1v1m1-1v1m18-1v1m35-1v1m11-1v1m7-1v1m17-1v1m23-1v1m19-1v1m3-1v1m10-1v1m12-1v1m6-1v1m4-1v1m4-1v1m1-1v1m14-1v1m5-1v1m30-1v1m29-1v1m13-1v1m10-1v1m4-1v1m3-1v1m49-1v1"/><path opacity="0.62" d="M11 0v1m77-1v1m8-1v1m8-1v1m145-1v1m40-1v1m41-1v1m14-1v1m2-1v1m1-1v1m35-1v1m64-1v1m5-1v1m1-1v1m48-1v1m88-1v1m8-1v1m5-1v1m29-1v1m31-1v1m5-1v1m13-1v1m17-1v1m1-1v1m5-1v1m44-1v1m10-1v1m20-1v1m3-1v1m29-1v1m9-1v1m17-1v1m1-1v1m24-1v1m2-1v1m21-1v1m37-1v1m40-1v1m4-1v1m18-1v1m43-1v1m35-1v1m25-1v1m18-1v1m1-1v1m2-1v1m12-1v1m22-1v1m26-1v1m23-1v1m39-1v1m12-1v1m25-1v1m49-1v1m46-1v1m6-1v1m13-1v1m33-1v1m52-1v1m17-1v1"/><path opacity="0.82" d="M73 0v1m190-1v1m35-1v1m21-1v1m18-1v1m30-1v1m9-1v1m41-1v1m60-1v1m231-1v1m41-1v1m61-1v1m180-1v1m50-1v1m223-1v1m39-1v1m102-1v1m18-1v1m33-1v1"/><path opacity="1.00" d="M185 0v1m8-1v1m33-1v1m19-1v1m26-1v1m34-1v1m23-1v1m38-1v1m52-1v1m5-1v1m1-1v1m189-1v1m172-1v1m1-1v1m281-1v1m8-1v1m313-1v1m35-1v1"/></g>
<g id="v4" stroke="currentColor" transform="translate(.5)"><path opacity="0.22" d="M63 0v1m27-1v1m5-1v1m16-1v1m4-1v1m7-1v1m13-1v1m9-1v1m2-1v1m4-1v1m1-1v1m29-1v1m7-1v1m8-1v1m1-1v1m39-1v1m17-1v1m17-1v1m1-1v1m4-1v1m2-1v1m1-1v1m5-1v1m1-1v1m1-1v1m1-1v1m31-1v1m22-1v1m12-1v1m12-1v1m10-1v1m19-1v1m14-1v1m6-1v1m41-1v1m3-1v1m22-1v1m4-1v1m1-1v1m4-1v1m7-1v1m21-1v1m4-1v1m1-1v1m1-1v1m1-1v1m48-1v1m5-1v1m2-1v1m34-1v1m24-1v1m1-1v1m8-1v1m47-1v1m5-1v1m20-1v1m1-1v1m5-1v1m4-1v1m1-1v1m8-1v1m4-1v1m24-1v1m9-1v1m2-1v1m12-1v1m1-1v1m14-1v1m14-1v1m30-1v1m54-1v1m27-1v1m1-1v1m46-1v1m38-1v1m12-1v1m1-1v1m14-1v1m1-1v1m17-1v1m14-1v1m3-1v1m4-1v1m6-1v1m23-1v1m1-1v1m6-1v1m7-1v1m50-1v1m47-1v1m13-1v1m2-1v1m34-1v1m1-1v1m3-1v1m1-1v1m8-1v1m5-1v1m7-1v1m8-1v1m8-1v1m10-1v1m7-1v1m13-1v1m8-1v1m31-1v1m3-1v1m15-1v1m20-1v1m6-1v1m14-1v1m1-1v1m1-1v1m20-1v1m1-1v1m11-1v1m1-1v1"/><path opacity="0.42" d="M56 0v1m5-1v1m3-1v1m5-1v1m30-1v1m1-1v1m2-1v1m8-1v1m8-1v1m5-1v1m1-1v1m2-1v1m5-1v1m39-1v1m27-1v1m24-1v1m16-1v1m43-1v1m17-1v1m3-1v1m17-1v1m16-1v1m43-1v1m55-1v1m3-1v1m25-1v1m28-1v1m11-1v1m3-1v1m5-1v1m11-1v1m18-1v1m4-1v1m4-1v1m3-1v1m5-1v1m4-1v1m1-1v1m19-1v1m8-1v1m11-1v1m19-1v1m35-1v1m2-1v1m32-1v1m12-1v1m9-1v1m11-1v1m42-1v1m7-1v1m2-1v1m23-1v1m31-1v1m7-1v1m1-1v1m1-1v1m1-1v1m93-1v1m6-1v1m1-1v1m18-1v1m42-1v1m37-1v1m2-1v1m29-1v1m1-1v1m4-1v1m9-1v1m10-1v1m53-1v1m1-1v1m5-1v1m11-1v1m2-1v1m3-1v1m11-1v1m5-1v1m5-1v1m1-1v1m21-1v1m8-1v1m4-1v1m29-1v1m5-1v1m1-1v1m29-1v1m32-1v1m2-1v1m3-1v1m19-1v1m17-1v1m22-1v1m2-1v1m1-1v1m7-1v1m1-1v1m15-1v1m1-1v1m1-1v1m2-1v1m39-1v1m13-1v1m6-1v1m8-1v1m14-1v1"/><path opacity="0.62" d="M34 0v1m10-1v1m21-1v1m6-1v1m30-1v1m46-1v1m7-1v1m22-1v1m9-1v1m38-1v1m15-1v1m29-1v1m120-1v1m80-1v1m13-1v1m11-1v1m13-1v1m5-1v1m27-1v1m1-1v1m1-1v1m4-1v1m11-1v1m42-1v1m6-1v1m17-1v1m19-1v1m9-1v1m23-1v1m27-1v1m3-1v1m23-1v1m20-1v1m141-1v1m72-1v1m46-1v1m1-1v1m22-1v1m1-1v1m25-1v1m53-1v1m1-1v1m22-1v1m1-1v1m17-1v1m6-1v1m4-1v1m1-1v1m28-1v1m40-1v1m15-1v1m6-1v1m6-1v1m5-1v1m18-1v1m65-1v1m23-1v1m4-1v1m1-1v1m25-1v1m1-1v1m7-1v1m7-1v1m54-1v1m9-1v1m2-1v1m19-1v1"/><path opacity="0.82" d="M74 0v1m33-1v1m70-1v1m184-1v1m78-1v1m40-1v1m16-1v1m107-1v1m13-1v1m2-1v1m76-1v1m64-1v1m2-1v1m7-1v1m33-1v1m135-1v1m188-1v1m6-1v1m2-1v1m1-1v1m15-1v1m35-1v1m70-1v1m8-1v1m1-1v1m14-1v1m7-1v1m38-1v1m24-1v1m2-1v1m37-1v1m29-1v1m12-1v1"/><path opacity="1.00" d="M2 0v1m249-1v1m94-1v1m92-1v1m10-1v1m24-1v1m1-1v1m166-1v1m18-1v1m102-1v1m194-1v1m16-1v1m1-1v1m37-1v1m94-1v1m63-1v1m27-1v1m1-1v1m67-1v1m41-1v1m48-1v1m55-1v1m42-1v1"/></g>
<g id="v5" stroke="currentColor" transform="translate(.5)"><path opacity="0.22" d="M1 0v1m8-1v1m18-1v1m1-1v1m14-1v1m4-1v1m2-1v1m13-1v1m1-1v1m7-1v1m10-1v1m1-1v1m2-1v1m2-1v1m5-1v1m1-1v1m1-1v1m4-1v1m1-1v1m6-1v1m2-1v1m14-1v1m16-1v1m9-1v1m3-1v1m3-1v1m30-1v1m17-1v1m1-1v1m2-1v1m1-1v1m1-1v1m2-1v1m6-1v1m19-1v1m18-1v1m16-1v1m7-1v1m31-1v1m28-1v1m1-1v1m22-1v1m16-1v1m7-1v1m1-1v1m13-1v1m1-1v1m1-1v1m6-1v1m21-1v1m17-1v1m5-1v1m2-1v1m7-1v1m14-1v1m3-1v1m2-1v1m13-1v1m2-1v1m1-1v1m6-1v1m18-1v1m1-1v1m12-1v1m11-1v1m3-1v1m8-1v1m15-1v1m13-1v1m40-1v1m2-1v1m21-1v1m5-1v1m21-1v1m35-1v1m1-1v1m49-1v1m46-1v1m17-1v1m19-1v1m10-1v1m1-1v1m2-1v1m1-1v1m37-1v1m1-1v1m14-1v1m32-1v1m1-1v1m11-1v1m32-1v1m64-1v1m28-1v1m8-1v1m39-1v1m8-1v1m1-1v1m11-1v1m22-1v1m22-1v1m36-1v1m2-1v1m15-1v1m22-1v1m5-1v1m6-1v1m14-1v1m20-1v1m5-1v1m13-1v1m1-1v1m6-1v1m16-1v1m22-1v1m8-1v1m1-1v1m8-1v1m10-1v1m28-1v1m3-1v1m47-1v1m3-1v1m1-1v1m11-1v1m15-1v1m1-1v1"/><path opacity="0.42" d="M14 0v1m27-1v1m6-1v1m3-1v1m31-1v1m2-1v1m25-1v1m8-1v1m1-1v1m3-1v1m8-1v1m4-1v1m18-1v1m4-1v1m6-1v1m8-1v1m3-1v1m9-1v1m3-1v1m4-1v1m25-1v1m2-1v1m30-1v1m12-1v1m3-1v1m8-1v1m7-1v1m15-1v1m25-1v1m2-1v1m1-1v1m17-1v1m22-1v1m7-1v1m1-1v1m1-1v1m18-1v1m12-1v1m29-1v1m2-1v1m1-1v1m2-1v1m11-1v1m7-1v1m19-1v1m10-1v1m1-1v1m13-1v1m6-1v1m8-1v1m12-1v1m14-1v1m6-1v1m18-1v1m9-1v1m3-1v1m24-1v1m2-1v1m9-1v1m5-1v1m13-1v1m1-1v1m15-1v1m34-1v1m1-1v1m6-1v1m27-1v1m68-1v1m35-1v1m11-1v1m11-1v1m1-1v1m35-1v1m6-1v1m9-1v1m6-1v1m4-1v1m1-1v1m1-1v1m4-1v1m7-1v1m1-1v1m1-1v1m36-1v1m2-1v1m5-1v1m20-1v1m15-1v1m1-1v1m20-1v1m15-1v1m5-1v1m8-1v1m9-1v1m3-1v1m1-1v1m7-1v1m1-1v1m7-1v1m3-1v1m5-1v1m2-1v1m11-1v1m10-1v1m13-1v1m3-1v1m8-1v1m31-1v1m1-1v1m2-1v1m34-1v1m7-1v1m12-1v1m9-1v1m1-1v1m2-1v1m9-1v1m6-1v1m35-1v1m1-1v1m31-1v1m7-1v1m3-1v1m18-1v1m22-1v1m19-1v1m15-1v1m3-1v1m12-1v1m22-1v1m32-1v1m1-1v1m11-1v1m4-1v1"/><path opacity="0.62" d="M38 0v1m34-1v1m1-1v1m36-1v1m26-1v1m4-1v1m12-1v1m1-1v1m4-1v1m5-1v1m5-1v1m1-1v1m60-1v1m27-1v1m79-1v1m19-1v1m10-1v1m14-1v1m31-1v1m16-1v1m7-1v1m1-1v1m28-1v1m16-1v1m17-1v1m30-1v1m6-1v1m4-1v1m43-1v1m47-1v1m41-1v1m12-1v1m57-1v1m16-1v1m51-1v1m19-1v1m31-1v1m1-1v1m11-1v1m23-1v1m4-1v1m55-1v1m6-1v1m1-1v1m65-1v1m2-1v1m17-1v1m38-1v1m25-1v1m3-1v1m1-1v1m3-1v1m4-1v1m5-1v1m15-1v1m48-1v1m40-1v1m29-1v1m20-1v1m27-1v1m12-1v1m33-1v1m33-1v1m10-1v1m20-1v1m6-1v1"/><path opacity="0.82" d="M2 0v1m10-1v1m56-1v1m51-1v1m36-1v1m3-1v1m46-1v1m49-1v1m48-1v1m45-1v1m24-1v1m1-1v1m80-1v1m3-1v1m10-1v1m57-1v1m40-1v1m18-1v1m2-1v1m1-1v1m44-1v1m82-1v1m115-1v1m24-1v1m27-1v1m32-1v1m47-1v1m21-1v1m51-1v1m8-1v1m69-1v1m20-1v1m30-1v1m10-1v1m15-1v1m8-1v1m15-1v1m99-1v1m36-1v1m119-1v1"/><path opacity="1.00" d="M45 0v1m13-1v1m79-1v1m10-1v1m42-1v1m36-1v1m22-1v1m8-1v1m126-1v1m6-1v1m35-1v1m158-1v1m60-1v1m206-1v1m155-1v1m122-1v1m175-1v1m97-1v1m1-1v1m34-1v1m2-1v1"/></g>
<g id="d0" stroke="currentColor" transform="translate(.5)"><path opacity="0.22" d="M10 0v1m3-1v1m1-1v1m4-1v1m6-1v1m2-1v1m1-1v1m3-1v1m7-1v1m13-1v1m12-1v1m8-1v1m4-1v1m19-1v1m8-1v1m1-1v1m9-1v1m2-1v1m14-1v1m2-1v1m11-1v1m2-1v1m10-1v1m1-1v1m2-1v1m1-1v1m1-1v1m10-1v1m3-1v1m6-1v1m5-1v1m1-1v1m11-1v1m13-1v1m12-1v1m1-1v1m6-1v1m6-1v1m1-1v1m2-1v1m3-1v1m8-1v1m5-1v1m24-1v1m13-1v1m11-1v1m8-1v1m12-1v1m1-1v1m1-1v1m1-1v1m3-1v1m12-1v1m1-1v1m1-1v1m5-1v1m17-1v1m44-1v1m1-1v1m1-1v1m2-1v1m1-1v1m18-1v1m13-1v1m15-1v1m2-1v1m1-1v1m7-1v1m9-1v1m5-1v1m1-1v1m1-1v1m6-1v1m12-1v1m3-1v1m15-1v1m6-1v1m8-1v1m11-1v1m1-1v1m11-1v1m1-1v1m2-1v1m12-1v1m6-1v1m6-1v1m22-1v1m1-1v1m1-1v1m4-1v1m24-1v1m6-1v1m1-1v1m3-1v1m9-1v1m9-1v1m3-1v1m14-1v1m17-1v1m1-1v1m1-1v1m6-1v1m16-1v1m1-1v1m3-1v1m1-1v1m20-1v1m13-1v1m13-1v1m41-1v1m1-1v1m2-1v1m10-1v1m24-1v1m4-1v1m16-1v1m4-1v1m16-1v1m3-1v1m3-1v1m1-1v1m4-1v1m1-1v1m14-1v1m6-1v1m4-1v1m8-1v1m5-1v1m12-1v1m6-1v1m4-1v1m8-1v1m4-1v1m11-1v1m8-1v1m4-1v1m5-1v1m2-1v1m5-1v1m9-1v1m1-1v1m23-1v1m19-1v1m1-1v1m5-1v1m1-1v1m3-1v1m4-1v1m3-1v1m5-1v1m1-1v1m24-1v1m4-1v1m3-1v1m7-1v1m11-1v1m11-1v1m12-1v1m11-1v1m1-1v1m30-1v1m1-1v1m1-1v1m1-1v1m1-1v1m4-1v1m7-1v1m1-1v1m4-1v1m13-1v1m1-1v1m1-1v1m6-1v1m1-1v1m1-1v1m3-1v1m1-1v1m11-1v1m12-1v1m11-1v1m1-1v1m3-1v1m1-1v1m1-1v1m17-1v1m2-1v1m1-1v1m3-1v1m11-1v1m5-1v1m6-1v1m22-1v1m3-1v1m2-1v1m1-1v1m1-1v1m10-1v1m6-1v1m1-1v1m14-1v1m6-1v1m1-1v1m12-1v1m2-1v1m3-1v1m18-1v1m1-1v1m2-1v1m1-1v1m1-1v1m16-1v1m6-1v1m1-1v1m1-1v1m1-1v1m13-1v1"/><path opacity="0.42" d="M1 0v1m34-1v1m3-1v1m25-1v1m10-1v1m7-1v1m19-1v1m1-1v1m3-1v1m1-1v1m8-1v1m4-1v1m12-1v1m40-1v1m1-1v1m18-1v1m1-1v1m1-1v1m1-1v1m1-1v1m5-1v1m4-1v1m23-1v1m21-1v1m8-1v1m1-1v1m13-1v1m3-1v1m2-1v1m2-1v1m11-1v1m9-1v1m4-1v1m5-1v1m5-1v1m1-1v1m3-1v1m5-1v1m1-1v1m33-1v1m4-1v1m3-1v1m7-1v1m5-1v1m23-1v1m6-1v1m9-1v1m10-1v1m2-1v1m2-1v1m5-1v1m10-1v1m13-1v1m3-1v1m1-1v1m1-1v1m6-1v1m2-1v1m5-1v1m3-1v1m1-1v1m1-1v1m13-1v1m7-1v1m1-1v1m3-1v1m5-1v1m5-1v1m14-1v1m6-1v1m1-1v1m10-1v1m1-1v1m22-1v1m2-1v1m1-1v1m10-1v1m10-1v1m1-1v1m7-1v1m30-1v1m5-1v1m18-1v1m23-1v1m6-1v1m13-1v1m4-1v1m1-1v1m19-1v1m50-1v1m4-1v1m8-1v1m2-1v1m10-1v1m22-1v1m3-1v1m1-1v1m6-1v1m1-1v1m2-1v1m8-1v1m5-1v1m9-1v1m2-1v1m6-1v1m1-1v1m7-1v1m10-1v1m2-1v1m1-1v1m17-1v1m3-1v1m6-1v1m10-1v1m3-1v1m6-1v1m2-1v1m1-1v1m5-1v1m2-1v1m20-1v1m15-1v1m10-1v1m26-1v1m4-1v1m3-1v1m17-1v1m12-1v1m9-1v1m19-1v1m6-1v1m3-1v1m1-1v1m4-1v1m13-1v1m8-1v1m15-1v1m1-1v1m15-1v1m10-1v1m2-1v1m8-1v1m13-1v1m1-1v1m2-1v1m21-1v1m4-1v1m1-1v1m1-1v1m16-1v1m29-1v1m1-1v1m8-1v1m13-1v1m12-1v1m4-1v1m3-1v1m8-1v1m2-1v1m1-1v1m12-1v1m6-1v1m2-1v1m1-1v1m12-1v1m4-1v1m1-1v1m6-1v1m1-1v1m4-1v1m1-1v1m15-1v1m7-1v1m7-1v1m3-1v1m14-1v1m4-1v1m3-1v1m16-1v1m8-1v1m1-1v1m2-1v1m1-1v1m10-1v1m16-1v1m17-1v1m13-1v1m1-1v1"/><path opacity="0.62" d="M4 0v1m1-1v1m3-1v1m13-1v1m2-1v1m2-1v1m4-1v1m3-1v1m2-1v1m12-1v1m2-1v1m43-1v1m26-1v1m17-1v1m2-1v1m10-1v1m46-1v1m32-1v1m19-1v1m5-1v1m1-1v1m7-1v1m6-1v1m10-1v1m24-1v1m7-1v1m27-1v1m15-1v1m1-1v1m1-1v1m1-1v1m49-1v1m36-1v1m1-1v1m12-1v1m30-1v1m6-1v1m1-1v1m11-1v1m18-1v1m7-1v1m55-1v1m26-1v1m22-1v1m26-1v1m32-1v1m7-1v1m11-1v1m4-1v1m7-1v1m2-1v1m4-1v1m12-1v1m11-1v1m20-1v1m38-1v1m17-1v1m7-1v1m2-1v1m8-1v1m8-1v1m2-1v1m16-1v1m15-1v1m36-1v1m3-1v1m6-1v1m12-1v1m1-1v1m2-1v1m13-1v1m32-1v1m10-1v1m18-1v1m22-1v1m7-1v1m2-1v1m17-1v1m24-1v1m21-1v1m5-1v1m4-1v1m9-1v1m8-1v1m1-1v1m13-1v1m2-1v1m6-1v1m2-1v1m30-1v1m4-1v1m10-1v1m48-1v1m10-1v1m9-1v1m8-1v1m29-1v1m1-1v1m26-1v1m12-1v1m3-1v1m6-1v1m5-1v1m2-1v1m17-1v1m24-1v1m13-1v1m8-1v1m6-1v1m3-1v1m3-1v1m20-1v1m2-1v1m1-1v1m4-1v1m1-1v1m2-1v1m12-1v1m10-1v1m1-1v1m12-1v1"/><path opacity="0.82" d="M2 0v1m1-1v1m30-1v1m12-1v1m2-1v1m5-1v1m6-1v1m1-1v1m1-1v1m22-1v1m33-1v1m24-1v1m9-1v1m13-1v1m1-1v1m1-1v1m3-1v1m56-1v1m79-1v1m12-1v1m1-1v1m1-1v1m26-1v1m15-1v1m11-1v1m4-1v1m6-1v1m2-1v1m37-1v1m23-1v1m8-1v1m12-1v1m10-1v1m21-1v1m50-1v1m9-1v1m2-1v1m72-1v1m47-1v1m4-1v1m11-1v1m9-1v1m43-1v1m19-1v1m35-1v1m4-1v1m2-1v1m42-1v1m72-1v1m23-1v1m6-1v1m2-1v1m81-1v1m21-1v1m3-1v1m1-1v1m29-1v1m9-1v1m30-1v1m9-1v1m7-1v1m1-1v1m7-1v1m79-1v1m1-1v1m28-1v1m85-1v1m11-1v1m16-1v1m1-1v1m24-1v1m24-1v1m39-1v1"/><path opacity="1.00" d="M267 0v1m10-1v1m22-1v1m29-1v1m1-1v1m4-1v1m22-1v1m4-1v1m17-1v1m38-1v1m164-1v1m4-1v1m7-1v1m8-1v1m14-1v1m7-1v1m16-1v1m8-1v1m16-1v1m35-1v1m13-1v1m35-1v1m5-1v1m35-1v1m5-1v1m47-1v1m1-1v1m1-1v1m7-1v1m24-1v1m19-1v1m27-1v1m29-1v1m73-1v1m49-1v1m22-1v1m32-1v1m104-1v1m40-1v1m78-1v1m1-1v1m39-1v1m99-1v1"/></g>
<g id="d1" stroke="currentColor" transform="translate(.5)"><path opacity="0.22" d="M16 0v1m4-1v1m17-1v1m6-1v1m6-1v1m14-1v1m7-1v1m8-1v1m6-1v1m8-1v1m2-1v1m5-1v1m2-1v1m24-1v1m12-1v1m1-1v1m18-1v1m6-1v1m11-1v1m1-1v1m26-1v1m25-1v1m1-1v1m15-1v1m2-1v1m3-1v1m17-1v1m19-1v1m8-1v1m1-1v1m6-1v1m27-1v1m1-1v1m9-1v1m7-1v1m11-1v1m9-1v1m2-1v1m4-1v1m5-1v1m28-1v1m15-1v1m4-1v1m1-1v1m23-1v1m3-1v1m2-1v1m34-1v1m25-1v1m12-1v1m4-1v1m14-1v1m7-1v1m12-1v1m10-1v1m2-1v1m14-1v1m4-1v1m1-1v1m1-1v1m15-1v1m28-1v1m20-1v1m42-1v1m16-1v1m15-1v1m14-1v1m4-1v1m15-1v1m25-1v1m19-1v1m3-1v1m5-1v1m13-1v1m2-1v1m2-1v1m5-1v1m7-1v1m1-1v1m1-1v1m7-1v1m2-1v1m20-1v1m6-1v1m5-1v1m1-1v1m37-1v1m9-1v1m4-1v1m19-1v1m1-1v1m10-1v1m14-1v1m1-1v1m9-1v1m2-1v1m14-1v1m1-1v1m2-1v1m4-1v1m18-1v1m7-1v1m4-1v1m5-1v1m4-1v1m1-1v1m2-1v1m1-1v1m8-1v1m23-1v1m23-1v1m1-1v1m112-1v1m5-1v1m1-1v1m1-1v1m7-1v1m1-1v1m2-1v1m11-1v1m4-1v1m17-1v1m4-1v1m3-1v1m12-1v1m10-1v1m1-1v1m3-1v1m1-1v1m12-1v1m4-1v1m2-1v1m25-1v1m15-1v1m1-1v1m2-1v1m12-1v1m23-1v1m39-1v1m1-1v1m1-1v1m11-1v1m7-1v1m3-1v1m1-1v1m18-1v1m1-1v1m1-1v1"/><path opacity="0.42" d="M26 0v1m24-1v1m1-1v1m1-1v1m2-1v1m7-1v1m12-1v1m4-1v1m10-1v1m1-1v1m3-1v1m6-1v1m8-1v1m2-1v1m1-1v1m7-1v1m11-1v1m9-1v1m11-1v1m1-1v1m5-1v1m23-1v1m22-1v1m32-1v1m9-1v1m7-1v1m11-1v1m5-1v1m7-1v1m7-1v1m1-1v1m1-1v1m3-1v1m1-1v1m3-1v1m1-1v1m2-1v1m13-1v1m3-1v1m12-1v1m4-1v1m1-1v1m2-1v1m8-1v1m1-1v1m4-1v1m1-1v1m1-1v1m7-1v1m1-1v1m8-1v1m3-1v1m24-1v1m3-1v1m9-1v1m2-1v1m1-1v1m15-1v1m1-1v1m21-1v1m20-1v1m2-1v1m2-1v1m11-1v1m3-1v1m10-1v1m1-1v1m6-1v1m2-1v1m1-1v1m12-1v1m12-1v1m6-1v1m1-1v1m1-1v1m6-1v1m35-1v1m13-1v1m1-1v1m15-1v1m12-1v1m67-1v1m4-1v1m1-1v1m8-1v1m1-1v1m6-1v1m3-1v1m1-1v1m2-1v1m2-1v1m29-1v1m9-1v1m4-1v1m12-1v1m17-1v1m1-1v1m5-1v1m9-1v1m4-1v1m14-1v1m2-1v1m25-1v1m2-1v1m14-1v1m2-1v1m5-1v1m10-1v1m3-1v1m1-1v1m1-1v1m14-1v1m2-1v1m1-1v1m1-1v1m4-1v1m2-1v1m7-1v1m7-1v1m37-1v1m2-1v1m24-1v1m1-1v1m35-1v1m7-1v1m11-1v1m1-1v1m12-1v1m4-1v1m8-1v1m4-1v1m3-1v1m1-1v1m1-1v1m13-1v1m2-1v1m12-1v1m19-1v1m30-1v1m10-1v1m27-1v1m2-1v1m8-1v1m3-1v1m36-1v1m1-1v1m1-1v1m20-1v1m1-1v1m1-1v1m5-1v1m29-1v1m6-1v1m1-1v1m2-1v1m17-1v1m23-1v1m5-1v1m29-1v1m31-1v1m34-1v1m15-1v1m9-1v1m5-1v1m36-1v1"/><path opacity="0.62" d="M7 0v1m20-1v1m7-1v1m8-1v1m15-1v1m8-1v1m24-1v1m24-1v1m1-1v1m39-1v1m46-1v1m5-1v1m17-1v1m12-1v1m11-1v1m7-1v1m7-1v1m11-1v1m25-1v1m1-1v1m4-1v1m29-1v1m30-1v1m1-1v1m30-1v1m14-1v1m10-1v1m31-1v1m3-1v1m4-1v1m10-1v1m38-1v1m5-1v1m28-1v1m6-1v1m10-1v1m1-1v1m1-1v1m5-1v1m5-1v1m2-1v1m2-1v1m1-1v1m2-1v1m5-1v1m1-1v1m39-1v1m1-1v1m1-1v1m3-1v1m27-1v1m18-1v1m4-1v1m37-1v1m16-1v1m26-1v1m33-1v1m2-1v1m18-1v1m35-1v1m2-1v1m27-1v1m2-1v1m19-1v1m8-1v1m16-1v1m18-1v1m1-1v1m9-1v1m29-1v1m9-1v1m10-1v1m1-1v1m33-1v1m5-1v1m10-1v1m6-1v1m23-1v1m1-1v1m9-1v1m20-1v1m5-1v1m21-1v1m22-1v1m32-1v1m10-1v1m15-1v1m41-1v1m19-1v1m26-1v1m9-1v1m18-1v1m6-1v1m17-1v1m34-1v1m2-1v1m1-1v1m31-1v1m12-1v1m1-1v1m1-1v1m1-1v1m37-1v1m16-1v1m1-1v1m1-1v1m19-1v1"/><path opacity="0.82" d="M18 0v1m23-1v1m76-1v1m25-1v1m56-1v1m4-1v1m17-1v1m21-1v1m8-1v1m11-1v1m11-1v1m37-1v1m62-1v1m1-1v1m18-1v1m40-1v1m12-1v1m18-1v1m53-1v1m1-1v1m21-1v1m60-1v1m22-1v1m3-1v1m23-1v1m22-1v1m1-1v1m1-1v1m81-1v1m54-1v1m14-1v1m22-1v1m40-1v1m1-1v1m11-1v1m5-1v1m1-1v1m20-1v1m20-1v1m4-1v1m1-1v1m10-1v1m42-1v1m40-1v1m12-1v1m1-1v1m1-1v1m14-1v1m36-1v1m12-1v1m1-1v1m8-1v1m2-1v1m1-1v1m71-1v1m61-1v1m14-1v1m54-1v1m110-1v1m10-1v1m46-1v1"/><path opacity="1.00" d="M167 0v1m1-1v1m4-1v1m46-1v1m96-1v1m3-1v1m1-1v1m75-1v1m33-1v1m1-1v1m243-1v1m65-1v1m40-1v1m95-1v1m84-1v1m2-1v1m2-1v1m20-1v1m2-1v1m1-1v1m46-1v1m74-1v1m11-1v1m26-1v1m9-1v1m67-1v1m1-1v1m37-1v1m9-1v1m15-1v1m49-1v1m54-1v1"/></g>
<g id="b0" stroke="currentColor" transform="translate(.5)"><path opacity="0.22" d="M2 0v1m20-1v1m7-1v1m2-1v1m9-1v1m9-1v1m10-1v1m3-1v1m2-1v1m6-1v1m27-1v1m1-1v1m3-1v1m24-1v1m8-1v1m6-1v1m4-1v1m1-1v1m12-1v1m30-1v1m7-1v1m1-1v1m1-1v1m14-1v1m9-1v1m3-1v1m12-1v1m15-1v1m15-1v1m2-1v1m25-1v1m8-1v1m6-1v1m22-1v1m20-1v1m2-1v1m5-1v1m15-1v1m6-1v1m11-1v1m1-1v1m16-1v1m5-1v1m1-1v1m1-1v1m37-1v1m13-1v1m6-1v1m6-1v1m3-1v1m14-1v1m27-1v1m15-1v1m1-1v1m4-1v1m6-1v1m3-1v1m8-1v1m17-1v1m1-1v1m1-1v1m1-1v1m1-1v1m4-1v1m21-1v1m19-1v1m4-1v1m4-1v1m26-1v1m8-1v1m6-1v1m8-1v1m26-1v1m1-1v1m31-1v1m1-1v1m7-1v1m11-1v1m7-1v1m32-1v1m13-1v1m3-1v1m18-1v1m1-1v1m7-1v1m1-1v1m51-1v1m11-1v1m6-1v1m3-1v1m1-1v1m7-1v1m2-1v1m1-1v1m1-1v1m1-1v1m1-1v1m1-1v1m2-1v1m9-1v1m2-1v1m1-1v1m1-1v1m7-1v1m1-1v1m1-1v1m1-1v1m3-1v1m1-1v1m1-1v1m10-1v1m18-1v1m2-1v1m1-1v1m20-1v1m9-1v1m4-1v1m5-1v1m30-1v1m2-1v1m10-1v1m10-1v1m11-1v1m15-1v1m1-1v1m17-1v1m12-1v1m9-1v1m5-1v1m2-1v1m3-1v1m9-1v1m40-1v1m4-1v1m2-1v1m13-1v1m10-1v1m3-1v1m10-1v1m10-1v1m35-1v1m11-1v1m16-1v1m17-1v1m4-1v1m12-1v1m6-1v1m1-1v1m1-1v1m1-1v1m15-1v1m3-1v1m7-1v1m23-1v1m2-1v1m2-1v1m17-1v1m15-1v1m21-1v1m7-1v1m2-1v1m2-1v1m1-1v1m1-1v1m5-1v1m11-1v1m2-1v1"/><path opacity="0.42" d="M13 0v1m11-1v1m1-1v1m7-1v1m7-1v1m18-1v1m3-1v1m1-1v1m2-1v1m2-1v1m9-1v1m5-1v1m11-1v1m4-1v1m11-1v1m6-1v1m1-1v1m1-1v1m1-1v1m6-1v1m2-1v1m1-1v1m1-1v1m6-1v1m7-1v1m3-1v1m2-1v1m27-1v1m1-1v1m3-1v1m14-1v1m2-1v1m18-1v1m5-1v1m3-1v1m1-1v1m3-1v1m1-1v1m3-1v1m11-1v1m1-1v1m12-1v1m2-1v1m5-1v1m7-1v1m8-1v1m1-1v1m1-1v1m2-1v1m2-1v1m4-1v1m2-1v1m3-1v1m5-1v1m5-1v1m7-1v1m2-1v1m9-1v1m2-1v1m4-1v1m1-1v1m5-1v1m6-1v1m1-1v1m3-1v1m20-1v1m1-1v1m4-1v1m31-1v1m1-1v1m12-1v1m20-1v1m9-1v1m1-1v1m1-1v1m1-1v1m5-1v1m3-1v1m11-1v1m2-1v1m1-1v1m1-1v1m11-1v1m1-1v1m3-1v1m9-1v1m3-1v1m4-1v1m20-1v1m7-1v1m3-1v1m8-1v1m6-1v1m1-1v1m2-1v1m10-1v1m4-1v1m1-1v1m5-1v1m5-1v1m1-1v1m2-1v1m4-1v1m7-1v1m3-1v1m4-1v1m8-1v1m4-1v1m5-1v1m2-1v1m1-1v1m1-1v1m4-1v1m2-1v1m11-1v1m4-1v1m6-1v1m1-1v1m15-1v1m1-1v1m5-1v1m9-1v1m5-1v1m10-1v1m38-1v1m1-1v1m1-1v1m17-1v1m3-1v1m4-1v1m20-1v1m10-1v1m4-1v1m3-1v1m2-1v1m9-1v1m4-1v1m3-1v1m5-1v1m1-1v1m19-1v1m1-1v1m18-1v1m10-1v1m1-1v1m2-1v1m6-1v1m2-1v1m2-1v1m4-1v1m1-1v1m1-1v1m3-1v1m1-1v1m6-1v1m15-1v1m3-1v1m2-1v1m3-1v1m1-1v1m7-1v1m13-1v1m14-1v1m1-1v1m7-1v1m6-1v1m10-1v1m2-1v1m12-1v1m3-1v1m12-1v1m4-1v1m3-1v1m2-1v1m3-1v1m8-1v1m2-1v1m3-1v1m1-1v1m5-1v1m6-1v1m1-1v1m3-1v1m7-1v1m1-1v1m7-1v1m6-1v1m1-1v1m10-1v1m5-1v1m4-1v1m1-1v1m11-1v1m4-1v1m5-1v1m12-1v1m4-1v1m3-1v1m1-1v1m5-1v1m3-1v1m1-1v1m6-1v1m5-1v1m4-1v1m1-1v1m1-1v1m4-1v1m4-1v1m1-1v1m2-1v1m7-1v1m2-1v1m16-1v1m1-1v1m9-1v1m2-1v1m14-1v1m1-1v1m13-1v1m7-1v1m3-1v1m6-1v1m4-1v1m9-1v1m1-1v1m17-1v1m6-1v1m1-1v1m7-1v1m1-1v1m12-1v1m13-1v1m9-1v1m6-1v1m1-1v1m1-1v1m3-1v1m8-1v1m4-1v1m1-1v1m5-1v1m2-1v1m14-1v1m2-1v1m6-1v1m3-1v1m3-1v1m7-1v1m1-1v1m7-1v1m12-1v1m2-1v1m4-1v1m13-1v1m2-1v1m4-1v1m6-1v1m4-1v1m3-1v1m1-1v1m1-1v1m3-1v1m2-1v1m1-1v1m3-1v1m1-1v1m4-1v1m5-1v1m3-1v1m6-1v1m4-1v1m6-1v1m4-1v1m2-1v1m2-1v1m2-1v1m5-1v1m1-1v1"/><path opacity="0.62" d="M5 0v1m2-1v1m4-1v1m12-1v1m3-1v1m1-1v1m1-1v1m6-1v1m9-1v1m13-1v1m11-1v1m4-1v1m1-1v1m8-1v1m7-1v1m13-1v1m2-1v1m15-1v1m12-1v1m6-1v1m1-1v1m11-1v1m16-1v1m8-1v1m1-1v1m4-1v1m1-1v1m20-1v1m3-1v1m1-1v1m3-1v1m7-1v1m15-1v1m13-1v1m2-1v1m1-1v1m14-1v1m18-1v1m2-1v1m1-1v1m3-1v1m5-1v1m11-1v1m3-1v1m1-1v1m2-1v1m6-1v1m7-1v1m12-1v1m16-1v1m1-1v1m3-1v1m2-1v1m3-1v1m5-1v1m13-1v1m7-1v1m4-1v1m1-1v1m10-1v1m6-1v1m8-1v1m7-1v1m1-1v1m2-1v1m1-1v1m2-1v1m1-1v1m1-1v1m1-1v1m9-1v1m6-1v1m2-1v1m12-1v1m1-1v1m1-1v1m11-1v1m4-1v1m16-1v1m15-1v1m6-1v1m3-1v1m10-1v1m6-1v1m2-1v1m2-1v1m35-1v1m2-1v1m9-1v1m13-1v1m1-1v1m3-1v1m2-1v1m18-1v1m1-1v1m2-1v1m18-1v1m1-1v1m6-1v1m5-1v1m1-1v1m3-1v1m1-1v1m4-1v1m1-1v1m18-1v1m7-1v1m6-1v1m11-1v1m2-1v1m4-1v1m1-1v1m6-1v1m3-1v1m6-1v1m3-1v1m2-1v1m18-1v1m2-1v1m4-1v1m1-1v1m1-1v1m2-1v1m2-1v1m1-1v1m13-1v1m1-1v1m1-1v1m2-1v1m1-1v1m4-1v1m2-1v1m2-1v1m3-1v1m1-1v1m2-1v1m1-1v1m7-1v1m5-1v1m4-1v1m3-1v1m1-1v1m9-1v1m2-1v1m1-1v1m6-1v1m5-1v1m6-1v1m1-1v1m4-1v1m1-1v1m2-1v1m2-1v1m2-1v1m3-1v1m2-1v1m4-1v1m2-1v1m2-1v1m2-1v1m1-1v1m16-1v1m10-1v1m1-1v1m4-1v1m4-1v1m9-1v1m13-1v1m3-1v1m10-1v1m5-1v1m12-1v1m12-1v1m2-1v1m2-1v1m4-1v1m1-1v1m3-1v1m7-1v1m1-1v1m1-1v1m6-1v1m10-1v1m2-1v1m5-1v1m3-1v1m8-1v1m1-1v1m3-1v1m14-1v1m5-1v1m1-1v1m1-1v1m1-1v1m10-1v1m7-1v1m13-1v1m1-1v1m2-1v1m4-1v1m3-1v1m5-1v1m2-1v1m2-1v1m6-1v1m7-1v1m12-1v1m4-1v1m1-1v1m1-1v1m5-1v1m1-1v1m1-1v1m4-1v1m5-1v1m3-1v1m5-1v1m11-1v1m1-1v1m4-1v1m3-1v1m6-1v1m12-1v1m2-1v1m3-1v1m12-1v1m2-1v1m1-1v1m2-1v1m9-1v1m22-1v1m22-1v1m6-1v1m12-1v1m1-1v1m4-1v1m3-1v1m3-1v1m1-1v1m2-1v1m1-1v1m2-1v1m2-1v1m1-1v1m7-1v1m7-1v1m8-1v1m2-1v1m1-1v1m7-1v1m2-1v1m20-1v1m4-1v1m4-1v1m1-1v1m4-1v1m13-1v1m1-1v1m1-1v1m5-1v1m24-1v1m7-1v1m3-1v1m3-1v1m2-1v1m2-1v1m2-1v1m1-1v1m3-1v1m8-1v1m3-1v1m1-1v1m13-1v1m16-1v1"/><path opacity="0.82" d="M12 0v1m2-1v1m3-1v1m13-1v1m6-1v1m17-1v1m1-1v1m14-1v1m5-1v1m9-1v1m4-1v1m18-1v1m2-1v1m2-1v1m1-1v1m1-1v1m5-1v1m1-1v1m10-1v1m6-1v1m18-1v1m1-1v1m1-1v1m1-1v1m1-1v1m1-1v1m13-1v1m12-1v1m1-1v1m1-1v1m6-1v1m4-1v1m10-1v1m1-1v1m21-1v1m3-1v1m1-1v1m2-1v1m1-1v1m1-1v1m5-1v1m13-1v1m1-1v1m6-1v1m1-1v1m6-1v1m3-1v1m1-1v1m4-1v1m10-1v1m1-1v1m4-1v1m1-1v1m9-1v1m8-1v1m6-1v1m2-1v1m8-1v1m17-1v1m1-1v1m1-1v1m5-1v1m5-1v1m1-1v1m5-1v1m5-1v1m1-1v1m1-1v1m8-1v1m2-1v1m11-1v1m9-1v1m1-1v1m2-1v1m1-1v1m14-1v1m4-1v1m27-1v1m3-1v1m16-1v1m11-1v1m3-1v1m11-1v1m15-1v1m1-1v1m1-1v1m1-1v1m17-1v1m1-1v1m3-1v1m13-1v1m17-1v1m4-1v1m7-1v1m13-1v1m1-1v1m12-1v1m4-1v1m14-1v1m6-1v1m2-1v1m8-1v1m1-1v1m1-1v1m14-1v1m8-1v1m8-1v1m9-1v1m7-1v1m6-1v1m3-1v1m11-1v1m1-1v1m2-1v1m11-1v1m5-1v1m9-1v1m5-1v1m2-1v1m1-1v1m4-1v1m1-1v1m2-1v1m5-1v1m4-1v1m19-1v1m20-1v1m6-1v1m7-1v1m12-1v1m12-1v1m4-1v1m1-1v1m2-1v1m11-1v1m3-1v1m11-1v1m1-1v1m1-1v1m9-1v1m4-1v1m1-1v1m5-1v1m7-1v1m4-1v1m1-1v1m1-1v1m1-1v1m18-1v1m16-1v1m3-1v1m2-1v1m28-1v1m5-1v1m26-1v1m18-1v1m16-1v1m7-1v1m6-1v1m1-1v1m4-1v1m14-1v1m10-1v1m7-1v1m8-1v1m1-1v1m9-1v1m2-1v1m7-1v1m1-1v1m9-1v1m3-1v1m18-1v1m23-1v1m10-1v1m1-1v1m1-1v1m2-1v1m5-1v1m6-1v1m1-1v1m1-1v1m25-1v1m5-1v1m7-1v1m16-1v1m5-1v1m3-1v1m1-1v1m1-1v1m5-1v1m3-1v1m2-1v1m1-1v1m3-1v1m2-1v1m5-1v1m1-1v1m6-1v1m4-1v1m8-1v1m4-1v1m18-1v1m1-1v1m2-1v1m7-1v1m12-1v1m6-1v1m7-1v1m7-1v1m8-1v1m15-1v1m2-1v1m2-1v1m1-1v1m13-1v1m2-1v1m1-1v1m1-1v1m1-1v1m3-1v1m12-1v1m1-1v1m5-1v1m11-1v1m7-1v1m8-1v1m10-1v1m1-1v1m22-1v1m4-1v1m2-1v1"/><path opacity="1.00" d="M6 0v1m9-1v1m32-1v1m3-1v1m1-1v1m1-1v1m6-1v1m18-1v1m1-1v1m1-1v1m3-1v1m4-1v1m3-1v1m3-1v1m12-1v1m54-1v1m2-1v1m24-1v1m22-1v1m31-1v1m4-1v1m3-1v1m1-1v1m15-1v1m58-1v1m5-1v1m1-1v1m14-1v1m23-1v1m4-1v1m2-1v1m12-1v1m9-1v1m2-1v1m10-1v1m1-1v1m1-1v1m35-1v1m26-1v1m1-1v1m13-1v1m1-1v1m1-1v1m15-1v1m3-1v1m1-1v1m40-1v1m2-1v1m9-1v1m5-1v1m1-1v1m4-1v1m2-1v1m16-1v1m5-1v1m2-1v1m1-1v1m16-1v1m6-1v1m32-1v1m25-1v1m6-1v1m1-1v1m1-1v1m4-1v1m51-1v1m12-1v1m6-1v1m53-1v1m15-1v1m21-1v1m1-1v1m47-1v1m3-1v1m41-1v1m2-1v1m11-1v1m17-1v1m15-1v1m11-1v1m7-1v1m35-1v1m2-1v1m6-1v1m37-1v1m33-1v1m13-1v1m52-1v1m2-1v1m11-1v1m50-1v1m18-1v1m17-1v1m1-1v1m5-1v1m4-1v1m20-1v1m6-1v1m14-1v1m29-1v1m11-1v1m46-1v1m13-1v1m12-1v1m22-1v1m6-1v1m23-1v1"/></g>
<g id="b1" stroke="currentColor" transform="translate(.5)"><path opacity="0.22" d="M45 0v1m69-1v1m1-1v1m1-1v1m2-1v1m1-1v1m58-1v1m24-1v1m7-1v1m5-1v1m1-1v1m33-1v1m7-1v1m2-1v1m103-1v1m1-1v1m1-1v1m32-1v1m10-1v1m1-1v1m5-1v1m12-1v1m15-1v1m14-1v1m5-1v1m1-1v1m8-1v1m1-1v1m1-1v1m1-1v1m5-1v1m160-1v1m2-1v1m10-1v1m1-1v1m1-1v1m1-1v1m17-1v1m1-1v1m12-1v1m1-1v1m1-1v1m2-1v1m1-1v1m33-1v1m1-1v1m1-1v1m25-1v1m9-1v1m1-1v1m1-1v1m11-1v1m1-1v1m83-1v1m41-1v1m3-1v1m1-1v1m1-1v1m1-1v1m1-1v1m1-1v1m2-1v1m1-1v1m5-1v1m8-1v1m1-1v1m107-1v1m90-1v1m8-1v1m1-1v1m1-1v1m1-1v1m1-1v1m1-1v1m1-1v1m1-1v1m1-1v1m1-1v1m1-1v1m1-1v1m1-1v1m1-1v1m37-1v1m12-1v1m1-1v1m5-1v1m1-1v1m1-1v1m10-1v1m13-1v1m1-1v1m75-1v1m1-1v1m1-1v1m1-1v1m66-1v1m5-1v1m3-1v1m11-1v1m1-1v1m1-1v1m5-1v1m3-1v1m1-1v1m65-1v1m3-1v1m11-1v1m13-1v1m1-1v1m1-1v1"/><path opacity="0.42" d="M43 0v1m47-1v1m4-1v1m5-1v1m3-1v1m3-1v1m2-1v1m6-1v1m39-1v1m8-1v1m1-1v1m1-1v1m2-1v1m1-1v1m2-1v1m17-1v1m3-1v1m2-1v1m13-1v1m5-1v1m2-1v1m2-1v1m35-1v1m5-1v1m2-1v1m9-1v1m7-1v1m1-1v1m5-1v1m3-1v1m17-1v1m2-1v1m1-1v1m1-1v1m1-1v1m5-1v1m71-1v1m16-1v1m10-1v1m8-1v1m2-1v1m10-1v1m3-1v1m10-1v1m2-1v1m1-1v1m2-1v1m17-1v1m1-1v1m1-1v1m9-1v1m3-1v1m23-1v1m105-1v1m1-1v1m15-1v1m1-1v1m17-1v1m2-1v1m1-1v1m4-1v1m12-1v1m23-1v1m12-1v1m1-1v1m1-1v1m1-1v1m1-1v1m8-1v1m23-1v1m22-1v1m1-1v1m9-1v1m1-1v1m8-1v1m5-1v1m1-1v1m90-1v1m1-1v1m2-1v1m8-1v1m10-1v1m4-1v1m14-1v1m4-1v1m1-1v1m1-1v1m2-1v1m1-1v1m3-1v1m1-1v1m1-1v1m8-1v1m25-1v1m1-1v1m48-1v1m1-1v1m1-1v1m54-1v1m42-1v1m5-1v1m2-1v1m10-1v1m1-1v1m3-1v1m57-1v1m1-1v1m15-1v1m28-1v1m49-1v1m29-1v1m2-1v1m1-1v1m60-1v1m1-1v1m10-1v1m3-1v1m1-1v1m2-1v1m7-1v1m1-1v1m1-1v1m3-1v1m1-1v1m5-1v1m2-1v1m12-1v1m1-1v1m5-1v1m4-1v1m36-1v1m1-1v1m2-1v1m12-1v1m3-1v1m1-1v1m1-1v1m2-1v1"/><path opacity="0.62" d="M3 0v1m6-1v1m2-1v1m2-1v1m1-1v1m1-1v1m8-1v1m2-1v1m1-1v1m1-1v1m17-1v1m45-1v1m2-1v1m2-1v1m2-1v1m2-1v1m3-1v1m1-1v1m2-1v1m1-1v1m2-1v1m2-1v1m1-1v1m8-1v1m46-1v1m3-1v1m14-1v1m1-1v1m1-1v1m1-1v1m2-1v1m3-1v1m2-1v1m1-1v1m3-1v1m4-1v1m1-1v1m4-1v1m2-1v1m1-1v1m4-1v1m45-1v1m8-1v1m1-1v1m3-1v1m4-1v1m1-1v1m1-1v1m3-1v1m3-1v1m1-1v1m13-1v1m1-1v1m18-1v1m3-1v1m40-1v1m22-1v1m6-1v1m1-1v1m1-1v1m4-1v1m1-1v1m1-1v1m32-1v1m3-1v1m1-1v1m21-1v1m13-1v1m12-1v1m17-1v1m1-1v1m2-1v1m2-1v1m91-1v1m5-1v1m4-1v1m1-1v1m2-1v1m3-1v1m3-1v1m3-1v1m1-1v1m4-1v1m1-1v1m1-1v1m8-1v1m2-1v1m1-1v1m1-1v1m11-1v1m13-1v1m1-1v1m2-1v1m21-1v1m2-1v1m8-1v1m2-1v1m7-1v1m1-1v1m6-1v1m1-1v1m1-1v1m2-1v1m1-1v1m1-1v1m1-1v1m2-1v1m2-1v1m2-1v1m5-1v1m11-1v1m1-1v1m9-1v1m4-1v1m4-1v1m9-1v1m4-1v1m6-1v1m1-1v1m5-1v1m1-1v1m1-1v1m46-1v1m2-1v1m11-1v1m18-1v1m2-1v1m8-1v1m4-1v1m1-1v1m2-1v1m1-1v1m2-1v1m1-1v1m1-1v1m5-1v1m1-1v1m2-1v1m1-1v1m1-1v1m2-1v1m5-1v1m1-1v1m17-1v1m1-1v1m6-1v1m1-1v1m2-1v1m1-1v1m2-1v1m1-1v1m15-1v1m2-1v1m109-1v1m3-1v1m2-1v1m13-1v1m1-1v1m2-1v1m1-1v1m10-1v1m3-1v1m1-1v1m1-1v1m2-1v1m2-1v1m1-1v1m1-1v1m2-1v1m3-1v1m2-1v1m8-1v1m6-1v1m34-1v1m9-1v1m2-1v1m2-1v1m1-1v1m1-1v1m1-1v1m1-1v1m4-1v1m5-1v1m1-1v1m2-1v1m1-1v1m1-1v1m1-1v1m2-1v1m3-1v1m9-1v1m3-1v1m6-1v1m1-1v1m1-1v1m6-1v1m53-1v1m8-1v1m1-1v1m1-1v1m12-1v1m9-1v1m59-1v1m2-1v1m6-1v1m11-1v1m11-1v1m7-1v1m2-1v1m2-1v1m1-1v1m4-1v1m1-1v1m1-1v1m54-1v1m7-1v1m1-1v1m5-1v1m4-1v1m2-1v1"/><path opacity="0.82" d="M1 0v1m1-1v1m2-1v1m6-1v1m2-1v1m8-1v1m1-1v1m3-1v1m68-1v1m4-1v1m2-1v1m94-1v1m1-1v1m11-1v1m12-1v1m1-1v1m2-1v1m49-1v1m9-1v1m12-1v1m2-1v1m1-1v1m14-1v1m5-1v1m3-1v1m39-1v1m27-1v1m2-1v1m12-1v1m2-1v1m11-1v1m6-1v1m3-1v1m8-1v1m21-1v1m1-1v1m3-1v1m4-1v1m1-1v1m6-1v1m9-1v1m8-1v1m15-1v1m4-1v1m29-1v1m59-1v1m1-1v1m2-1v1m2-1v1m1-1v1m2-1v1m2-1v1m3-1v1m13-1v1m1-1v1m7-1v1m2-1v1m1-1v1m6-1v1m1-1v1m1-1v1m9-1v1m16-1v1m15-1v1m3-1v1m31-1v1m5-1v1m6-1v1m5-1v1m21-1v1m6-1v1m12-1v1m3-1v1m1-1v1m13-1v1m46-1v1m6-1v1m7-1v1m4-1v1m4-1v1m1-1v1m7-1v1m2-1v1m2-1v1m3-1v1m6-1v1m1-1v1m10-1v1m43-1v1m6-1v1m3-1v1m8-1v1m2-1v1m2-1v1m5-1v1m1-1v1m102-1v1m1-1v1m2-1v1m10-1v1m6-1v1m21-1v1m14-1v1m3-1v1m1-1v1m1-1v1m39-1v1m8-1v1m1-1v1m1-1v1m2-1v1m2-1v1m6-1v1m1-1v1m1-1v1m2-1v1m6-1v1m11-1v1m5-1v1m3-1v1m7-1v1m6-1v1m1-1v1m1-1v1m2-1v1m64-1v1m1-1v1m1-1v1m1-1v1m1-1v1m1-1v1m2-1v1m1-1v1m1-1v1m4-1v1m63-1v1m1-1v1m2-1v1m8-1v1m2-1v1m33-1v1m5-1v1m1-1v1"/><path opacity="1.00" d="M5 0v1m76-1v1m4-1v1m1-1v1m1-1v1m1-1v1m107-1v1m1-1v1m1-1v1m3-1v1m74-1v1m39-1v1m41-1v1m27-1v1m14-1v1m2-1v1m1-1v1m1-1v1m1-1v1m5-1v1m1-1v1m26-1v1m11-1v1m1-1v1m18-1v1m1-1v1m7-1v1m64-1v1m1-1v1m1-1v1m52-1v1m17-1v1m14-1v1m4-1v1m7-1v1m1-1v1m8-1v1m2-1v1m1-1v1m1-1v1m13-1v1m1-1v1m1-1v1m1-1v1m1-1v1m1-1v1m5-1v1m1-1v1m1-1v1m2-1v1m1-1v1m25-1v1m1-1v1m13-1v1m2-1v1m47-1v1m17-1v1m61-1v1m18-1v1m1-1v1m2-1v1m28-1v1m1-1v1m1-1v1m36-1v1m1-1v1m2-1v1m6-1v1m127-1v1m21-1v1m1-1v1m6-1v1m6-1v1m1-1v1m6-1v1m1-1v1m41-1v1m2-1v1m2-1v1m1-1v1m1-1v1m1-1v1m34-1v1m7-1v1m3-1v1m2-1v1m8-1v1m1-1v1m63-1v1m1-1v1m11-1v1m5-1v1m1-1v1m10-1v1m50-1v1m1-1v1m17-1v1m33-1v1m63-1v1"/></g>
<g id="s0" stroke="currentColor" transform="translate(.5)"><path opacity="0.42" d="M12 0v1m133-1v1m5-1v1m145-1v1m84-1v1m1-1v1m83-1v1m151-1v1m281-1v1m266-1v1m47-1v1m29-1v1m1-1v1m131-1v1"/><path opacity="0.62" d="M228 0v1m36-1v1m23-1v1m1-1v1m96-1v1m222-1v1m1-1v1m85-1v1m1-1v1m63-1v1m117-1v1m1-1v1m4-1v1m1-1v1m25-1v1m1-1v1m25-1v1m65-1v1m1-1v1"/><path opacity="0.82" d="M81 0v1m1-1v1m196-1v1m1-1v1m25-1v1m192-1v1m1-1v1m125-1v1m7-1v1m7-1v1m281-1v1m1-1v1m8-1v1m317-1v1m9-1v1m84-1v1m6-1v1m1-1v1m5-1v1m38-1v1m1-1v1m57-1v1m1-1v1"/><path opacity="1.00" d="M8 0v1m1-1v1m65-1v1m1-1v1m55-1v1m6-1v1m1-1v1m18-1v1m105-1v1m11-1v1m1-1v1m121-1v1m1-1v1m174-1v1m1-1v1m6-1v1m6-1v1m9-1v1m1-1v1m8-1v1m98-1v1m108-1v1m4-1v1m77-1v1m1-1v1m21-1v1m96-1v1m1-1v1m74-1v1m1-1v1m137-1v1m9-1v1m5-1v1m30-1v1m1-1v1m94-1v1m1-1v1m3-1v1m18-1v1m13-1v1m1-1v1"/></g>
<g id="s1" stroke="currentColor" transform="translate(.5)"><path opacity="0.42" d="M26 0v1m1-1v1m199-1v1m87-1v1m1-1v1m222-1v1m166-1v1m153-1v1m196-1v1m1-1v1m100-1v1m76-1v1m47-1v1m1-1v1"/><path opacity="0.62" d="M34 0v1m1-1v1m168-1v1m33-1v1m183-1v1m32-1v1m114-1v1m1-1v1m49-1v1m493-1v1m26-1v1m13-1v1m149-1v1m1-1v1m45-1v1m1-1v1"/><path opacity="0.82" d="M48 0v1m7-1v1m1-1v1m184-1v1m1-1v1m63-1v1m125-1v1m6-1v1m1-1v1m20-1v1m295-1v1m1-1v1m203-1v1m90-1v1m1-1v1m119-1v1"/><path opacity="1.00" d="M14 0v1m4-1v1m12-1v1m10-1v1m21-1v1m1-1v1m4-1v1m43-1v1m4-1v1m8-1v1m64-1v1m1-1v1m8-1v1m1-1v1m16-1v1m1-1v1m8-1v1m11-1v1m78-1v1m1-1v1m29-1v1m85-1v1m18-1v1m99-1v1m1-1v1m77-1v1m1-1v1m75-1v1m1-1v1m14-1v1m119-1v1m89-1v1m1-1v1m29-1v1m1-1v1m14-1v1m177-1v1m18-1v1m11-1v1m1-1v1m53-1v1m77-1v1m118-1v1m1-1v1"/></g>
<g id="s2" stroke="currentColor" transform="translate(.5)"><path opacity="0.42" d="M283 0v1m299-1v1m393-1v1m1-1v1m129-1v1m52-1v1m84-1v1m162-1v1m37-1v1m7-1v1m1-1v1"/><path opacity="0.62" d="M162 0v1m73-1v1m1-1v1m25-1v1m256-1v1m1-1v1m208-1v1m64-1v1m1-1v1m7-1v1m138-1v1m48-1v1m253-1v1m67-1v1m1-1v1m8-1v1m41-1v1m1-1v1"/><path opacity="0.82" d="M93 0v1m277-1v1m1-1v1m190-1v1m5-1v1m1-1v1m8-1v1m76-1v1m1-1v1m154-1v1m57-1v1m77-1v1m113-1v1m61-1v1m280-1v1m16-1v1"/><path opacity="1.00" d="M20 0v1m53-1v1m1-1v1m5-1v1m9-1v1m1-1v1m10-1v1m69-1v1m1-1v1m283-1v1m1-1v1m3-1v1m1-1v1m4-1v1m1-1v1m108-1v1m1-1v1m73-1v1m1-1v1m300-1v1m1-1v1m43-1v1m5-1v1m1-1v1m52-1v1m1-1v1m62-1v1m68-1v1m4-1v1m1-1v1m50-1v1"/></g>
<g id="s3" stroke="currentColor" transform="translate(.5)"><path opacity="0.42" d="M66 0v1m1-1v1m61-1v1m1-1v1m49-1v1m135-1v1m1-1v1m213-1v1m12-1v1m45-1v1m1-1v1m81-1v1m61-1v1m22-1v1m98-1v1m94-1v1m120-1v1m5-1v1m45-1v1m154-1v1m1-1v1"/><path opacity="0.62" d="M118 0v1m887-1v1m1-1v1m264-1v1m66-1v1m74-1v1m9-1v1m1-1v1m24-1v1m1-1v1"/><path opacity="0.82" d="M13 0v1m1-1v1m250-1v1m329-1v1m1-1v1m94-1v1m1-1v1m55-1v1m265-1v1m106-1v1m1-1v1m36-1v1m62-1v1m118-1v1m1-1v1m10-1v1m80-1v1"/><path opacity="1.00" d="M7 0v1m117-1v1m1-1v1m47-1v1m30-1v1m1-1v1m8-1v1m5-1v1m132-1v1m88-1v1m1-1v1m4-1v1m1-1v1m7-1v1m1-1v1m63-1v1m8-1v1m12-1v1m92-1v1m72-1v1m1-1v1m33-1v1m1-1v1m3-1v1m18-1v1m7-1v1m1-1v1m169-1v1m1-1v1m6-1v1m136-1v1m1-1v1m136-1v1m1-1v1m32-1v1m1-1v1m6-1v1m1-1v1m7-1v1m1-1v1m19-1v1m4-1v1m69-1v1m1-1v1m5-1v1m43-1v1m1-1v1m3-1v1m27-1v1m9-1v1"/></g>
<g id="s4" stroke="currentColor" transform="translate(.5)"><path opacity="0.62" d="M3 0v1m1-1v1m1-1v1m43-1v1m1-1v1m41-1v1m40-1v1m1-1v1m1-1v1m1-1v1m1-1v1m43-1v1m1-1v1m96-1v1m1-1v1m50-1v1m49-1v1m388-1v1m43-1v1m1-1v1m96-1v1m1-1v1m1-1v1m1-1v1m1-1v1m45-1v1m1-1v1m1-1v1m1-1v1m1-1v1m66-1v1m1-1v1m1-1v1m1-1v1m1-1v1m210-1v1m1-1v1m78-1v1m1-1v1m12-1v1m141-1v1"/><path opacity="0.82" d="M87 0v1m1-1v1m1-1v1m1-1v1m1-1v1m7-1v1m83-1v1m1-1v1m1-1v1m1-1v1m1-1v1m6-1v1m17-1v1m280-1v1m1-1v1m74-1v1m76-1v1m1-1v1m1-1v1m255-1v1m120-1v1m156-1v1m1-1v1m147-1v1m1-1v1m14-1v1m1-1v1m1-1v1m66-1v1"/><path opacity="1.00" d="M10 0v1m175-1v1m1-1v1m70-1v1m1-1v1m25-1v1m4-1v1m1-1v1m5-1v1m40-1v1m1-1v1m1-1v1m1-1v1m1-1v1m98-1v1m1-1v1m58-1v1m1-1v1m1-1v1m18-1v1m1-1v1m77-1v1m1-1v1m3-1v1m1-1v1m1-1v1m6-1v1m1-1v1m83-1v1m1-1v1m4-1v1m1-1v1m31-1v1m1-1v1m25-1v1m1-1v1m1-1v1m2-1v1m70-1v1m1-1v1m1-1v1m1-1v1m1-1v1m0-1v1m1-1v1m54-1v1m8-1v1m1-1v1m1-1v1m1-1v1m1-1v1m29-1v1m68-1v1m5-1v1m1-1v1m1-1v1m1-1v1m1-1v1m76-1v1m1-1v1m43-1v1m55-1v1m1-1v1m1-1v1m52-1v1m1-1v1m1-1v1m55-1v1m1-1v1m55-1v1m5-1v1m1-1v1m5-1v1m1-1v1m1-1v1m42-1v1m1-1v1m9-1v1m68-1v1"/></g>
</defs>
<rect width="1779" height="1226" fill="#000"/>
<g clip-path="url(#ax)" shape-rendering="crispEdges">
<rect x="203" y="108" width="1491" height="955" fill="#00224e"/>
<rect x="203" y="119" width="1491" height="5" fill="#003070"/>
<use href="#k5" transform="translate(203,119) scale(1,5)" color="#00224e" opacity="0.67"/>
<use href="#l0" transform="translate(203,119) scale(1,5)" color="#6e6f74" opacity="0.22"/>
<rect x="203" y="124" width="1491" height="5" fill="#003070"/>
<use href="#k4" transform="translate(203,124) scale(1,5)" color="#00224e" opacity="0.80"/>
<use href="#l3" transform="translate(203,124) scale(1,5)" color="#6e6f74" opacity="0.22"/>
<rect x="203" y="129" width="1491" height="4" fill="#013271"/>
<use href="#k3" transform="translate(203,129) scale(1,4)" color="#00224e" opacity="0.62"/>
<use href="#n2" transform="translate(1694,129) scale(-1,4)" color="#6e6f74" opacity="0.45"/>
<rect x="203" y="133" width="1491" height="5" fill="#003171"/>
<use href="#k2" transform="translate(203,133) scale(1,5)" color="#00224e" opacity="0.59"/>
<use href="#n9" transform="translate(1694,133) scale(-1,5)" color="#6e6f74" opacity="0.39"/>
<rect x="203" y="138" width="1491" height="5" fill="#003070"/>
<use href="#k1" transform="translate(1694,138) scale(-1,5)" color="#00224e" opacity="0.77"/>
<use href="#l0" transform="translate(1694,138) scale(-1,5)" color="#6e6f74" opacity="0.29"/>
<rect x="203" y="143" width="1491" height="5" fill="#002a61"/>
<use href="#k0" transform="translate(1694,143) scale(-1,5)" color="#00224e" opacity="0.79"/>
<use href="#l3" transform="translate(1694,143) scale(-1,5)" color="#6e6f74" opacity="0.19"/>
<rect x="203" y="148" width="1491" height="4" fill="#003070"/>
<use href="#k5" transform="translate(1694,148) scale(-1,4)" color="#00224e" opacity="0.80"/>
<use href="#l2" transform="translate(203,148) scale(1,4)" color="#6e6f74" opacity="0.34"/>
<rect x="203" y="152" width="1491" height="5" fill="#003070"/>
<use href="#k4" transform="translate(1694,152) scale(-1,5)" color="#00224e" opacity="0.82"/>
<use href="#l1" transform="translate(203,152) scale(1,5)" color="#6e6f74" opacity="0.22"/>
<rect x="203" y="157" width="1491" height="5" fill="#00306f"/>
<use href="#k3" transform="translate(1694,157) scale(-1,5)" color="#00224e" opacity="0.77"/>
<use href="#l0" transform="translate(203,157) scale(1,5)" color="#6e6f74" opacity="0.21"/>
<rect x="203" y="162" width="1491" height="5" fill="#053371"/>
<use href="#n4" transform="translate(1694,162) scale(-1,5)" color="#00224e" opacity="0.45"/>
<use href="#n1" transform="translate(1694,162) scale(-1,5)" color="#6e6f74" opacity="0.60"/>
<rect x="203" y="167" width="1491" height="4" fill="#053371"/>
<use href="#n7" transform="translate(203,167) scale(1,4)" color="#00224e" opacity="0.45"/>
<use href="#n8" transform="translate(203,167) scale(1,4)" color="#6e6f74" opacity="0.60"/>
<rect x="203" y="171" width="1491" height="5" fill="#003170"/>
<use href="#k0" transform="translate(203,171) scale(1,5)" color="#00224e" opacity="0.66"/>
<use href="#l1" transform="translate(1694,171) scale(-1,5)" color="#6e6f74" opacity="0.25"/>
<rect x="203" y="176" width="1491" height="5" fill="#003170"/>
<use href="#k5" transform="translate(203,176) scale(1,5)" color="#00224e" opacity="0.54"/>
<use href="#n2" transform="translate(203,176) scale(1,5)" color="#6e6f74" opacity="0.37"/>
<rect x="203" y="181" width="1491" height="5" fill="#002f6d"/>
<use href="#n6" transform="translate(1694,181) scale(-1,5)" color="#00224e" opacity="0.55"/>
<use href="#n9" transform="translate(1694,181) scale(-1,5)" color="#6e6f74" opacity="0.20"/>
<use href="#s0" transform="translate(203,181) scale(1,5)" color="#b5ad88" opacity="0.25"/>
<rect x="203" y="186" width="1491" height="4" fill="#002f6d"/>
<use href="#n9" transform="translate(203,186) scale(1,4)" color="#00224e" opacity="0.55"/>
<use href="#n6" transform="translate(1694,186) scale(-1,4)" color="#6e6f74" opacity="0.18"/>
<use href="#s0" transform="translate(203,186) scale(1,4)" color="#b5ad88" opacity="0.60"/>
<rect x="203" y="190" width="1491" height="5" fill="#002f6d"/>
<use href="#n2" transform="translate(203,190) scale(1,5)" color="#00224e" opacity="0.55"/>
<use href="#n3" transform="translate(1694,190) scale(-1,5)" color="#6e6f74" opacity="0.18"/>
<use href="#s0" transform="translate(203,190) scale(1,5)" color="#b5ad88" opacity="0.60"/>
<rect x="203" y="195" width="1491" height="5" fill="#002c64"/>
<use href="#k1" transform="translate(1694,195) scale(-1,5)" color="#00224e" opacity="0.83"/>
<use href="#l0" transform="translate(203,195) scale(1,5)" color="#6e6f74" opacity="0.17"/>
<rect x="203" y="200" width="1491" height="5" fill="#002a61"/>
<use href="#k0" transform="translate(1694,200) scale(-1,5)" color="#00224e" opacity="0.87"/>
<use href="#l3" transform="translate(203,200) scale(1,5)" color="#6e6f74" opacity="0.19"/>
<rect x="203" y="205" width="1491" height="4" fill="#002b62"/>
<use href="#k5" transform="translate(1694,205) scale(-1,4)" color="#00224e" opacity="0.84"/>
<use href="#l2" transform="translate(1694,205) scale(-1,4)" color="#6e6f74" opacity="0.15"/>
<rect x="203" y="209" width="1491" height="5" fill="#003070"/>
<use href="#k4" transform="translate(1694,209) scale(-1,5)" color="#00224e" opacity="0.76"/>
<use href="#l1" transform="translate(1694,209) scale(-1,5)" color="#6e6f74" opacity="0.31"/>
<rect x="203" y="214" width="1491" height="5" fill="#002c64"/>
<use href="#k3" transform="translate(1694,214) scale(-1,5)" color="#00224e" opacity="0.80"/>
<use href="#l0" transform="translate(1694,214) scale(-1,5)" color="#6e6f74" opacity="0.19"/>
<rect x="203" y="219" width="1491" height="5" fill="#00306f"/>
<use href="#k2" transform="translate(1694,219) scale(-1,5)" color="#00224e" opacity="0.72"/>
<use href="#l3" transform="translate(1694,219) scale(-1,5)" color="#6e6f74" opacity="0.30"/>
<rect x="203" y="224" width="1491" height="4" fill="#00306f"/>
<use href="#k1" transform="translate(203,224) scale(1,4)" color="#00224e" opacity="0.71"/>
<use href="#l2" transform="translate(203,224) scale(1,4)" color="#6e6f74" opacity="0.31"/>
<rect x="203" y="228" width="1491" height="5" fill="#545a6d"/>
<use href="#n3" transform="translate(203,228) scale(1,5)" color="#16366f" opacity="0.55"/>
<use href="#b0" transform="translate(203,228) scale(1,5)" color="#a39d86" opacity="0.55"/>
<rect x="203" y="233" width="1491" height="5" fill="#545a6d"/>
<use href="#n3" transform="translate(203,233) scale(1,5)" color="#16366f" opacity="0.55"/>
<use href="#b0" transform="translate(203,233) scale(1,5)" color="#a39d86" opacity="0.55"/>
<rect x="203" y="238" width="1491" height="5" fill="#002a61"/>
<use href="#k4" transform="translate(203,238) scale(1,5)" color="#00224e" opacity="0.89"/>
<use href="#l3" transform="translate(203,238) scale(1,5)" color="#6e6f74" opacity="0.14"/>
<rect x="203" y="243" width="1491" height="4" fill="#003070"/>
<use href="#k3" transform="translate(203,243) scale(1,4)" color="#00224e" opacity="0.81"/>
<use href="#l2" transform="translate(1694,243) scale(-1,4)" color="#6e6f74" opacity="0.33"/>
<rect x="203" y="247" width="1491" height="5" fill="#003170"/>
<use href="#k2" transform="translate(203,247) scale(1,5)" color="#00224e" opacity="0.50"/>
<use href="#n7" transform="translate(1694,247) scale(-1,5)" color="#6e6f74" opacity="0.47"/>
<rect x="203" y="252" width="1491" height="5" fill="#002f6d"/>
<use href="#k1" transform="translate(1694,252) scale(-1,5)" color="#00224e" opacity="0.73"/>
<use href="#l0" transform="translate(1694,252) scale(-1,5)" color="#6e6f74" opacity="0.22"/>
<rect x="203" y="257" width="1491" height="5" fill="#002a61"/>
<use href="#k0" transform="translate(1694,257) scale(-1,5)" color="#00224e" opacity="0.79"/>
<use href="#l3" transform="translate(1694,257) scale(-1,5)" color="#6e6f74" opacity="0.09"/>
<rect x="203" y="262" width="1491" height="4" fill="#003170"/>
<use href="#k5" transform="translate(1694,262) scale(-1,4)" color="#00224e" opacity="0.59"/>
<use href="#n8" transform="translate(203,262) scale(1,4)" color="#6e6f74" opacity="0.47"/>
<rect x="203" y="266" width="1491" height="5" fill="#00306f"/>
<use href="#k4" transform="translate(1694,266) scale(-1,5)" color="#00224e" opacity="0.74"/>
<use href="#l1" transform="translate(203,266) scale(1,5)" color="#6e6f74" opacity="0.28"/>
<rect x="203" y="271" width="1491" height="5" fill="#003171"/>
<use href="#k3" transform="translate(1694,271) scale(-1,5)" color="#00224e" opacity="0.54"/>
<use href="#n2" transform="translate(1694,271) scale(-1,5)" color="#6e6f74" opacity="0.37"/>
<rect x="203" y="276" width="1491" height="5" fill="#003170"/>
<use href="#k2" transform="translate(1694,276) scale(-1,5)" color="#00224e" opacity="0.47"/>
<use href="#n9" transform="translate(1694,276) scale(-1,5)" color="#6e6f74" opacity="0.39"/>
<rect x="203" y="281" width="1491" height="4" fill="#002f6d"/>
<use href="#k1" transform="translate(203,281) scale(1,4)" color="#00224e" opacity="0.73"/>
<use href="#l2" transform="translate(1694,281) scale(-1,4)" color="#6e6f74" opacity="0.30"/>
<rect x="203" y="285" width="1491" height="5" fill="#002c64"/>
<use href="#k0" transform="translate(203,285) scale(1,5)" color="#00224e" opacity="0.72"/>
<use href="#l1" transform="translate(1694,285) scale(-1,5)" color="#6e6f74" opacity="0.11"/>
<rect x="203" y="290" width="1491" height="5" fill="#003070"/>
<use href="#k5" transform="translate(203,290) scale(1,5)" color="#00224e" opacity="0.83"/>
<use href="#l0" transform="translate(1694,290) scale(-1,5)" color="#6e6f74" opacity="0.34"/>
<rect x="203" y="295" width="1491" height="5" fill="#002b62"/>
<use href="#k4" transform="translate(203,295) scale(1,5)" color="#00224e" opacity="0.76"/>
<use href="#l3" transform="translate(1694,295) scale(-1,5)" color="#6e6f74" opacity="0.08"/>
<rect x="203" y="300" width="1491" height="4" fill="#002f6d"/>
<use href="#k3" transform="translate(203,300) scale(1,4)" color="#00224e" opacity="0.66"/>
<use href="#l2" transform="translate(203,300) scale(1,4)" color="#6e6f74" opacity="0.28"/>
<rect x="203" y="304" width="1491" height="5" fill="#002c64"/>
<use href="#k2" transform="translate(203,304) scale(1,5)" color="#00224e" opacity="0.80"/>
<use href="#l1" transform="translate(203,304) scale(1,5)" color="#6e6f74" opacity="0.10"/>
<rect x="203" y="309" width="1491" height="5" fill="#003170"/>
<use href="#k1" transform="translate(1694,309) scale(-1,5)" color="#00224e" opacity="0.48"/>
<use href="#n8" transform="translate(203,309) scale(1,5)" color="#6e6f74" opacity="0.46"/>
<rect x="203" y="314" width="1491" height="5" fill="#002a61"/>
<use href="#k0" transform="translate(1694,314) scale(-1,5)" color="#00224e" opacity="0.88"/>
<use href="#l3" transform="translate(203,314) scale(1,5)" color="#6e6f74" opacity="0.11"/>
<rect x="203" y="319" width="1491" height="4" fill="#002a5f"/>
<use href="#k5" transform="translate(1694,319) scale(-1,4)" color="#00224e" opacity="0.82"/>
<use href="#l2" transform="translate(1694,319) scale(-1,4)" color="#6e6f74" opacity="0.18"/>
<rect x="203" y="323" width="1491" height="5" fill="#003070"/>
<use href="#k4" transform="translate(1694,323) scale(-1,5)" color="#00224e" opacity="0.75"/>
<use href="#l1" transform="translate(1694,323) scale(-1,5)" color="#6e6f74" opacity="0.23"/>
<rect x="203" y="328" width="1491" height="5" fill="#002c64"/>
<use href="#k3" transform="translate(1694,328) scale(-1,5)" color="#00224e" opacity="0.73"/>
<use href="#l0" transform="translate(1694,328) scale(-1,5)" color="#6e6f74" opacity="0.11"/>
<rect x="203" y="333" width="1491" height="5" fill="#002a61"/>
<use href="#k2" transform="translate(1694,333) scale(-1,5)" color="#00224e" opacity="0.78"/>
<use href="#l3" transform="translate(1694,333) scale(-1,5)" color="#6e6f74" opacity="0.13"/>
<rect x="203" y="338" width="1491" height="4" fill="#002c64"/>
<use href="#k1" transform="translate(203,338) scale(1,4)" color="#00224e" opacity="0.77"/>
<use href="#l2" transform="translate(203,338) scale(1,4)" color="#6e6f74" opacity="0.21"/>
<rect x="203" y="342" width="1491" height="5" fill="#003070"/>
<use href="#k0" transform="translate(203,342) scale(1,5)" color="#00224e" opacity="0.82"/>
<use href="#l1" transform="translate(203,342) scale(1,5)" color="#6e6f74" opacity="0.34"/>
<rect x="203" y="347" width="1491" height="5" fill="#083370"/>
<use href="#n1" transform="translate(1694,347) scale(-1,5)" color="#00224e" opacity="0.45"/>
<use href="#n4" transform="translate(203,347) scale(1,5)" color="#6e6f74" opacity="0.55"/>
<rect x="203" y="352" width="1491" height="5" fill="#003170"/>
<use href="#n6" transform="translate(203,352) scale(1,5)" color="#00224e" opacity="0.40"/>
<use href="#b1" transform="translate(203,352) scale(1,5)" color="#99937f" opacity="0.62"/>
<rect x="203" y="357" width="1491" height="5" fill="#00306f"/>
<use href="#k3" transform="translate(203,357) scale(1,5)" color="#00224e" opacity="0.76"/>
<use href="#l2" transform="translate(1694,357) scale(-1,5)" color="#6e6f74" opacity="0.22"/>
<rect x="203" y="362" width="1491" height="4" fill="#002a61"/>
<use href="#k2" transform="translate(203,362) scale(1,4)" color="#00224e" opacity="0.75"/>
<use href="#l1" transform="translate(1694,362) scale(-1,4)" color="#6e6f74" opacity="0.07"/>
<rect x="203" y="366" width="1491" height="5" fill="#013271"/>
<use href="#k1" transform="translate(1694,366) scale(-1,5)" color="#00224e" opacity="0.63"/>
<use href="#n2" transform="translate(203,366) scale(1,5)" color="#6e6f74" opacity="0.42"/>
<rect x="203" y="371" width="1491" height="5" fill="#002a61"/>
<use href="#k0" transform="translate(1694,371) scale(-1,5)" color="#00224e" opacity="0.73"/>
<use href="#l3" transform="translate(1694,371) scale(-1,5)" color="#6e6f74" opacity="0.21"/>
<rect x="203" y="499" width="1491" height="5" fill="#002d68"/>
<use href="#n7" transform="translate(1694,499) scale(-1,5)" color="#00224e" opacity="0.85"/>
<use href="#n8" transform="translate(1694,499) scale(-1,5)" color="#6e6f74" opacity="0.06"/>
<rect x="203" y="504" width="1491" height="5" fill="#00306f"/>
<use href="#n0" transform="translate(1694,504) scale(-1,5)" color="#00224e" opacity="0.35"/>
<use href="#n5" transform="translate(1694,504) scale(-1,5)" color="#6e6f74" opacity="0.06"/>
<rect x="203" y="509" width="1491" height="5" fill="#00306f"/>
<use href="#n3" transform="translate(203,509) scale(1,5)" color="#00224e" opacity="0.35"/>
<use href="#n2" transform="translate(203,509) scale(1,5)" color="#6e6f74" opacity="0.08"/>
<rect x="203" y="514" width="1491" height="4" fill="#002f6d"/>
<use href="#n6" transform="translate(203,514) scale(1,4)" color="#00224e" opacity="0.55"/>
<use href="#n9" transform="translate(203,514) scale(1,4)" color="#6e6f74" opacity="0.10"/>
<rect x="203" y="518" width="1491" height="5" fill="#002f6d"/>
<use href="#n9" transform="translate(1694,518) scale(-1,5)" color="#00224e" opacity="0.55"/>
<use href="#n6" transform="translate(203,518) scale(1,5)" color="#6e6f74" opacity="0.14"/>
<rect x="203" y="523" width="1491" height="5" fill="#00306f"/>
<use href="#n2" transform="translate(1694,523) scale(-1,5)" color="#00224e" opacity="0.35"/>
<use href="#n3" transform="translate(1694,523) scale(-1,5)" color="#6e6f74" opacity="0.20"/>
<rect x="203" y="528" width="1491" height="5" fill="#002a61"/>
<use href="#n5" transform="translate(203,528) scale(1,5)" color="#00224e" opacity="0.30"/>
<use href="#n0" transform="translate(1694,528) scale(-1,5)" color="#6e6f74" opacity="0.08"/>
<rect x="203" y="590" width="1491" height="5" fill="#002d68"/>
<use href="#n4" transform="translate(203,590) scale(1,5)" color="#00224e" opacity="0.70"/>
<use href="#n1" transform="translate(1694,590) scale(-1,5)" color="#6e6f74" opacity="0.40"/>
<rect x="203" y="595" width="1491" height="4" fill="#273e6e"/>
<use href="#n7" transform="translate(1694,595) scale(-1,4)" color="#0a3070" opacity="0.55"/>
<use href="#n8" transform="translate(203,595) scale(1,4)" color="#6e6f74" opacity="0.55"/>
<rect x="203" y="599" width="1491" height="5" fill="#3b496c"/>
<use href="#n0" transform="translate(1694,599) scale(-1,5)" color="#0a3070" opacity="0.55"/>
<use href="#n5" transform="translate(203,599) scale(1,5)" color="#6e6f74" opacity="0.55"/>
<rect x="203" y="604" width="1491" height="5" fill="#595e6e"/>
<use href="#n3" transform="translate(203,604) scale(1,5)" color="#0a3070" opacity="0.55"/>
<use href="#n2" transform="translate(203,604) scale(1,5)" color="#b3ab88" opacity="0.55"/>
<rect x="203" y="609" width="1491" height="5" fill="#002e6c"/>
<use href="#n6" transform="translate(203,609) scale(1,5)" color="#00224e" opacity="0.60"/>
<use href="#n9" transform="translate(1694,609) scale(-1,5)" color="#6e6f74" opacity="0.45"/>
<rect x="203" y="614" width="1491" height="4" fill="#00306f"/>
<use href="#k3" transform="translate(1694,614) scale(-1,4)" color="#00224e" opacity="0.80"/>
<use href="#l0" transform="translate(203,614) scale(1,4)" color="#6e6f74" opacity="0.24"/>
<rect x="203" y="618" width="1491" height="5" fill="#003170"/>
<use href="#k2" transform="translate(1694,618) scale(-1,5)" color="#00224e" opacity="0.71"/>
<use href="#l3" transform="translate(203,618) scale(1,5)" color="#6e6f74" opacity="0.33"/>
<rect x="203" y="623" width="1491" height="5" fill="#4f576c"/>
<use href="#n5" transform="translate(203,623) scale(1,5)" color="#0a3070" opacity="0.30"/>
<use href="#n0" transform="translate(203,623) scale(1,5)" color="#6e6f74" opacity="0.30"/>
<rect x="203" y="628" width="1491" height="5" fill="#62656f"/>
<use href="#n8" transform="translate(203,628) scale(1,5)" color="#0a3070" opacity="0.30"/>
<use href="#n7" transform="translate(203,628) scale(1,5)" color="#6e6f74" opacity="0.30"/>
<rect x="203" y="633" width="1491" height="4" fill="#3d4a6c"/>
<use href="#n1" transform="translate(1694,633) scale(-1,4)" color="#0a3070" opacity="0.40"/>
<use href="#n4" transform="translate(203,633) scale(1,4)" color="#6e6f74" opacity="0.35"/>
<rect x="203" y="637" width="1491" height="5" fill="#6d6f72"/>
<use href="#n4" transform="translate(1694,637) scale(-1,5)" color="#0a3070" opacity="0.35"/>
<use href="#n1" transform="translate(1694,637) scale(-1,5)" color="#6e6f74" opacity="0.30"/>
<rect x="203" y="642" width="1491" height="5" fill="#38476c"/>
<use href="#n7" transform="translate(203,642) scale(1,5)" color="#0a3070" opacity="0.35"/>
<use href="#n8" transform="translate(1694,642) scale(-1,5)" color="#6e6f74" opacity="0.30"/>
<rect x="203" y="647" width="1491" height="5" fill="#fee838"/>
<rect x="203" y="652" width="1491" height="4" fill="#8b8778"/>
<use href="#n3" transform="translate(1694,652) scale(-1,4)" color="#2a4070" opacity="0.22"/>
<use href="#n2" transform="translate(203,652) scale(1,4)" color="#c0b47a" opacity="0.25"/>
<rect x="203" y="656" width="1491" height="5" fill="#868379"/>
<use href="#n6" transform="translate(1694,656) scale(-1,5)" color="#2a4070" opacity="0.22"/>
<use href="#n9" transform="translate(203,656) scale(1,5)" color="#c0b47a" opacity="0.25"/>
<rect x="203" y="661" width="1491" height="5" fill="#9c9576"/>
<use href="#n9" transform="translate(203,661) scale(1,5)" color="#2a4070" opacity="0.22"/>
<use href="#n6" transform="translate(203,661) scale(1,5)" color="#d0c068" opacity="0.25"/>
<rect x="203" y="666" width="1491" height="5" fill="#d1bf61"/>
<use href="#n2" transform="translate(203,666) scale(1,5)" color="#4a5570" opacity="0.25"/>
<use href="#n3" transform="translate(1694,666) scale(-1,5)" color="#fee838" opacity="0.30"/>
<rect x="203" y="671" width="1491" height="4" fill="#a69c74"/>
<use href="#n5" transform="translate(1694,671) scale(-1,4)" color="#2a4070" opacity="0.25"/>
<use href="#n0" transform="translate(1694,671) scale(-1,4)" color="#d0c068" opacity="0.25"/>
<rect x="203" y="675" width="1491" height="5" fill="#6b6d72"/>
<use href="#n8" transform="translate(1694,675) scale(-1,5)" color="#0a3070" opacity="0.40"/>
<use href="#n7" transform="translate(1694,675) scale(-1,5)" color="#6e6f74" opacity="0.35"/>
<rect x="203" y="680" width="1491" height="5" fill="#4a536c"/>
<use href="#n1" transform="translate(203,680) scale(1,5)" color="#0a3070" opacity="0.40"/>
<use href="#n4" transform="translate(203,680) scale(1,5)" color="#6e6f74" opacity="0.35"/>
<rect x="203" y="685" width="1491" height="5" fill="#083370"/>
<use href="#n4" transform="translate(203,685) scale(1,5)" color="#00224e" opacity="0.50"/>
<use href="#n1" transform="translate(203,685) scale(1,5)" color="#6e6f74" opacity="0.45"/>
<rect x="203" y="690" width="1491" height="4" fill="#7d7c78"/>
<use href="#n7" transform="translate(1694,690) scale(-1,4)" color="#06306e" opacity="0.90"/>
<use href="#n8" transform="translate(203,690) scale(1,4)" color="#aaa387" opacity="0.50"/>
<rect x="203" y="694" width="1491" height="5" fill="#003070"/>
<use href="#k4" transform="translate(203,694) scale(1,5)" color="#00224e" opacity="0.78"/>
<use href="#l3" transform="translate(203,694) scale(1,5)" color="#6e6f74" opacity="0.22"/>
<rect x="203" y="699" width="1491" height="5" fill="#003170"/>
<use href="#k3" transform="translate(203,699) scale(1,5)" color="#00224e" opacity="0.82"/>
<use href="#l2" transform="translate(1694,699) scale(-1,5)" color="#6e6f74" opacity="0.28"/>
<rect x="203" y="704" width="1491" height="5" fill="#002c64"/>
<use href="#k2" transform="translate(203,704) scale(1,5)" color="#00224e" opacity="0.83"/>
<use href="#l1" transform="translate(1694,704) scale(-1,5)" color="#6e6f74" opacity="0.10"/>
<rect x="203" y="709" width="1491" height="4" fill="#002a61"/>
<use href="#k1" transform="translate(1694,709) scale(-1,4)" color="#00224e" opacity="0.71"/>
<use href="#l0" transform="translate(1694,709) scale(-1,4)" color="#6e6f74" opacity="0.10"/>
<rect x="203" y="713" width="1491" height="5" fill="#00306f"/>
<use href="#k0" transform="translate(1694,713) scale(-1,5)" color="#00224e" opacity="0.75"/>
<use href="#l3" transform="translate(1694,713) scale(-1,5)" color="#6e6f74" opacity="0.27"/>
<rect x="203" y="718" width="1491" height="5" fill="#00306f"/>
<use href="#k5" transform="translate(1694,718) scale(-1,5)" color="#00224e" opacity="0.82"/>
<use href="#l2" transform="translate(203,718) scale(1,5)" color="#6e6f74" opacity="0.21"/>
<rect x="203" y="723" width="1491" height="5" fill="#2b406d"/>
<use href="#n8" transform="translate(203,723) scale(1,5)" color="#0a3070" opacity="0.45"/>
<use href="#n7" transform="translate(1694,723) scale(-1,5)" color="#6e6f74" opacity="0.45"/>
<rect x="203" y="728" width="1491" height="4" fill="#5b606e"/>
<use href="#n1" transform="translate(1694,728) scale(-1,4)" color="#0a3070" opacity="0.45"/>
<use href="#n4" transform="translate(1694,728) scale(-1,4)" color="#6e6f74" opacity="0.45"/>
<rect x="203" y="732" width="1491" height="5" fill="#e5cf52"/>
<use href="#n1" transform="translate(1694,732) scale(-1,5)" color="#fee838" opacity="0.30"/>
<rect x="203" y="737" width="1491" height="5" fill="#fee535"/>
<use href="#n8" transform="translate(203,737) scale(1,5)" color="#f0d94a" opacity="0.15"/>
<rect x="203" y="742" width="1491" height="5" fill="#fee535"/>
<use href="#n5" transform="translate(203,742) scale(1,5)" color="#f0d94a" opacity="0.15"/>
<rect x="203" y="813" width="1491" height="5" fill="#013271"/>
<use href="#k3" transform="translate(203,813) scale(1,5)" color="#00224e" opacity="0.45"/>
<use href="#n0" transform="translate(1694,813) scale(-1,5)" color="#6e6f74" opacity="0.43"/>
<rect x="203" y="818" width="1491" height="5" fill="#002f6d"/>
<use href="#k2" transform="translate(203,818) scale(1,5)" color="#00224e" opacity="0.79"/>
<use href="#l1" transform="translate(1694,818) scale(-1,5)" color="#6e6f74" opacity="0.28"/>
<rect x="203" y="851" width="1491" height="5" fill="#003171"/>
<use href="#k1" transform="translate(203,851) scale(1,5)" color="#00224e" opacity="0.63"/>
<use href="#n6" transform="translate(203,851) scale(1,5)" color="#6e6f74" opacity="0.45"/>
<rect x="203" y="856" width="1491" height="5" fill="#013271"/>
<use href="#k0" transform="translate(203,856) scale(1,5)" color="#00224e" opacity="0.49"/>
<use href="#n3" transform="translate(203,856) scale(1,5)" color="#6e6f74" opacity="0.42"/>
<rect x="203" y="861" width="1491" height="5" fill="#002a61"/>
<use href="#k5" transform="translate(203,861) scale(1,5)" color="#00224e" opacity="0.83"/>
<use href="#l0" transform="translate(1694,861) scale(-1,5)" color="#6e6f74" opacity="0.08"/>
<rect x="203" y="866" width="1491" height="4" fill="#013271"/>
<use href="#k4" transform="translate(203,866) scale(1,4)" color="#00224e" opacity="0.56"/>
<use href="#n7" transform="translate(1694,866) scale(-1,4)" color="#6e6f74" opacity="0.43"/>
<rect x="203" y="870" width="1491" height="5" fill="#00306f"/>
<use href="#k3" transform="translate(203,870) scale(1,5)" color="#00224e" opacity="0.76"/>
<use href="#l2" transform="translate(203,870) scale(1,5)" color="#6e6f74" opacity="0.22"/>
<rect x="203" y="875" width="1491" height="5" fill="#002a61"/>
<use href="#k2" transform="translate(203,875) scale(1,5)" color="#00224e" opacity="0.87"/>
<use href="#l1" transform="translate(203,875) scale(1,5)" color="#6e6f74" opacity="0.10"/>
<rect x="203" y="880" width="1491" height="5" fill="#00306f"/>
<use href="#k1" transform="translate(1694,880) scale(-1,5)" color="#00224e" opacity="0.75"/>
<use href="#l0" transform="translate(203,880) scale(1,5)" color="#6e6f74" opacity="0.33"/>
<rect x="203" y="885" width="1491" height="4" fill="#002b62"/>
<use href="#k0" transform="translate(1694,885) scale(-1,4)" color="#00224e" opacity="0.77"/>
<use href="#l3" transform="translate(203,885) scale(1,4)" color="#6e6f74" opacity="0.17"/>
<rect x="203" y="889" width="1491" height="5" fill="#002f6d"/>
<use href="#k5" transform="translate(1694,889) scale(-1,5)" color="#00224e" opacity="0.73"/>
<use href="#l2" transform="translate(1694,889) scale(-1,5)" color="#6e6f74" opacity="0.25"/>
<rect x="203" y="894" width="1491" height="5" fill="#002a61"/>
<use href="#k4" transform="translate(1694,894) scale(-1,5)" color="#00224e" opacity="0.77"/>
<use href="#l1" transform="translate(1694,894) scale(-1,5)" color="#6e6f74" opacity="0.08"/>
<rect x="203" y="899" width="1491" height="5" fill="#002b62"/>
<use href="#k3" transform="translate(1694,899) scale(-1,5)" color="#00224e" opacity="0.88"/>
<use href="#l0" transform="translate(1694,899) scale(-1,5)" color="#6e6f74" opacity="0.14"/>
<rect x="203" y="904" width="1491" height="4" fill="#003070"/>
<use href="#k2" transform="translate(1694,904) scale(-1,4)" color="#00224e" opacity="0.66"/>
<use href="#l3" transform="translate(1694,904) scale(-1,4)" color="#6e6f74" opacity="0.23"/>
<rect x="203" y="908" width="1491" height="5" fill="#002a61"/>
<use href="#k1" transform="translate(203,908) scale(1,5)" color="#00224e" opacity="0.73"/>
<use href="#l2" transform="translate(203,908) scale(1,5)" color="#6e6f74" opacity="0.19"/>
<rect x="203" y="913" width="1491" height="5" fill="#00306f"/>
<use href="#n8" transform="translate(203,913) scale(1,5)" color="#00224e" opacity="0.55"/>
<use href="#n7" transform="translate(203,913) scale(1,5)" color="#6e6f74" opacity="0.14"/>
<use href="#s3" transform="translate(203,913) scale(1,5)" color="#b5ad88" opacity="0.32"/>
<rect x="203" y="918" width="1491" height="5" fill="#00306f"/>
<use href="#n1" transform="translate(1694,918) scale(-1,5)" color="#00224e" opacity="0.55"/>
<use href="#n4" transform="translate(203,918) scale(1,5)" color="#6e6f74" opacity="0.14"/>
<use href="#s3" transform="translate(203,918) scale(1,5)" color="#b5ad88" opacity="0.32"/>
<rect x="203" y="923" width="1491" height="4" fill="#00306f"/>
<use href="#n4" transform="translate(1694,923) scale(-1,4)" color="#00224e" opacity="0.55"/>
<use href="#n1" transform="translate(1694,923) scale(-1,4)" color="#6e6f74" opacity="0.14"/>
<use href="#s3" transform="translate(203,923) scale(1,4)" color="#b5ad88" opacity="0.32"/>
<rect x="203" y="927" width="1491" height="5" fill="#002b62"/>
<use href="#k3" transform="translate(203,927) scale(1,5)" color="#00224e" opacity="0.87"/>
<use href="#l2" transform="translate(1694,927) scale(-1,5)" color="#6e6f74" opacity="0.18"/>
<rect x="203" y="932" width="1491" height="5" fill="#002a61"/>
<use href="#k2" transform="translate(203,932) scale(1,5)" color="#00224e" opacity="0.81"/>
<use href="#l1" transform="translate(1694,932) scale(-1,5)" color="#6e6f74" opacity="0.20"/>
<rect x="203" y="937" width="1491" height="5" fill="#003171"/>
<use href="#k1" transform="translate(1694,937) scale(-1,5)" color="#00224e" opacity="0.48"/>
<use href="#n2" transform="translate(203,937) scale(1,5)" color="#6e6f74" opacity="0.45"/>
<rect x="203" y="942" width="1491" height="4" fill="#003171"/>
<use href="#k0" transform="translate(1694,942) scale(-1,4)" color="#00224e" opacity="0.47"/>
<use href="#n9" transform="translate(203,942) scale(1,4)" color="#6e6f74" opacity="0.44"/>
<rect x="203" y="946" width="1491" height="5" fill="#002c64"/>
<use href="#k5" transform="translate(1694,946) scale(-1,5)" color="#00224e" opacity="0.76"/>
<use href="#l2" transform="translate(203,946) scale(1,5)" color="#6e6f74" opacity="0.20"/>
<rect x="203" y="951" width="1491" height="5" fill="#002e6a"/>
<use href="#n2" transform="translate(203,951) scale(1,5)" color="#00224e" opacity="0.55"/>
<use href="#n3" transform="translate(1694,951) scale(-1,5)" color="#6e6f74" opacity="0.12"/>
<use href="#s4" transform="translate(203,951) scale(1,5)" color="#c4ba92" opacity="0.95"/>
<rect x="203" y="956" width="1491" height="5" fill="#002a61"/>
<use href="#n5" transform="translate(1694,956) scale(-1,5)" color="#00224e" opacity="0.75"/>
<use href="#n0" transform="translate(1694,956) scale(-1,5)" color="#6e6f74" opacity="0.08"/>
<use href="#s4" transform="translate(203,956) scale(1,5)" color="#b5ad88" opacity="0.40"/>
<rect x="203" y="961" width="1491" height="4" fill="#00306f"/>
<use href="#n8" transform="translate(1694,961) scale(-1,4)" color="#00224e" opacity="0.55"/>
<use href="#n7" transform="translate(1694,961) scale(-1,4)" color="#6e6f74" opacity="0.15"/>
<use href="#s4" transform="translate(203,961) scale(1,4)" color="#b5ad88" opacity="0.55"/>
<rect x="203" y="965" width="1491" height="5" fill="#00306f"/>
<use href="#n1" transform="translate(203,965) scale(1,5)" color="#00224e" opacity="0.55"/>
<use href="#n4" transform="translate(203,965) scale(1,5)" color="#6e6f74" opacity="0.15"/>
<use href="#s4" transform="translate(203,965) scale(1,5)" color="#b5ad88" opacity="0.55"/>
<rect x="203" y="970" width="1491" height="5" fill="#002e6a"/>
<use href="#n4" transform="translate(203,970) scale(1,5)" color="#00224e" opacity="0.55"/>
<use href="#n1" transform="translate(203,970) scale(1,5)" color="#6e6f74" opacity="0.12"/>
<use href="#s4" transform="translate(203,970) scale(1,5)" color="#c4ba92" opacity="0.95"/>
<rect x="203" y="975" width="1491" height="5" fill="#1c396f"/>
<use href="#n7" transform="translate(1694,975) scale(-1,5)" color="#0a3070" opacity="0.45"/>
<use href="#n8" transform="translate(203,975) scale(1,5)" color="#6e6f74" opacity="0.45"/>
<rect x="203" y="980" width="1491" height="4" fill="#48526c"/>
<use href="#n0" transform="translate(1694,980) scale(-1,4)" color="#0a3070" opacity="0.45"/>
<use href="#n5" transform="translate(1694,980) scale(-1,4)" color="#99937f" opacity="0.50"/>
<rect x="203" y="984" width="1491" height="5" fill="#163770"/>
<use href="#n3" transform="translate(203,984) scale(1,5)" color="#0a3070" opacity="0.45"/>
<use href="#n2" transform="translate(1694,984) scale(-1,5)" color="#6e6f74" opacity="0.45"/>
<rect x="203" y="989" width="1491" height="5" fill="#00306f"/>
<use href="#k2" transform="translate(203,989) scale(1,5)" color="#00224e" opacity="0.75"/>
<use href="#l1" transform="translate(203,989) scale(1,5)" color="#6e6f74" opacity="0.25"/>
<rect x="203" y="994" width="1491" height="5" fill="#003170"/>
<use href="#k1" transform="translate(1694,994) scale(-1,5)" color="#00224e" opacity="0.69"/>
<use href="#l0" transform="translate(203,994) scale(1,5)" color="#6e6f74" opacity="0.24"/>
<rect x="203" y="999" width="1491" height="4" fill="#003171"/>
<use href="#k0" transform="translate(1694,999) scale(-1,4)" color="#00224e" opacity="0.50"/>
<use href="#n3" transform="translate(203,999) scale(1,4)" color="#6e6f74" opacity="0.45"/>
<rect x="203" y="1027" width="1491" height="5" fill="#3b496c"/>
<use href="#n0" transform="translate(203,1027) scale(1,5)" color="#0a3070" opacity="0.50"/>
<use href="#n5" transform="translate(203,1027) scale(1,5)" color="#8a8678" opacity="0.50"/>
<rect x="203" y="1032" width="1491" height="5" fill="#00306f"/>
<use href="#k5" transform="translate(203,1032) scale(1,5)" color="#00224e" opacity="0.78"/>
<use href="#l0" transform="translate(203,1032) scale(1,5)" color="#6e6f74" opacity="0.22"/>
<rect x="203" y="1037" width="1491" height="4" fill="#003070"/>
<use href="#k4" transform="translate(203,1037) scale(1,4)" color="#00224e" opacity="0.75"/>
<use href="#l3" transform="translate(203,1037) scale(1,4)" color="#6e6f74" opacity="0.22"/>
<rect x="203" y="1041" width="1491" height="5" fill="#013271"/>
<use href="#k3" transform="translate(203,1041) scale(1,5)" color="#00224e" opacity="0.57"/>
<use href="#n6" transform="translate(1694,1041) scale(-1,5)" color="#6e6f74" opacity="0.38"/>
<rect x="203" y="1046" width="1491" height="5" fill="#003171"/>
<use href="#k2" transform="translate(203,1046) scale(1,5)" color="#00224e" opacity="0.56"/>
<use href="#n3" transform="translate(1694,1046) scale(-1,5)" color="#6e6f74" opacity="0.42"/>
<rect x="203" y="1051" width="1491" height="5" fill="#243c6e"/>
<use href="#n5" transform="translate(1694,1051) scale(-1,5)" color="#0a3070" opacity="0.50"/>
<use href="#n0" transform="translate(203,1051) scale(1,5)" color="#6e6f74" opacity="0.45"/>
<use href="#d0" transform="translate(203,119) scale(1,109)" color="#00224e" opacity="0.38"/>
<use href="#v1" transform="translate(1694,119) scale(-1,29)" color="#7d7c78" opacity="0.22"/>
<use href="#v3" transform="translate(203,133) scale(1,29)" color="#7d7c78" opacity="0.18"/>
<use href="#v4" transform="translate(1694,148) scale(-1,33)" color="#7d7c78" opacity="0.22"/>
<use href="#v0" transform="translate(1694,181) scale(-1,28)" color="#7d7c78" opacity="0.12"/>
<use href="#v5" transform="translate(203,200) scale(1,28)" color="#7d7c78" opacity="0.14"/>
<use href="#d0" transform="translate(1694,238) scale(-1,109)" color="#00224e" opacity="0.30"/>
<use href="#d1" transform="translate(203,238) scale(1,57)" color="#00224e" opacity="0.30"/>
<use href="#d1" transform="translate(1694,285) scale(-1,62)" color="#00224e" opacity="0.30"/>
<use href="#v0" transform="translate(203,238) scale(1,24)" color="#99937f" opacity="0.24"/>
<use href="#v1" transform="translate(1694,252) scale(-1,29)" color="#99937f" opacity="0.26"/>
<use href="#v3" transform="translate(203,266) scale(1,29)" color="#99937f" opacity="0.28"/>
<use href="#v4" transform="translate(1694,285) scale(-1,29)" color="#99937f" opacity="0.26"/>
<use href="#v5" transform="translate(203,300) scale(1,33)" color="#99937f" opacity="0.22"/>
<use href="#v0" transform="translate(1694,319) scale(-1,28)" color="#99937f" opacity="0.20"/>
<use href="#v2" transform="translate(203,243) scale(1,42)" color="#99937f" opacity="0.15"/>
<use href="#v2" transform="translate(1694,290) scale(-1,48)" color="#99937f" opacity="0.14"/>
<use href="#d0" transform="translate(203,357) scale(1,19)" color="#00224e" opacity="0.35"/>
<use href="#d0" transform="translate(1694,499) scale(-1,29)" color="#00224e" opacity="0.35"/>
<use href="#s0" transform="translate(1694,595) scale(-1,14)" color="#0a3070" opacity="0.55"/>
<use href="#s1" transform="translate(203,623) scale(1,24)" color="#0a3070" opacity="0.80"/>
<use href="#s2" transform="translate(1694,652) scale(-1,33)" color="#16366f" opacity="0.85"/>
<use href="#s3" transform="translate(203,652) scale(1,23)" color="#16366f" opacity="0.60"/>
<use href="#s0" transform="translate(203,694) scale(1,29)" color="#00224e" opacity="0.55"/>
<use href="#d1" transform="translate(203,694) scale(1,29)" color="#00224e" opacity="0.35"/>
<use href="#d0" transform="translate(203,851) scale(1,62)" color="#00224e" opacity="0.32"/>
<use href="#d1" transform="translate(1694,851) scale(-1,34)" color="#00224e" opacity="0.30"/>
<use href="#d1" transform="translate(203,875) scale(1,38)" color="#00224e" opacity="0.30"/>
<use href="#v1" transform="translate(203,851) scale(1,29)" color="#7d7c78" opacity="0.12"/>
<use href="#v3" transform="translate(1694,870) scale(-1,29)" color="#7d7c78" opacity="0.10"/>
<use href="#v5" transform="translate(203,889) scale(1,24)" color="#7d7c78" opacity="0.10"/>
<use href="#d0" transform="translate(1694,927) scale(-1,76)" color="#00224e" opacity="0.38"/>
<use href="#d0" transform="translate(203,1032) scale(1,19)" color="#00224e" opacity="0.35"/>
<rect x="1035" y="518" width="5" height="5" fill="#8a8678" opacity="0.22"/>
<rect x="574" y="518" width="3" height="5" fill="#8a8678" opacity="0.24"/>
<rect x="385" y="518" width="4" height="5" fill="#8a8678" opacity="0.41"/>
<rect x="1295" y="518" width="7" height="5" fill="#8a8678" opacity="0.40"/>
<rect x="391" y="518" width="6" height="5" fill="#8a8678" opacity="0.32"/>
<rect x="1071" y="518" width="7" height="5" fill="#8a8678" opacity="0.36"/>
<rect x="651" y="518" width="4" height="5" fill="#8a8678" opacity="0.44"/>
<rect x="1605" y="518" width="3" height="5" fill="#8a8678" opacity="0.20"/>
<rect x="1560" y="518" width="3" height="5" fill="#8a8678" opacity="0.45"/>
<rect x="901" y="518" width="2" height="5" fill="#8a8678" opacity="0.48"/>
<rect x="1290" y="518" width="7" height="5" fill="#8a8678" opacity="0.42"/>
<rect x="1168" y="518" width="4" height="5" fill="#8a8678" opacity="0.29"/>
<rect x="759" y="518" width="6" height="5" fill="#8a8678" opacity="0.15"/>
<rect x="625" y="518" width="4" height="5" fill="#8a8678" opacity="0.50"/>
<rect x="1302" y="523" width="2" height="5" fill="#8a8678" opacity="0.31"/>
<rect x="613" y="523" width="6" height="5" fill="#8a8678" opacity="0.31"/>
<rect x="313" y="523" width="4" height="5" fill="#8a8678" opacity="0.20"/>
<rect x="1672" y="523" width="3" height="5" fill="#8a8678" opacity="0.41"/>
<rect x="1112" y="523" width="6" height="5" fill="#8a8678" opacity="0.47"/>
<rect x="571" y="523" width="6" height="5" fill="#8a8678" opacity="0.38"/>
<rect x="283" y="523" width="2" height="5" fill="#8a8678" opacity="0.16"/>
<rect x="1178" y="523" width="7" height="5" fill="#8a8678" opacity="0.44"/>
<rect x="374" y="523" width="5" height="5" fill="#8a8678" opacity="0.37"/>
<rect x="500" y="523" width="4" height="5" fill="#8a8678" opacity="0.37"/>
<rect x="988" y="523" width="4" height="5" fill="#8a8678" opacity="0.20"/>
<rect x="1038" y="523" width="3" height="5" fill="#8a8678" opacity="0.46"/>
<rect x="321" y="523" width="7" height="5" fill="#8a8678" opacity="0.22"/>
<rect x="735" y="523" width="6" height="5" fill="#8a8678" opacity="0.29"/>
<rect x="466" y="523" width="4" height="5" fill="#8a8678" opacity="0.48"/>
<rect x="1183" y="523" width="2" height="5" fill="#8a8678" opacity="0.20"/>
<rect x="1679" y="523" width="6" height="5" fill="#8a8678" opacity="0.42"/>
<rect x="516" y="523" width="6" height="5" fill="#8a8678" opacity="0.48"/>
<rect x="462" y="523" width="2" height="5" fill="#8a8678" opacity="0.19"/>
<rect x="814" y="523" width="3" height="5" fill="#8a8678" opacity="0.50"/>
<rect x="1047" y="523" width="3" height="5" fill="#8a8678" opacity="0.47"/>
<rect x="1356" y="523" width="4" height="5" fill="#8a8678" opacity="0.42"/>
<rect x="687" y="528" width="4" height="5" fill="#8a8678" opacity="0.19"/>
<rect x="948" y="528" width="3" height="5" fill="#8a8678" opacity="0.39"/>
<rect x="1234" y="528" width="4" height="5" fill="#8a8678" opacity="0.15"/>
<rect x="305" y="528" width="4" height="5" fill="#8a8678" opacity="0.23"/>
<rect x="1025" y="528" width="4" height="5" fill="#8a8678" opacity="0.44"/>
<rect x="1025" y="528" width="5" height="5" fill="#8a8678" opacity="0.29"/>
<rect x="967" y="528" width="6" height="5" fill="#8a8678" opacity="0.18"/>
<rect x="284" y="528" width="4" height="5" fill="#8a8678" opacity="0.40"/>
<rect x="1024" y="528" width="5" height="5" fill="#8a8678" opacity="0.23"/>
<rect x="1548" y="528" width="3" height="5" fill="#8a8678" opacity="0.38"/>
<rect x="844" y="528" width="2" height="5" fill="#8a8678" opacity="0.46"/>
<rect x="850" y="528" width="3" height="5" fill="#8a8678" opacity="0.42"/>
<rect x="1665" y="528" width="7" height="5" fill="#8a8678" opacity="0.40"/>
<rect x="993" y="528" width="4" height="5" fill="#8a8678" opacity="0.30"/>
<rect x="372" y="528" width="5" height="5" fill="#8a8678" opacity="0.30"/>
<rect x="732" y="528" width="2" height="5" fill="#8a8678" opacity="0.33"/>
<rect x="479" y="514" width="4" height="4" fill="#6e6f74"/>
<rect x="479" y="518" width="4" height="5" fill="#a39a78"/>
<rect x="479" y="523" width="4" height="5" fill="#d8c860"/>
<rect x="479" y="528" width="4" height="5" fill="#d8c860"/>
<rect x="458" y="528" width="4" height="5" fill="#8c8878"/>
<rect x="234" y="732" width="1" height="15" fill="#122f66"/>
<rect x="254" y="732" width="1" height="15" fill="#122f66"/>
<rect x="333" y="732" width="1" height="15" fill="#122f66"/>
<rect x="353" y="732" width="1" height="15" fill="#122f66"/>
<rect x="432" y="732" width="1" height="15" fill="#122f66"/>
<rect x="451" y="732" width="1" height="15" fill="#122f66"/>
<rect x="530" y="732" width="1" height="15" fill="#122f66"/>
<rect x="550" y="732" width="1" height="15" fill="#122f66"/>
<rect x="630" y="732" width="1" height="15" fill="#122f66"/>
<rect x="650" y="732" width="1" height="15" fill="#122f66"/>
<rect x="748" y="732" width="1" height="15" fill="#122f66"/>
<rect x="768" y="732" width="1" height="15" fill="#122f66"/>
<rect x="847" y="732" width="1" height="15" fill="#122f66"/>
<rect x="868" y="732" width="1" height="15" fill="#122f66"/>
<rect x="946" y="732" width="1" height="15" fill="#122f66"/>
<rect x="966" y="732" width="1" height="15" fill="#122f66"/>
<rect x="1046" y="732" width="1" height="15" fill="#122f66"/>
<rect x="1065" y="732" width="1" height="15" fill="#122f66"/>
<rect x="1144" y="732" width="1" height="15" fill="#122f66"/>
<rect x="1164" y="732" width="1" height="15" fill="#122f66"/>
<rect x="1243" y="732" width="1" height="15" fill="#122f66"/>
<rect x="1263" y="732" width="1" height="15" fill="#122f66"/>
<rect x="1362" y="732" width="1" height="15" fill="#122f66"/>
<rect x="1382" y="732" width="1" height="15" fill="#122f66"/>
<rect x="1461" y="732" width="1" height="15" fill="#122f66"/>
<rect x="1481" y="732" width="1" height="15" fill="#122f66"/>
<rect x="1561" y="732" width="1" height="15" fill="#122f66"/>
<rect x="1580" y="732" width="1" height="15" fill="#122f66"/>
<rect x="1660" y="732" width="1" height="15" fill="#122f66"/>
<rect x="1679" y="732" width="1" height="15" fill="#122f66"/>
<rect x="212" y="647" width="1" height="5" fill="#0a2f6a"/>
<rect x="232" y="647" width="1" height="5" fill="#0a2f6a"/>
<rect x="311" y="647" width="1" height="5" fill="#0a2f6a"/>
<rect x="411" y="647" width="1" height="5" fill="#0a2f6a"/>
<rect x="430" y="647" width="1" height="5" fill="#0a2f6a"/>
<rect x="510" y="647" width="1" height="5" fill="#0a2f6a"/>
<rect x="529" y="647" width="1" height="5" fill="#0a2f6a"/>
<rect x="608" y="647" width="1" height="5" fill="#0a2f6a"/>
<rect x="628" y="647" width="1" height="5" fill="#0a2f6a"/>
<rect x="708" y="647" width="1" height="5" fill="#0a2f6a"/>
<rect x="727" y="647" width="1" height="5" fill="#0a2f6a"/>
<rect x="807" y="647" width="1" height="5" fill="#0a2f6a"/>
<rect x="827" y="647" width="1" height="5" fill="#0a2f6a"/>
<rect x="926" y="647" width="1" height="5" fill="#0a2f6a"/>
<rect x="945" y="647" width="1" height="5" fill="#0a2f6a"/>
<rect x="1025" y="647" width="1" height="5" fill="#0a2f6a"/>
<rect x="1045" y="647" width="1" height="5" fill="#0a2f6a"/>
<rect x="1124" y="647" width="1" height="5" fill="#0a2f6a"/>
<rect x="1144" y="647" width="1" height="5" fill="#0a2f6a"/>
<rect x="1222" y="647" width="1" height="5" fill="#0a2f6a"/>
<rect x="1242" y="647" width="1" height="5" fill="#0a2f6a"/>
<rect x="1322" y="647" width="1" height="5" fill="#0a2f6a"/>
<rect x="1342" y="647" width="1" height="5" fill="#0a2f6a"/>
<rect x="1440" y="647" width="1" height="5" fill="#0a2f6a"/>
<rect x="1460" y="647" width="1" height="5" fill="#0a2f6a"/>
<rect x="1539" y="647" width="1" height="5" fill="#0a2f6a"/>
<rect x="1558" y="647" width="1" height="5" fill="#0a2f6a"/>
<rect x="1638" y="647" width="1" height="5" fill="#0a2f6a"/>
<rect x="1658" y="647" width="1" height="5" fill="#0a2f6a"/>
</g>
<rect x="204.5" y="109.5" width="1488.0" height="951.0" fill="none" stroke="#fff" stroke-width="3.33"/>
<path d="M204.05 109.5V88M204.05 1060.5V1080.4M303.05 109.5V99M303.05 1060.5V1069.8M402.05 109.5V99M402.05 1060.5V1069.8M501.05 109.5V88M501.05 1060.5V1080.4M600.05 109.5V99M600.05 1060.5V1069.8M699.05 109.5V99M699.05 1060.5V1069.8M798.05 109.5V88M798.05 1060.5V1080.4M897.05 109.5V99M897.05 1060.5V1069.8M996.05 109.5V99M996.05 1060.5V1069.8M1095.05 109.5V88M1095.05 1060.5V1080.4M1194.05 109.5V99M1194.05 1060.5V1069.8M1293.05 109.5V99M1293.05 1060.5V1069.8M1392.05 109.5V88M1392.05 1060.5V1080.4M1491.05 109.5V99M1491.05 1060.5V1069.8M1590.05 109.5V99M1590.05 1060.5V1069.8M1689.05 109.5V88M1689.05 1060.5V1080.4" stroke="#fff" stroke-width="4.17" fill="none"/>
<path d="M204.5 155.00H182.9M1692.5 155.00H1713M204.5 230.93H182.9M1692.5 230.93H1713M204.5 295.13H182.9M1692.5 295.13H1713M204.5 350.74H182.9M1692.5 350.74H1713M204.5 399.79H182.9M1692.5 399.79H1713M204.5 443.67H182.9M1692.5 443.67H1713M204.5 612.53H182.9M1692.5 612.53H1713M204.5 732.34H182.9M1692.5 732.34H1713M204.5 825.27H182.9M1692.5 825.27H1713M204.5 901.20H182.9M1692.5 901.20H1713M204.5 965.39H182.9M1692.5 965.39H1713M204.5 1021.00H182.9M1692.5 1021.00H1713" stroke="#fff" stroke-width="4.17" fill="none"/>
<g fill="#fff" font-family="'DejaVu Sans','Liberation Sans',sans-serif" style="font-variant-ligatures:none" filter="url(#gs)">
<text x="947.8" y="68" font-size="50" text-anchor="middle">2022-02-21 Radio flux density, e-CALLISTO (HUMAIN)</text>
<g font-size="41.67">
<text transform="translate(168.2,172.4) scale(0.985,1.025)" text-anchor="end">50</text>
<text transform="translate(168.2,248.3) scale(0.985,1.025)" text-anchor="end">60</text>
<text transform="translate(168.2,312.5) scale(0.985,1.025)" text-anchor="end">70</text>
<text transform="translate(168.2,368.1) scale(0.985,1.025)" text-anchor="end">80</text>
<text transform="translate(168.2,417.2) scale(0.985,1.025)" text-anchor="end">90</text>
<text transform="translate(168.2,461.1) scale(0.985,1.025)" text-anchor="end">100</text>
<text transform="translate(168.2,629.9) scale(0.985,1.025)" text-anchor="end">150</text>
<text transform="translate(168.2,749.7) scale(0.985,1.025)" text-anchor="end">200</text>
<text transform="translate(168.2,842.7) scale(0.985,1.025)" text-anchor="end">250</text>
<text transform="translate(168.2,918.6) scale(0.985,1.025)" text-anchor="end">300</text>
<text transform="translate(168.2,982.8) scale(0.985,1.025)" text-anchor="end">350</text>
<text transform="translate(168.2,1038.4) scale(0.985,1.025)" text-anchor="end">400</text>
<text transform="translate(204.5,1129.0) scale(0.988,1.025)" text-anchor="middle">04:45</text>
<text transform="translate(501.5,1129.0) scale(0.988,1.025)" text-anchor="middle">04:48</text>
<text transform="translate(798.5,1129.0) scale(0.988,1.025)" text-anchor="middle">04:51</text>
<text transform="translate(1095.5,1129.0) scale(0.988,1.025)" text-anchor="middle">04:54</text>
<text transform="translate(1392.5,1129.0) scale(0.988,1.025)" text-anchor="middle">04:57</text>
<text transform="translate(1689.5,1129.0) scale(0.988,1.025)" text-anchor="middle">05:00</text>
<text transform="translate(948.0,1187.6) scale(0.994,1.025)" text-anchor="middle">Time [UT]</text>
<text transform="translate(62.0,585.5) rotate(-90) scale(1.000,1.025)" text-anchor="middle">Frequency [MHz]</text>
</g></g>
<defs><path id="st" d="M0,-5.6L1.32,-1.8L5.33,-1.73L2.13,0.69L3.29,4.53L0,2.24L-3.29,4.53L-2.13,0.69L-5.33,-1.73L-1.32,-1.8Z" fill="#fff"/></defs>
<use href="#st" x="252.4" y="1151.6"/>
<use href="#st" x="217.5" y="1170.8"/>
<use href="#st" x="234.9" y="1170.8"/>
<use href="#st" x="252.4" y="1170.8"/>
<use href="#st" x="269.9" y="1170.8"/>
<use href="#st" x="287.3" y="1170.8"/>
<use href="#st" x="226.1" y="1189.8"/>
<use href="#st" x="243.6" y="1189.8"/>
<use href="#st" x="261.1" y="1189.8"/>
<use href="#st" x="278.6" y="1189.8"/>
<g fill="#d6d6d6" font-family="'Liberation Sans',sans-serif" font-size="14.2" filter="url(#gs)">
<text x="313.5" y="1167.6" letter-spacing="1.47">Royal Observatory</text>
<text x="313.5" y="1187.6" font-style="italic" letter-spacing="1.47">of</text>
<text x="337.4" y="1187.6" letter-spacing="1.47">Belgium</text>
</g>
</svg>
</body></html>
